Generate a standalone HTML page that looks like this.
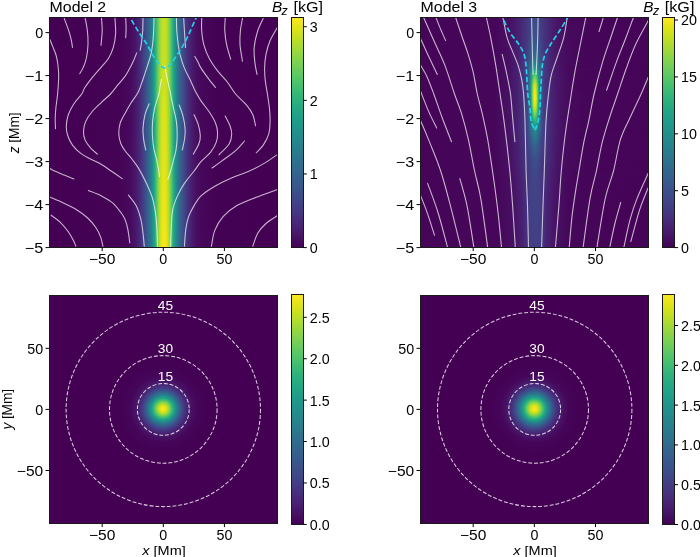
<!DOCTYPE html>
<html><head><meta charset="utf-8"><style>
html,body{margin:0;padding:0;background:#fff;}
#fig{position:relative;width:700px;height:557px;overflow:hidden;background:#fff;}
#fig div{position:absolute;}
text{font-family:"Liberation Sans",sans-serif;}
</style></head><body><div id="fig">
<div style="left:49.00px;top:17.30px;width:228.60px;height:2.60px;background:linear-gradient(90deg,#440154 0.0px,#450356 71.0px,#46095c 81.0px,#481467 86.0px,#482676 90.5px,#453681 93.5px,#39578c 98.0px,#2a768e 102.0px,#1f9a8a 105.0px,#23a984 106.0px,#33b679 107.0px,#56c666 108.5px,#83d44c 110.0px,#b7de2a 112.5px,#c9e01f 115.0px,#b7de2a 117.5px,#86d44a 120.0px,#4fc36b 122.0px,#2eb37c 123.5px,#21a585 124.5px,#1f988b 125.5px,#2d708e 129.0px,#3f4889 134.5px,#472e7c 138.5px,#48196b 143.5px,#470e61 147.5px,#45065a 152.5px,#440255 168.0px,#440154 228.5px)"></div>
<div style="left:49.00px;top:19.30px;width:228.60px;height:2.60px;background:linear-gradient(90deg,#440154 0.0px,#450356 71.0px,#46095c 81.0px,#481467 86.0px,#482676 90.5px,#453681 93.5px,#39578c 98.0px,#2a768e 102.0px,#1f9a8a 105.0px,#23a984 106.0px,#34b679 107.0px,#56c666 108.5px,#83d44b 110.0px,#b7de2a 112.5px,#cae01f 115.0px,#b7de2a 117.5px,#86d44a 120.0px,#4fc36b 122.0px,#2eb37c 123.5px,#21a585 124.5px,#1f988b 125.5px,#2d708e 129.0px,#3f4989 134.5px,#472e7c 138.5px,#48196b 143.5px,#470e61 147.5px,#45065a 152.5px,#440255 168.0px,#440154 228.5px)"></div>
<div style="left:49.00px;top:21.30px;width:228.60px;height:2.60px;background:linear-gradient(90deg,#440154 0.0px,#450356 71.0px,#46095c 81.0px,#481467 86.0px,#482677 90.5px,#453681 93.5px,#39578c 98.0px,#2a768e 102.0px,#1f9a8a 105.0px,#23a984 106.0px,#34b679 107.0px,#56c666 108.5px,#83d44b 110.0px,#b7de2a 112.5px,#cae01f 115.0px,#b7de2a 117.5px,#86d44a 120.0px,#4fc36a 122.0px,#2eb37c 123.5px,#21a685 124.5px,#1f988b 125.5px,#2d708e 129.0px,#3f4989 134.5px,#472e7c 138.5px,#48196b 143.5px,#470e61 147.5px,#45065a 152.5px,#440255 168.0px,#440154 228.5px)"></div>
<div style="left:49.00px;top:23.30px;width:228.60px;height:2.60px;background:linear-gradient(90deg,#440154 0.0px,#450356 71.0px,#46095c 81.0px,#481467 86.0px,#482677 90.5px,#453681 93.5px,#39578c 98.0px,#2a768e 102.0px,#1f9a8a 105.0px,#23a984 106.0px,#34b679 107.0px,#57c666 108.5px,#83d44b 110.0px,#b7de2a 112.5px,#cae11f 115.0px,#b8de2a 117.5px,#86d54a 120.0px,#4fc36a 122.0px,#2eb37c 123.5px,#21a685 124.5px,#1f988b 125.5px,#2d718e 129.0px,#3f4989 134.5px,#472e7c 138.5px,#48196b 143.5px,#470e61 147.5px,#46065a 152.5px,#440255 168.0px,#440154 228.5px)"></div>
<div style="left:49.00px;top:25.30px;width:228.60px;height:2.60px;background:linear-gradient(90deg,#440154 0.0px,#450356 71.0px,#46095c 81.0px,#481467 86.0px,#482677 90.5px,#453781 93.5px,#39578c 98.0px,#2a768e 102.0px,#1e9b8a 105.0px,#23a984 106.0px,#34b679 107.0px,#57c766 108.5px,#83d44b 110.0px,#b7de2a 112.5px,#cae11f 115.0px,#b8de29 117.5px,#86d549 120.0px,#4fc46a 122.0px,#2eb37c 123.5px,#21a685 124.5px,#1f988b 125.5px,#2d718e 129.0px,#3f4989 134.5px,#472e7c 138.5px,#48196b 143.5px,#470e61 147.5px,#46065a 152.5px,#440255 168.0px,#440154 228.5px)"></div>
<div style="left:49.00px;top:27.30px;width:228.60px;height:2.60px;background:linear-gradient(90deg,#440154 0.0px,#450356 71.0px,#46095d 81.0px,#481467 86.0px,#482677 90.5px,#453781 93.5px,#39578c 98.0px,#2a768e 102.0px,#1e9b8a 105.0px,#23a984 106.0px,#34b779 107.0px,#57c766 108.5px,#83d44b 110.0px,#b7de2a 112.5px,#cae11f 115.0px,#b8de29 117.5px,#86d549 120.0px,#4fc46a 122.0px,#2eb37c 123.5px,#21a685 124.5px,#1f988b 125.5px,#2d718e 129.0px,#3f4989 134.5px,#472e7c 138.5px,#48196b 143.5px,#470e61 147.5px,#46065a 152.5px,#440255 168.0px,#440154 228.5px)"></div>
<div style="left:49.00px;top:29.30px;width:228.60px;height:2.60px;background:linear-gradient(90deg,#440154 0.0px,#450356 71.0px,#46095d 81.0px,#481467 86.0px,#482677 90.5px,#453781 93.5px,#39578c 98.0px,#2a768e 102.0px,#1e9b8a 105.0px,#23a984 106.0px,#34b779 107.0px,#57c766 108.5px,#84d44b 110.0px,#b8de2a 112.5px,#cae11f 115.0px,#b8de29 117.5px,#86d549 120.0px,#4fc46a 122.0px,#2fb37c 123.5px,#21a685 124.5px,#1f988b 125.5px,#2d718e 129.0px,#3f4989 134.5px,#472e7c 138.5px,#48196b 143.5px,#470e61 147.5px,#46065a 152.5px,#440255 168.0px,#440154 228.5px)"></div>
<div style="left:49.00px;top:31.30px;width:228.60px;height:2.60px;background:linear-gradient(90deg,#440154 0.0px,#450356 71.0px,#46095d 81.0px,#481467 86.0px,#482677 90.5px,#453781 93.5px,#39578c 98.0px,#2a768e 102.0px,#1e9b8a 105.0px,#23a983 106.0px,#34b779 107.0px,#57c766 108.5px,#84d44b 110.0px,#b8de29 112.5px,#cbe11f 115.0px,#b8de29 117.5px,#87d549 120.0px,#4fc46a 122.0px,#2fb37c 123.5px,#21a685 124.5px,#1f988b 125.5px,#2d718e 129.0px,#3f4989 134.5px,#472e7c 138.5px,#48196b 143.5px,#470e61 147.5px,#46065a 152.5px,#440255 168.0px,#440154 228.5px)"></div>
<div style="left:49.00px;top:33.30px;width:228.60px;height:2.60px;background:linear-gradient(90deg,#440154 0.0px,#450356 71.0px,#46095d 81.0px,#481467 86.0px,#482677 90.5px,#453781 93.5px,#38578c 98.0px,#2a778e 102.0px,#1e9b8a 105.0px,#23a983 106.0px,#34b779 107.0px,#57c766 108.5px,#84d44b 110.0px,#b8de29 112.5px,#cbe11e 115.0px,#b8de29 117.5px,#87d549 120.0px,#4fc46a 122.0px,#2fb37c 123.5px,#21a685 124.5px,#1f988b 125.5px,#2d718e 129.0px,#3f4989 134.5px,#472e7c 138.5px,#48196b 143.5px,#470e61 147.5px,#46065a 152.5px,#440255 168.0px,#440154 228.5px)"></div>
<div style="left:49.00px;top:35.30px;width:228.60px;height:2.60px;background:linear-gradient(90deg,#440154 0.0px,#450356 71.0px,#46095d 81.0px,#481467 86.0px,#482677 90.5px,#453781 93.5px,#38578c 98.0px,#2a778e 102.0px,#1e9b8a 105.0px,#23a983 106.0px,#34b779 107.0px,#57c766 108.5px,#84d44b 110.0px,#b8de29 112.5px,#cbe11e 115.0px,#b9de29 117.5px,#87d549 120.0px,#4fc46a 122.0px,#2fb37c 123.5px,#21a685 124.5px,#1f988b 125.5px,#2d718e 129.0px,#3f4989 134.5px,#472e7c 138.5px,#48196b 143.5px,#470e61 147.5px,#46065a 152.5px,#440255 168.0px,#440154 228.5px)"></div>
<div style="left:49.00px;top:37.30px;width:228.60px;height:2.60px;background:linear-gradient(90deg,#440154 0.0px,#450356 71.0px,#46095d 81.0px,#481467 86.0px,#482677 90.5px,#453781 93.5px,#38578c 98.0px,#2a778e 102.0px,#1e9b8a 105.0px,#23a983 106.0px,#34b779 107.0px,#57c766 108.5px,#84d44b 110.0px,#b8de29 112.5px,#cbe11e 115.0px,#b9de29 117.5px,#87d549 120.0px,#4fc46a 122.0px,#2fb37c 123.5px,#21a685 124.5px,#1f988b 125.5px,#2b758e 128.5px,#3f4989 134.5px,#472e7c 138.5px,#48196b 143.5px,#470e61 147.5px,#46065a 152.5px,#440255 168.0px,#440154 228.5px)"></div>
<div style="left:49.00px;top:39.30px;width:228.60px;height:2.60px;background:linear-gradient(90deg,#440154 0.0px,#450356 71.0px,#46095d 81.0px,#481467 86.0px,#482677 90.5px,#453781 93.5px,#38578c 98.0px,#2a778e 102.0px,#1e9b8a 105.0px,#23a983 106.0px,#34b779 107.0px,#57c766 108.5px,#84d44b 110.0px,#b8de29 112.5px,#cbe11e 115.0px,#b9de29 117.5px,#87d549 120.0px,#50c46a 122.0px,#2fb37c 123.5px,#21a685 124.5px,#1f988b 125.5px,#2b758e 128.5px,#3f4989 134.5px,#472e7c 138.5px,#48196b 143.5px,#470e61 147.5px,#46065a 152.5px,#440255 168.0px,#440154 228.5px)"></div>
<div style="left:49.00px;top:41.30px;width:228.60px;height:2.60px;background:linear-gradient(90deg,#440154 0.0px,#450356 71.0px,#46095d 81.0px,#481467 86.0px,#482677 90.5px,#453781 93.5px,#38578c 98.0px,#2a778e 102.0px,#1e9b8a 105.0px,#23a983 106.0px,#34b779 107.0px,#57c765 108.5px,#84d44b 110.0px,#b8de29 112.5px,#cbe11e 115.0px,#b9de29 117.5px,#87d549 120.0px,#50c46a 122.0px,#2fb37c 123.5px,#21a685 124.5px,#1f988b 125.5px,#2b758e 128.5px,#3f4989 134.5px,#472e7c 138.5px,#48196b 143.5px,#470e61 147.5px,#46065a 152.5px,#440255 168.0px,#440154 228.5px)"></div>
<div style="left:49.00px;top:43.30px;width:228.60px;height:2.60px;background:linear-gradient(90deg,#440154 0.0px,#450356 71.0px,#46095d 81.0px,#481467 86.0px,#482677 90.5px,#453781 93.5px,#38578c 98.0px,#2a778e 102.0px,#1e9b8a 105.0px,#23a983 106.0px,#34b779 107.0px,#58c765 108.5px,#84d44b 110.0px,#b9de29 112.5px,#cbe11e 115.0px,#b9de29 117.5px,#87d549 120.0px,#50c46a 122.0px,#2fb37c 123.5px,#21a685 124.5px,#1f988b 125.5px,#2b758e 128.5px,#3f4989 134.5px,#472e7c 138.5px,#48196b 143.5px,#470e61 147.5px,#46065a 152.5px,#440255 168.0px,#440154 228.5px)"></div>
<div style="left:49.00px;top:45.30px;width:228.60px;height:2.60px;background:linear-gradient(90deg,#440154 0.0px,#450356 71.0px,#46095d 81.0px,#481467 86.0px,#482677 90.5px,#453781 93.5px,#38578c 98.0px,#2a778e 102.0px,#1e9b8a 105.0px,#23a983 106.0px,#34b779 107.0px,#58c765 108.5px,#85d44a 110.0px,#b9de29 112.5px,#cce11e 115.0px,#b9de28 117.5px,#87d549 120.0px,#50c46a 122.0px,#2fb37c 123.5px,#21a685 124.5px,#1f998a 125.5px,#2b758e 128.5px,#3f4989 134.5px,#472e7c 138.5px,#48196b 143.5px,#470e61 147.5px,#46065a 152.5px,#440255 168.0px,#440154 228.5px)"></div>
<div style="left:49.00px;top:47.30px;width:228.60px;height:2.60px;background:linear-gradient(90deg,#440154 0.0px,#450356 71.0px,#46095d 81.0px,#481467 86.0px,#482677 90.5px,#453781 93.5px,#38578c 98.0px,#2a778e 102.0px,#1e9b8a 105.0px,#23a983 106.0px,#34b779 107.0px,#58c765 108.5px,#85d44a 110.0px,#b9de29 112.5px,#cce11e 115.0px,#b9de28 117.5px,#88d549 120.0px,#50c46a 122.0px,#2fb37c 123.5px,#21a685 124.5px,#1f998a 125.5px,#2b758e 128.5px,#3f4989 134.5px,#472e7c 138.5px,#48196b 143.5px,#470e61 147.5px,#46065a 152.5px,#440255 168.0px,#440154 228.5px)"></div>
<div style="left:49.00px;top:49.30px;width:228.60px;height:2.60px;background:linear-gradient(90deg,#440154 0.0px,#450356 71.0px,#46095d 81.0px,#481467 86.0px,#482677 90.5px,#453781 93.5px,#38578c 98.0px,#2a778e 102.0px,#1e9b8a 105.0px,#23a983 106.0px,#34b779 107.0px,#58c765 108.5px,#85d44a 110.0px,#b9de29 112.5px,#cce11e 115.0px,#bade28 117.5px,#88d548 120.0px,#50c46a 122.0px,#2fb47c 123.5px,#21a685 124.5px,#1f998a 125.5px,#2b758e 128.5px,#3f4989 134.5px,#472e7c 138.5px,#48196b 143.5px,#470e61 147.5px,#46065a 152.5px,#440255 168.0px,#440154 228.5px)"></div>
<div style="left:49.00px;top:51.30px;width:228.60px;height:2.60px;background:linear-gradient(90deg,#440154 0.0px,#450356 71.0px,#46095d 81.0px,#481467 86.0px,#482677 90.5px,#453781 93.5px,#38578c 98.0px,#2a778e 102.0px,#1e9b8a 105.0px,#23a983 106.0px,#35b779 107.0px,#58c765 108.5px,#85d44a 110.0px,#b9de28 112.5px,#cce11e 115.0px,#bade28 117.5px,#88d548 120.0px,#50c46a 122.0px,#2fb47c 123.5px,#21a685 124.5px,#1f998a 125.5px,#2b758e 128.5px,#3f4989 134.5px,#472e7c 138.5px,#48196b 143.5px,#470e61 147.5px,#46065a 152.5px,#440255 168.0px,#440154 228.5px)"></div>
<div style="left:49.00px;top:53.30px;width:228.60px;height:2.60px;background:linear-gradient(90deg,#440154 0.0px,#450356 71.0px,#46095d 81.0px,#481467 86.0px,#482677 90.5px,#453781 93.5px,#38578c 98.0px,#2a778e 102.0px,#1e9b8a 105.0px,#23a983 106.0px,#35b779 107.0px,#58c765 108.5px,#85d44a 110.0px,#b9de28 112.5px,#cce11e 115.0px,#bade28 117.5px,#88d548 120.0px,#50c46a 122.0px,#2fb47c 123.5px,#21a685 124.5px,#1f998a 125.5px,#2b758e 128.5px,#3f4989 134.5px,#472e7c 138.5px,#48196b 143.5px,#470e61 147.5px,#46065a 152.5px,#440255 168.0px,#440154 228.5px)"></div>
<div style="left:49.00px;top:55.30px;width:228.60px;height:2.60px;background:linear-gradient(90deg,#440154 0.0px,#450356 71.0px,#46095d 81.0px,#481467 86.0px,#482677 90.5px,#453781 93.5px,#38578c 98.0px,#2a778e 102.0px,#1e9b8a 105.0px,#23a983 106.0px,#35b779 107.0px,#58c765 108.5px,#85d44a 110.0px,#bade28 112.5px,#cce11e 115.0px,#bade28 117.5px,#88d548 120.0px,#50c46a 122.0px,#2fb47c 123.5px,#21a685 124.5px,#1f998a 125.5px,#2b758e 128.5px,#3f4989 134.5px,#472e7c 138.5px,#48196b 143.5px,#470e61 147.5px,#46065a 152.5px,#440255 168.0px,#440154 228.5px)"></div>
<div style="left:49.00px;top:57.30px;width:228.60px;height:2.60px;background:linear-gradient(90deg,#440154 0.0px,#450356 71.0px,#46095d 81.0px,#481467 86.0px,#482677 90.5px,#453781 93.5px,#38578c 98.0px,#2a778e 102.0px,#1e9b8a 105.0px,#23a983 106.0px,#35b779 107.0px,#58c765 108.5px,#85d44a 110.0px,#bade28 112.5px,#cde11e 115.0px,#bade28 117.5px,#88d548 120.0px,#50c46a 122.0px,#2fb47c 123.5px,#21a685 124.5px,#1f998a 125.5px,#2b758e 128.5px,#3f4989 134.5px,#472e7c 138.5px,#48196b 143.5px,#470e61 147.5px,#46065a 152.5px,#440255 168.0px,#440154 228.5px)"></div>
<div style="left:49.00px;top:59.30px;width:228.60px;height:2.60px;background:linear-gradient(90deg,#440154 0.0px,#450356 71.0px,#46095d 81.0px,#481467 86.0px,#482677 90.5px,#453781 93.5px,#38578c 98.0px,#2a778e 102.0px,#1e9b8a 105.0px,#23a983 106.0px,#35b779 107.0px,#58c765 108.5px,#86d44a 110.0px,#bade28 112.5px,#cde11d 115.0px,#bade28 117.5px,#88d548 120.0px,#51c469 122.0px,#2fb47c 123.5px,#21a685 124.5px,#1f998a 125.5px,#2b768e 128.5px,#3f4989 134.5px,#472f7c 138.5px,#48196b 143.5px,#470e61 147.5px,#46065a 152.5px,#440255 168.0px,#440154 228.5px)"></div>
<div style="left:49.00px;top:61.30px;width:228.60px;height:2.60px;background:linear-gradient(90deg,#440154 0.0px,#450356 71.0px,#46095d 81.0px,#481467 86.0px,#482677 90.5px,#453781 93.5px,#38578c 98.0px,#2a778e 102.0px,#1e9b8a 105.0px,#24aa83 106.0px,#35b779 107.0px,#59c765 108.5px,#86d549 110.0px,#bbde28 112.5px,#cee11d 115.0px,#bbde27 117.5px,#89d548 120.0px,#51c469 122.0px,#30b47c 123.5px,#21a685 124.5px,#1f998a 125.5px,#2b768e 128.5px,#3f4989 134.5px,#472f7c 138.5px,#48196b 143.5px,#470e61 147.5px,#46075a 152.5px,#440255 168.0px,#440154 228.5px)"></div>
<div style="left:49.00px;top:63.30px;width:228.60px;height:2.60px;background:linear-gradient(90deg,#440154 0.0px,#450356 71.0px,#46095d 81.0px,#481467 86.0px,#482677 90.5px,#453781 93.5px,#38578c 98.0px,#2a778e 102.0px,#1e9b8a 105.0px,#24aa83 106.0px,#35b778 107.0px,#59c764 108.5px,#87d549 110.0px,#bbde27 112.5px,#cee11d 115.0px,#bcdf27 117.5px,#8ad547 120.0px,#51c469 122.0px,#30b47b 123.5px,#21a685 124.5px,#1f998a 125.5px,#2b768e 128.5px,#3f4989 134.5px,#472f7d 138.5px,#48196b 143.5px,#470e61 147.5px,#46075a 152.5px,#440255 168.0px,#440154 228.5px)"></div>
<div style="left:49.00px;top:65.30px;width:228.60px;height:2.60px;background:linear-gradient(90deg,#440154 0.0px,#450356 71.0px,#46095d 81.0px,#481467 86.0px,#482777 90.5px,#453781 93.5px,#38578c 98.0px,#2a778e 102.0px,#1e9c8a 105.0px,#24aa83 106.0px,#36b878 107.0px,#5ac864 108.5px,#87d549 110.0px,#bcdf27 112.5px,#cfe11d 115.0px,#bcdf26 117.5px,#8ad547 120.0px,#52c569 122.0px,#30b47b 123.5px,#21a785 124.5px,#1f998a 125.5px,#2b768e 128.5px,#3f4989 134.5px,#472f7d 138.5px,#48196b 143.5px,#470e61 147.5px,#46075a 152.5px,#440255 168.0px,#440154 228.5px)"></div>
<div style="left:49.00px;top:67.30px;width:228.60px;height:2.60px;background:linear-gradient(90deg,#440154 0.0px,#450356 71.0px,#46095d 81.0px,#481467 86.0px,#482777 90.5px,#453781 93.5px,#38578c 98.0px,#2a778e 102.0px,#1e9c8a 105.0px,#24aa83 106.0px,#36b878 107.0px,#5ac864 108.5px,#88d548 110.0px,#bddf26 112.5px,#d0e11c 115.0px,#bddf26 117.5px,#8bd647 120.0px,#52c569 122.0px,#30b47b 123.5px,#22a785 124.5px,#1f998a 125.5px,#2b768e 128.5px,#3f4989 134.5px,#472f7d 138.5px,#48196b 143.5px,#470e61 147.5px,#46075a 152.5px,#440255 168.0px,#440154 228.5px)"></div>
<div style="left:49.00px;top:69.30px;width:228.60px;height:2.60px;background:linear-gradient(90deg,#440154 0.0px,#450356 71.0px,#46095d 81.0px,#481467 86.0px,#482777 90.5px,#453782 93.5px,#38578c 98.0px,#2a778e 102.0px,#1e9c89 105.0px,#24aa83 106.0px,#36b878 107.0px,#5bc864 108.5px,#88d548 110.0px,#bddf26 112.5px,#d0e11c 115.0px,#bedf26 117.5px,#8bd646 120.0px,#53c568 122.0px,#31b57b 123.5px,#22a785 124.5px,#1f998a 125.5px,#2b768e 128.5px,#3f4989 134.5px,#472f7d 138.5px,#48196b 143.5px,#470e61 147.5px,#46075a 152.5px,#440255 168.0px,#440154 228.5px)"></div>
<div style="left:49.00px;top:71.30px;width:228.60px;height:2.60px;background:linear-gradient(90deg,#440154 0.0px,#450356 71.0px,#46095d 81.0px,#481467 86.0px,#482777 90.5px,#453782 93.5px,#38578c 98.0px,#2a778e 102.0px,#1e9c89 105.0px,#24aa83 106.0px,#37b878 107.0px,#5bc863 108.5px,#89d548 110.0px,#bedf26 112.5px,#d1e11c 115.0px,#bedf25 117.5px,#8cd646 120.0px,#53c568 122.0px,#31b57b 123.5px,#22a784 124.5px,#1f9a8a 125.5px,#2b768e 128.5px,#3f4989 134.5px,#472f7d 138.5px,#48196b 143.5px,#470e61 147.5px,#46075a 152.5px,#440255 168.0px,#440154 228.5px)"></div>
<div style="left:49.00px;top:73.30px;width:228.60px;height:2.60px;background:linear-gradient(90deg,#440154 0.0px,#450356 71.0px,#46095d 81.0px,#481467 86.0px,#482777 90.5px,#453782 93.5px,#38588c 98.0px,#2a788e 102.0px,#1e9c89 105.0px,#24aa83 106.0px,#37b878 107.0px,#5bc863 108.5px,#89d547 110.0px,#bfdf25 112.5px,#d2e21b 115.0px,#bfdf25 117.5px,#8cd645 120.0px,#53c568 122.0px,#31b57b 123.5px,#22a784 124.5px,#1f9a8a 125.5px,#2a768e 128.5px,#3e4989 134.5px,#472f7d 138.5px,#48196b 143.5px,#470e61 147.5px,#46075a 152.5px,#440255 168.0px,#440154 228.5px)"></div>
<div style="left:49.00px;top:75.30px;width:228.60px;height:2.60px;background:linear-gradient(90deg,#440154 0.0px,#450356 71.0px,#46095d 81.0px,#481567 86.0px,#482777 90.5px,#453782 93.5px,#38588c 98.0px,#2a788e 102.0px,#1f968b 104.5px,#20a386 105.5px,#24ab82 106.0px,#37b877 107.0px,#5cc863 108.5px,#8ad547 110.0px,#bfdf25 112.5px,#d2e21b 115.0px,#c0df24 117.5px,#8dd645 120.0px,#54c568 122.0px,#31b57b 123.5px,#22a784 124.5px,#1f9a8a 125.5px,#2a768e 128.5px,#3e4989 134.5px,#472f7d 138.5px,#48196b 143.5px,#470e61 147.5px,#46075a 152.5px,#440255 168.0px,#440154 228.5px)"></div>
<div style="left:49.00px;top:77.30px;width:228.60px;height:2.60px;background:linear-gradient(90deg,#440154 0.0px,#450356 71.0px,#46095d 81.0px,#481567 86.0px,#482777 90.5px,#453782 93.5px,#38588c 98.0px,#2a788e 102.0px,#1f968b 104.5px,#20a486 105.5px,#25ab82 106.0px,#37b977 107.0px,#5cc963 108.5px,#8bd647 110.0px,#c0df24 112.5px,#d3e21b 115.0px,#c0df24 117.5px,#8ed645 120.0px,#54c667 122.0px,#32b57b 123.5px,#22a884 124.5px,#1f9a8a 125.5px,#2a768e 128.5px,#3e4989 134.5px,#472f7d 138.5px,#48196b 143.5px,#470e61 147.5px,#46075a 152.5px,#440255 168.0px,#440154 228.5px)"></div>
<div style="left:49.00px;top:79.30px;width:228.60px;height:2.60px;background:linear-gradient(90deg,#440154 0.0px,#450356 71.0px,#46095d 81.0px,#481567 86.0px,#482777 90.5px,#453782 93.5px,#38588c 98.0px,#2a788e 102.0px,#1f968b 104.5px,#20a486 105.5px,#25ab82 106.0px,#38b977 107.0px,#5dc962 108.5px,#8bd646 110.0px,#c1df24 112.5px,#d4e21b 115.0px,#c1df24 117.5px,#8ed644 120.0px,#55c667 122.0px,#32b57a 123.5px,#22a884 124.5px,#1f9a8a 125.5px,#2a778e 128.5px,#3e4a89 134.5px,#472f7d 138.5px,#48196b 143.5px,#470e61 147.5px,#46075a 152.5px,#440255 168.0px,#440154 228.5px)"></div>
<div style="left:49.00px;top:81.30px;width:228.60px;height:2.60px;background:linear-gradient(90deg,#440154 0.0px,#450356 71.0px,#46095d 81.0px,#481567 86.0px,#482777 90.5px,#453782 93.5px,#38588c 98.0px,#2a788e 102.0px,#1f978b 104.5px,#20a486 105.5px,#25ab82 106.0px,#38b977 107.0px,#5dc962 108.5px,#8cd646 110.0px,#c1df24 112.5px,#d4e21a 115.0px,#c2df23 117.5px,#8fd744 120.0px,#55c667 122.0px,#32b57a 123.5px,#22a884 124.5px,#1f9a8a 125.5px,#2a778e 128.5px,#3e4a89 134.5px,#472f7d 138.5px,#48196b 143.5px,#470e61 147.5px,#46075a 152.5px,#440255 168.0px,#440154 228.5px)"></div>
<div style="left:49.00px;top:83.30px;width:228.60px;height:2.60px;background:linear-gradient(90deg,#440154 0.0px,#450356 71.0px,#46095d 81.0px,#481567 86.0px,#482777 90.5px,#453782 93.5px,#38588c 98.0px,#2a788e 102.0px,#1f978b 104.5px,#20a486 105.5px,#25ab82 106.0px,#38b977 107.0px,#5ec962 108.5px,#8cd645 110.0px,#c2df23 112.5px,#d5e21a 115.0px,#c2df23 117.5px,#8fd744 120.0px,#55c667 122.0px,#32b67a 123.5px,#22a884 124.5px,#1f9a8a 125.5px,#2a778e 128.5px,#3e4a89 134.5px,#472f7d 138.5px,#48196b 143.5px,#470e61 147.5px,#46075a 152.5px,#440255 168.0px,#440154 228.5px)"></div>
<div style="left:49.00px;top:85.30px;width:228.60px;height:2.60px;background:linear-gradient(90deg,#440154 0.0px,#450356 71.0px,#46095d 81.0px,#481567 86.0px,#482777 90.5px,#453782 93.5px,#38588c 98.0px,#2a788e 102.0px,#1f978b 104.5px,#20a486 105.5px,#25ab82 106.0px,#39b977 107.0px,#5ec962 108.5px,#8dd645 110.0px,#c3e023 112.5px,#d6e21a 115.0px,#c3e023 117.5px,#90d743 120.0px,#56c666 122.0px,#33b67a 123.5px,#22a884 124.5px,#1e9b8a 125.5px,#2a778e 128.5px,#3e4a89 134.5px,#472f7d 138.5px,#48196b 143.5px,#470e61 147.5px,#46075a 152.5px,#440255 168.0px,#440154 228.5px)"></div>
<div style="left:49.00px;top:87.30px;width:228.60px;height:2.60px;background:linear-gradient(90deg,#440154 0.0px,#450356 71.0px,#46095d 81.0px,#481567 86.0px,#482777 90.5px,#453782 93.5px,#38588c 98.0px,#2a788e 102.0px,#1f978b 104.5px,#20a486 105.5px,#25ac82 106.0px,#39b977 107.0px,#5fc961 108.5px,#8ed645 110.0px,#c3e022 112.5px,#d6e21a 115.0px,#c4e022 117.5px,#91d743 120.0px,#56c666 122.0px,#33b67a 123.5px,#23a884 124.5px,#1e9b8a 125.5px,#2a778e 128.5px,#3e4a89 134.5px,#472f7d 138.5px,#48196b 143.5px,#470e61 147.5px,#46075a 152.5px,#440255 168.0px,#440154 228.5px)"></div>
<div style="left:49.00px;top:89.30px;width:228.60px;height:2.60px;background:linear-gradient(90deg,#440154 0.0px,#450356 71.0px,#46095d 81.0px,#481567 86.0px,#482777 90.5px,#453882 93.5px,#38588c 98.0px,#2a788e 102.0px,#1f978b 104.5px,#20a486 105.5px,#25ac82 106.0px,#39ba76 107.0px,#5fc961 108.5px,#8ed644 110.0px,#c4e022 112.5px,#d7e21a 115.0px,#c4e022 117.5px,#91d742 120.0px,#57c766 122.0px,#33b67a 123.5px,#23a884 124.5px,#1e9b8a 125.5px,#2a778e 128.5px,#3e4a89 134.5px,#472f7d 138.5px,#48196b 143.5px,#470e61 147.5px,#46075a 152.5px,#440255 168.0px,#440154 228.5px)"></div>
<div style="left:49.00px;top:91.30px;width:228.60px;height:2.60px;background:linear-gradient(90deg,#440154 0.0px,#450356 71.0px,#46095d 81.0px,#481567 86.0px,#482777 90.5px,#453882 93.5px,#38588c 98.0px,#2a788e 102.0px,#1f978b 104.5px,#20a586 105.5px,#26ac82 106.0px,#39ba76 107.0px,#60ca61 108.5px,#8fd744 110.0px,#c5e022 112.5px,#d8e219 115.0px,#c5e021 117.5px,#92d742 120.0px,#57c766 122.0px,#33b679 123.5px,#23a984 124.5px,#1e9b8a 125.5px,#2a778e 128.5px,#3e4a89 134.5px,#472f7d 138.5px,#48196b 143.5px,#470e61 147.5px,#46075a 152.5px,#440255 168.0px,#440154 228.5px)"></div>
<div style="left:49.00px;top:93.30px;width:228.60px;height:2.60px;background:linear-gradient(90deg,#440154 0.0px,#450356 71.0px,#46095d 81.0px,#481567 86.0px,#482777 90.5px,#453882 93.5px,#38588c 98.0px,#2a798e 102.0px,#1f978b 104.5px,#20a586 105.5px,#26ac82 106.0px,#3aba76 107.0px,#60ca61 108.5px,#8fd743 110.0px,#c5e021 112.5px,#d9e219 115.0px,#c6e021 117.5px,#93d742 120.0px,#58c765 122.0px,#34b679 123.5px,#23a983 124.5px,#1e9b8a 125.5px,#2a778e 128.5px,#3e4a89 134.5px,#472f7d 138.5px,#48196b 143.5px,#470e61 147.5px,#46075a 152.5px,#440255 168.0px,#440154 228.5px)"></div>
<div style="left:49.00px;top:95.30px;width:228.60px;height:2.60px;background:linear-gradient(90deg,#440154 0.0px,#450356 71.0px,#46095d 81.0px,#481567 86.0px,#482777 90.5px,#453882 93.5px,#38588c 98.0px,#29798e 102.0px,#1f988b 104.5px,#21a586 105.5px,#26ac81 106.0px,#3aba76 107.0px,#61ca60 108.5px,#90d743 110.0px,#c6e021 112.5px,#d9e219 115.0px,#c7e020 117.5px,#93d741 120.0px,#58c765 122.0px,#34b779 123.5px,#23a983 124.5px,#1e9b8a 125.5px,#2a778e 128.5px,#3e4a89 134.5px,#472f7d 138.5px,#48196c 143.5px,#470e61 147.5px,#46075a 152.5px,#440255 168.0px,#440154 228.5px)"></div>
<div style="left:49.00px;top:97.30px;width:228.60px;height:2.60px;background:linear-gradient(90deg,#440154 0.0px,#450356 71.0px,#46095d 81.0px,#481567 86.0px,#482777 90.5px,#453882 93.5px,#38598c 98.0px,#29798e 102.0px,#1f988b 104.5px,#21a585 105.5px,#26ac81 106.0px,#3bba76 107.0px,#61ca60 108.5px,#91d743 110.0px,#c7e020 112.5px,#dae319 115.0px,#c8e020 117.5px,#94d841 120.0px,#59c765 122.0px,#34b779 123.5px,#23a983 124.5px,#1e9c8a 125.5px,#2a788e 128.5px,#3e4a89 134.5px,#472f7d 138.5px,#48196c 143.5px,#470e61 147.5px,#46075a 152.5px,#440255 167.5px,#440154 228.5px)"></div>
<div style="left:49.00px;top:99.30px;width:228.60px;height:2.60px;background:linear-gradient(90deg,#440154 0.0px,#450356 71.0px,#46095d 81.0px,#481567 86.0px,#482777 90.5px,#453882 93.5px,#38598c 98.0px,#29798e 102.0px,#1f988b 104.5px,#21a585 105.5px,#26ad81 106.0px,#3bba75 107.0px,#62ca60 108.5px,#92d742 110.0px,#c8e020 112.5px,#dbe319 115.0px,#c8e020 117.5px,#95d840 120.0px,#59c764 122.0px,#35b779 123.5px,#23a983 124.5px,#1e9c89 125.5px,#2a788e 128.5px,#3e4a89 134.5px,#472f7d 138.5px,#48196c 143.5px,#470e61 147.5px,#46075a 152.5px,#440255 167.5px,#440154 228.5px)"></div>
<div style="left:49.00px;top:101.30px;width:228.60px;height:2.60px;background:linear-gradient(90deg,#440154 0.0px,#450356 71.0px,#46095d 81.0px,#481567 86.0px,#482777 90.5px,#453882 93.5px,#38598c 98.0px,#29798e 102.0px,#1f988b 104.5px,#21a685 105.5px,#27ad81 106.0px,#3bbb75 107.0px,#62cb5f 108.5px,#92d742 110.0px,#c9e020 112.5px,#dce319 115.0px,#c9e01f 117.5px,#95d840 120.0px,#5ac864 122.0px,#35b779 123.5px,#24aa83 124.5px,#1e9c89 125.5px,#2a788e 128.5px,#3e4a89 134.5px,#472f7d 138.5px,#48196c 143.5px,#470e61 147.5px,#46075a 152.5px,#440255 167.5px,#440154 228.5px)"></div>
<div style="left:49.00px;top:103.30px;width:228.60px;height:2.60px;background:linear-gradient(90deg,#440154 0.0px,#450356 71.0px,#46095d 81.0px,#481567 86.0px,#482777 90.5px,#453882 93.5px,#38598c 98.0px,#29798e 102.0px,#1f988b 104.5px,#21a685 105.5px,#27ad81 106.0px,#3cbb75 107.0px,#63cb5f 108.5px,#93d741 110.0px,#c9e01f 112.5px,#dde319 115.0px,#cae11f 117.5px,#96d83f 120.0px,#5ac864 122.0px,#35b778 123.5px,#24aa83 124.5px,#1e9c89 125.5px,#2a788e 128.5px,#3e4a89 134.5px,#47307d 138.5px,#481a6c 143.5px,#470e61 147.5px,#46075a 152.5px,#440255 167.5px,#440154 228.5px)"></div>
<div style="left:49.00px;top:105.30px;width:228.60px;height:2.60px;background:linear-gradient(90deg,#440154 0.0px,#450356 71.0px,#46095d 81.0px,#481567 86.0px,#482777 90.5px,#453882 93.5px,#37598c 98.0px,#29798e 102.0px,#1f988b 104.5px,#21a685 105.5px,#27ad81 106.0px,#3cbb75 107.0px,#63cb5f 108.5px,#94d841 110.0px,#cae11f 112.5px,#dde318 115.0px,#cbe11e 117.5px,#97d83f 120.0px,#5bc864 122.0px,#36b878 123.5px,#24aa83 124.5px,#1e9c89 125.5px,#277e8e 128.0px,#2d708e 129.5px,#404788 135.0px,#47307d 138.5px,#481a6c 143.5px,#470e61 147.5px,#46075a 152.5px,#440255 167.5px,#440154 228.5px)"></div>
<div style="left:49.00px;top:107.30px;width:228.60px;height:2.60px;background:linear-gradient(90deg,#440154 0.0px,#450356 71.0px,#46095d 81.0px,#481567 86.0px,#482777 90.5px,#453882 93.5px,#37598c 98.0px,#29798e 102.0px,#1f998a 104.5px,#21a685 105.5px,#27ad81 106.0px,#3cbb75 107.0px,#64cb5e 108.5px,#94d840 110.0px,#cbe11e 112.5px,#dee318 115.0px,#cce11e 117.5px,#97d83e 120.0px,#5bc863 122.0px,#36b878 123.5px,#24aa83 124.5px,#1e9c89 125.5px,#277e8e 128.0px,#2d708e 129.5px,#3f4788 135.0px,#47307d 138.5px,#481a6c 143.5px,#470e61 147.5px,#46075a 152.5px,#440255 167.5px,#440154 228.5px)"></div>
<div style="left:49.00px;top:109.30px;width:228.60px;height:2.60px;background:linear-gradient(90deg,#440154 0.0px,#450356 71.0px,#46095d 81.0px,#481567 86.0px,#482777 90.5px,#453882 93.5px,#37598c 98.0px,#297a8e 102.0px,#1f998a 104.5px,#21a685 105.5px,#27ad81 106.0px,#3dbb74 107.0px,#64cb5e 108.5px,#95d840 110.0px,#cce11e 112.5px,#dfe318 115.0px,#cce11e 117.5px,#98d83e 120.0px,#5cc863 122.0px,#36b878 123.5px,#24aa83 124.5px,#1e9d89 125.5px,#277e8e 128.0px,#2d708e 129.5px,#3f4788 135.0px,#47307d 138.5px,#481a6c 143.5px,#470e61 147.5px,#46075a 152.5px,#440255 167.5px,#440154 228.5px)"></div>
<div style="left:49.00px;top:111.30px;width:228.60px;height:2.60px;background:linear-gradient(90deg,#440154 0.0px,#450356 71.0px,#46095d 81.0px,#481567 86.0px,#482777 90.5px,#453882 93.5px,#37598c 98.0px,#297a8e 102.0px,#1f998a 104.5px,#21a685 105.5px,#27ae80 106.0px,#3dbc74 107.0px,#65cb5e 108.5px,#96d83f 110.0px,#cde11e 112.5px,#e0e318 115.0px,#cde11d 117.5px,#99d93d 120.0px,#5cc963 122.0px,#37b878 123.5px,#24aa83 124.5px,#1e9d89 125.5px,#277f8e 128.0px,#2d708e 129.5px,#3f4788 135.0px,#47307d 138.5px,#481a6c 143.5px,#470e61 147.5px,#46075a 152.5px,#440255 167.5px,#440154 228.5px)"></div>
<div style="left:49.00px;top:113.30px;width:228.60px;height:2.60px;background:linear-gradient(90deg,#440154 0.0px,#450356 71.0px,#46095d 81.0px,#481567 86.0px,#482777 90.5px,#453882 93.5px,#37598c 98.0px,#297a8e 102.0px,#1f998a 104.5px,#21a785 105.5px,#28ae80 106.0px,#3dbc74 107.0px,#66cc5d 108.5px,#96d83f 110.0px,#cde11d 112.5px,#e0e318 115.0px,#cee11d 117.5px,#9ad93d 120.0px,#5dc962 122.0px,#37b878 123.5px,#24ab82 124.5px,#1e9d89 125.5px,#277f8e 128.0px,#2d708e 129.5px,#3f4788 135.0px,#47307d 138.5px,#481a6c 143.5px,#470e61 147.5px,#46075a 152.5px,#440255 167.5px,#440154 228.5px)"></div>
<div style="left:49.00px;top:115.30px;width:228.60px;height:2.60px;background:linear-gradient(90deg,#440154 0.0px,#450356 71.0px,#46095d 81.0px,#481567 86.0px,#482877 90.5px,#453882 93.5px,#37598c 98.0px,#297a8e 102.0px,#1f998a 104.5px,#22a785 105.5px,#28ae80 106.0px,#3ebc74 107.0px,#66cc5d 108.5px,#97d83f 110.0px,#cee11d 112.5px,#e1e318 115.0px,#cee11d 117.5px,#9ad93d 120.0px,#5dc962 122.0px,#2cb27d 124.0px,#25ab82 124.5px,#1e9d89 125.5px,#277f8e 128.0px,#2d708e 129.5px,#3f4788 135.0px,#47307d 138.5px,#481a6c 143.5px,#470e61 147.5px,#46075a 152.5px,#440255 167.5px,#440154 228.5px)"></div>
<div style="left:49.00px;top:117.30px;width:228.60px;height:2.60px;background:linear-gradient(90deg,#440154 0.0px,#450356 71.0px,#46095d 81.0px,#481567 86.0px,#482877 90.5px,#453882 93.5px,#37598c 98.0px,#297a8e 102.0px,#1f998a 104.5px,#22a785 105.5px,#28ae80 106.0px,#3ebc74 107.0px,#66cc5d 108.5px,#97d83f 110.0px,#cee11d 112.5px,#e1e318 115.0px,#cfe11d 117.5px,#9ad93d 120.0px,#5dc962 122.0px,#2db27d 124.0px,#25ab82 124.5px,#1e9d89 125.5px,#277f8e 128.0px,#2d708e 129.5px,#3f4788 135.0px,#47307d 138.5px,#481a6c 143.5px,#470e61 147.5px,#46075a 152.5px,#440255 167.5px,#440154 228.5px)"></div>
<div style="left:49.00px;top:119.30px;width:228.60px;height:2.60px;background:linear-gradient(90deg,#440154 0.0px,#450356 71.0px,#46095d 81.0px,#481567 86.0px,#482878 90.5px,#453882 93.5px,#37598c 98.0px,#297a8e 102.0px,#1f998a 104.5px,#22a785 105.5px,#28ae80 106.0px,#3ebc74 107.0px,#66cc5d 108.5px,#97d83e 110.0px,#cfe11d 112.5px,#e2e418 115.0px,#cfe11c 117.5px,#9bd93c 120.0px,#5ec962 122.0px,#2db27d 124.0px,#25ab82 124.5px,#1e9d89 125.5px,#277f8e 128.0px,#2d708e 129.5px,#3f4788 135.0px,#47307d 138.5px,#481a6c 143.5px,#470e61 147.5px,#46075a 152.5px,#440255 167.5px,#440154 228.5px)"></div>
<div style="left:49.00px;top:121.30px;width:228.60px;height:2.60px;background:linear-gradient(90deg,#440154 0.0px,#450356 71.0px,#46095d 81.0px,#481567 86.0px,#482878 90.5px,#453882 93.5px,#37598c 98.0px,#297a8e 102.0px,#1f998a 104.5px,#22a785 105.5px,#28ae80 106.0px,#3ebc74 107.0px,#67cc5d 108.5px,#98d83e 110.0px,#cfe11d 112.5px,#e2e418 115.0px,#cfe11c 117.5px,#9bd93c 120.0px,#5ec962 122.0px,#2db27d 124.0px,#25ab82 124.5px,#1e9d89 125.5px,#277f8e 128.0px,#2d708e 129.5px,#3f4788 135.0px,#47307d 138.5px,#481a6c 143.5px,#470e61 147.5px,#46075a 152.5px,#440255 167.5px,#440154 228.5px)"></div>
<div style="left:49.00px;top:123.30px;width:228.60px;height:2.60px;background:linear-gradient(90deg,#440154 0.0px,#450356 71.0px,#46095d 81.0px,#481567 86.0px,#482878 90.5px,#453882 93.5px,#37598c 98.0px,#297a8e 102.0px,#1f998a 104.5px,#22a785 105.5px,#28ae80 106.0px,#3ebc73 107.0px,#67cc5d 108.5px,#98d83e 110.0px,#cfe11c 112.5px,#e2e418 115.0px,#d0e11c 117.5px,#a6db35 119.5px,#9bd93c 120.0px,#5ec962 122.0px,#2db27d 124.0px,#25ab82 124.5px,#1e9d89 125.5px,#277f8e 128.0px,#2d708e 129.5px,#3f4788 135.0px,#47307d 138.5px,#481a6c 143.5px,#470e61 147.5px,#46075a 152.5px,#440255 167.5px,#440154 228.5px)"></div>
<div style="left:49.00px;top:125.30px;width:228.60px;height:2.60px;background:linear-gradient(90deg,#440154 0.0px,#450356 71.0px,#46095d 81.0px,#481567 86.0px,#482878 90.5px,#443882 93.5px,#375a8c 98.0px,#297a8e 102.0px,#1f9a8a 104.5px,#22a784 105.5px,#28ae80 106.0px,#3fbc73 107.0px,#67cc5c 108.5px,#98d93e 110.0px,#cfe11c 112.5px,#e3e418 115.0px,#d0e11c 117.5px,#a6db35 119.5px,#9bd93c 120.0px,#5ec962 122.0px,#2db27d 124.0px,#25ab82 124.5px,#1e9d89 125.5px,#277f8e 128.0px,#2d708e 129.5px,#3f4788 135.0px,#47307d 138.5px,#481a6c 143.5px,#470e61 147.5px,#46075a 152.5px,#440255 167.5px,#440154 228.5px)"></div>
<div style="left:49.00px;top:127.30px;width:228.60px;height:2.60px;background:linear-gradient(90deg,#440154 0.0px,#450356 71.0px,#46095d 81.0px,#481567 86.0px,#482878 90.5px,#443882 93.5px,#375a8c 98.0px,#297a8e 102.0px,#1f9a8a 104.5px,#22a784 105.5px,#28ae80 106.0px,#3fbc73 107.0px,#67cc5c 108.5px,#99d93e 110.0px,#d0e11c 112.5px,#e3e418 115.0px,#d0e11c 117.5px,#a6db35 119.5px,#9cd93c 120.0px,#5ec961 122.0px,#2db27d 124.0px,#25ab82 124.5px,#20a486 125.0px,#1f978b 126.0px,#2b748e 129.0px,#3f4788 135.0px,#47307d 138.5px,#481a6c 143.5px,#470e61 147.5px,#46075a 152.5px,#440255 167.5px,#440154 228.5px)"></div>
<div style="left:49.00px;top:129.30px;width:228.60px;height:2.60px;background:linear-gradient(90deg,#440154 0.0px,#450356 71.0px,#46095d 81.0px,#481567 86.0px,#482878 90.5px,#443882 93.5px,#375a8c 98.0px,#297a8e 102.0px,#1f9a8a 104.5px,#22a784 105.5px,#28ae80 106.0px,#3fbc73 107.0px,#68cc5c 108.5px,#99d93d 110.0px,#d0e11c 112.5px,#e3e418 115.0px,#d1e11c 117.5px,#a7db34 119.5px,#9cd93b 120.0px,#5fc961 122.0px,#2db27d 124.0px,#25ab82 124.5px,#20a486 125.0px,#1f978b 126.0px,#2b748e 129.0px,#3f4788 135.0px,#47307d 138.5px,#481a6c 143.5px,#470e61 147.5px,#46075a 152.5px,#440255 167.5px,#440154 228.5px)"></div>
<div style="left:49.00px;top:131.30px;width:228.60px;height:2.60px;background:linear-gradient(90deg,#440154 0.0px,#450356 71.0px,#46095d 81.0px,#481567 86.0px,#482878 90.5px,#443982 93.5px,#375a8c 98.0px,#297a8e 102.0px,#1f9a8a 104.5px,#22a784 105.5px,#28af80 106.0px,#3fbd73 107.0px,#68cc5c 108.5px,#99d93d 110.0px,#d0e11c 112.5px,#e4e418 115.0px,#d1e11c 117.5px,#a7db34 119.5px,#9cd93b 120.0px,#5fc961 122.0px,#2db27d 124.0px,#25ab82 124.5px,#20a486 125.0px,#1f988b 126.0px,#2b748e 129.0px,#3f4788 135.0px,#47307d 138.5px,#481a6c 143.5px,#470e61 147.5px,#46075a 152.5px,#440255 167.5px,#440154 228.5px)"></div>
<div style="left:49.00px;top:133.30px;width:228.60px;height:2.60px;background:linear-gradient(90deg,#440154 0.0px,#450356 71.0px,#460a5d 81.0px,#481567 86.0px,#482878 90.5px,#443982 93.5px,#375a8c 98.0px,#297a8e 102.0px,#1f9a8a 104.5px,#22a784 105.5px,#29af80 106.0px,#3fbd73 107.0px,#68cc5c 108.5px,#9ad93d 110.0px,#d1e11c 112.5px,#e4e419 115.0px,#d1e11b 117.5px,#b2dd2d 119.0px,#9dd93b 120.0px,#5fc961 122.0px,#2db27d 124.0px,#25ab82 124.5px,#20a486 125.0px,#1f988b 126.0px,#2b748e 129.0px,#3f4788 135.0px,#47307d 138.5px,#481a6c 143.5px,#470e61 147.5px,#46075a 152.5px,#440255 167.5px,#440154 228.5px)"></div>
<div style="left:49.00px;top:135.30px;width:228.60px;height:2.60px;background:linear-gradient(90deg,#440154 0.0px,#450356 71.0px,#460a5d 81.0px,#481567 86.0px,#482878 90.5px,#443982 93.5px,#375a8c 98.0px,#297a8e 102.0px,#1f9a8a 104.5px,#22a784 105.5px,#29af80 106.0px,#3fbd73 107.0px,#68cc5c 108.5px,#9ad93d 110.0px,#d1e11c 112.5px,#e4e419 115.0px,#d2e21b 117.5px,#b2dd2d 119.0px,#9dd93b 120.0px,#5fca61 122.0px,#2eb27d 124.0px,#25ab82 124.5px,#20a486 125.0px,#1f988b 126.0px,#2b748e 129.0px,#3f4888 135.0px,#47307d 138.5px,#481a6c 143.5px,#470e61 147.5px,#46075a 152.5px,#440255 167.5px,#440154 228.5px)"></div>
<div style="left:49.00px;top:137.30px;width:228.60px;height:2.60px;background:linear-gradient(90deg,#440154 0.0px,#450356 71.0px,#460a5d 81.0px,#481567 86.0px,#482878 90.5px,#443982 93.5px,#375a8c 98.0px,#297a8e 102.0px,#1f9a8a 104.5px,#22a884 105.5px,#29af80 106.0px,#3fbd73 107.0px,#68cd5c 108.5px,#9ad93d 110.0px,#d1e11b 112.5px,#e5e419 115.0px,#d2e21b 117.5px,#b3dd2d 119.0px,#9dd93b 120.0px,#60ca61 122.0px,#2eb37d 124.0px,#25ac82 124.5px,#20a486 125.0px,#1f988b 126.0px,#2b748e 129.0px,#3f4888 135.0px,#47307d 138.5px,#481a6c 143.5px,#470e61 147.5px,#46075a 152.5px,#440255 167.5px,#440154 228.5px)"></div>
<div style="left:49.00px;top:139.30px;width:228.60px;height:2.60px;background:linear-gradient(90deg,#440154 0.0px,#450356 71.0px,#460a5d 81.0px,#481567 86.0px,#482878 90.5px,#443982 93.5px,#375a8c 98.0px,#297b8e 102.0px,#1f9a8a 104.5px,#22a884 105.5px,#29af80 106.0px,#40bd73 107.0px,#69cd5b 108.5px,#9ad93c 110.0px,#d2e21b 112.5px,#e5e419 115.0px,#d2e21b 117.5px,#b3dd2c 119.0px,#9eda3a 120.0px,#60ca61 122.0px,#2eb37d 124.0px,#25ac82 124.5px,#20a586 125.0px,#1f988b 126.0px,#2b748e 129.0px,#3f4888 135.0px,#46307d 138.5px,#481a6c 143.5px,#470e61 147.5px,#46075a 152.5px,#440255 167.5px,#440154 228.5px)"></div>
<div style="left:49.00px;top:141.30px;width:228.60px;height:2.60px;background:linear-gradient(90deg,#440154 0.0px,#450356 71.0px,#460a5d 81.0px,#481567 86.0px,#482878 90.5px,#443982 93.5px,#375a8c 98.0px,#297b8e 102.0px,#1f9a8a 104.5px,#22a884 105.5px,#29af80 106.0px,#40bd73 107.0px,#69cd5b 108.5px,#9bd93c 110.0px,#d2e21b 112.5px,#e5e419 115.0px,#d3e21b 117.5px,#b3dd2c 119.0px,#9eda3a 120.0px,#60ca61 122.0px,#2eb37d 124.0px,#25ac82 124.5px,#20a586 125.0px,#1f988b 126.0px,#2b758e 129.0px,#3f4888 135.0px,#46307e 138.5px,#481a6c 143.5px,#470e61 147.5px,#46075a 152.5px,#440255 167.5px,#440154 228.5px)"></div>
<div style="left:49.00px;top:143.30px;width:228.60px;height:2.60px;background:linear-gradient(90deg,#440154 0.0px,#450356 71.0px,#460a5d 81.0px,#481567 86.0px,#482878 90.5px,#443982 93.5px,#375a8c 98.0px,#297b8e 102.0px,#1f9a8a 104.5px,#22a884 105.5px,#29af7f 106.0px,#40bd73 107.0px,#69cd5b 108.5px,#9bd93c 110.0px,#c7e020 112.0px,#d2e21b 112.5px,#e6e419 115.0px,#d3e21b 117.5px,#b4dd2c 119.0px,#9eda3a 120.0px,#60ca60 122.0px,#2eb37d 124.0px,#26ac82 124.5px,#20a586 125.0px,#1f988b 126.0px,#2b758e 129.0px,#3f4888 135.0px,#46307e 138.5px,#481a6c 143.5px,#470e61 147.5px,#46075a 152.5px,#440255 167.5px,#440154 228.5px)"></div>
<div style="left:49.00px;top:145.30px;width:228.60px;height:2.60px;background:linear-gradient(90deg,#440154 0.0px,#450356 71.0px,#460a5d 81.0px,#481568 86.0px,#482878 90.5px,#443982 93.5px,#375a8c 98.0px,#297b8e 102.0px,#1f9a8a 104.5px,#22a884 105.5px,#29af7f 106.0px,#40bd73 107.0px,#69cd5b 108.5px,#9bd93c 110.0px,#c8e020 112.0px,#d3e21b 112.5px,#e6e419 115.0px,#d3e21b 117.5px,#b4dd2c 119.0px,#9eda3a 120.0px,#60ca60 122.0px,#2eb37c 124.0px,#26ac82 124.5px,#20a586 125.0px,#1f988b 126.0px,#2b758e 129.0px,#3f4888 135.0px,#46307e 138.5px,#481a6c 143.5px,#470e61 147.5px,#46075a 152.5px,#440255 167.5px,#440154 228.5px)"></div>
<div style="left:49.00px;top:147.30px;width:228.60px;height:2.60px;background:linear-gradient(90deg,#440154 0.0px,#450356 70.5px,#460a5d 81.0px,#481568 86.0px,#482878 90.5px,#443982 93.5px,#375a8c 98.0px,#297b8e 102.0px,#1f9a8a 104.5px,#22a884 105.5px,#29af7f 106.0px,#40bd72 107.0px,#6acd5b 108.5px,#9cd93c 110.0px,#c8e020 112.0px,#d3e21b 112.5px,#e6e419 115.0px,#d4e21b 117.5px,#b4dd2c 119.0px,#9fda3a 120.0px,#61ca60 122.0px,#2eb37c 124.0px,#26ac82 124.5px,#20a586 125.0px,#1f988b 126.0px,#2b758e 129.0px,#3f4889 135.0px,#46307e 138.5px,#481a6c 143.5px,#470e61 147.5px,#46075a 152.5px,#440255 167.5px,#440154 228.5px)"></div>
<div style="left:49.00px;top:149.30px;width:228.60px;height:2.60px;background:linear-gradient(90deg,#440154 0.0px,#450356 70.5px,#460a5d 81.0px,#481568 86.0px,#482878 90.5px,#443982 93.5px,#375a8c 98.0px,#297b8e 102.0px,#1f9a8a 104.5px,#22a884 105.5px,#29af7f 106.0px,#40bd72 107.0px,#6acd5b 108.5px,#9cd93b 110.0px,#c8e020 112.0px,#d3e21b 112.5px,#e7e419 115.0px,#d4e21b 117.5px,#b5dd2b 119.0px,#9fda39 120.0px,#61ca60 122.0px,#2eb37c 124.0px,#26ac82 124.5px,#21a586 125.0px,#1f988b 126.0px,#2b758e 129.0px,#3f4889 135.0px,#46307e 138.5px,#481a6c 143.5px,#470e61 147.5px,#46075a 152.5px,#440255 167.5px,#440154 228.5px)"></div>
<div style="left:49.00px;top:151.30px;width:228.60px;height:2.60px;background:linear-gradient(90deg,#440154 0.0px,#450356 70.5px,#460a5d 81.0px,#481568 86.0px,#482878 90.5px,#443982 93.5px,#375a8c 98.0px,#297b8e 102.0px,#1f9a8a 104.5px,#22a884 105.5px,#29af7f 106.0px,#41bd72 107.0px,#6acd5b 108.5px,#9cd93b 110.0px,#c9e020 112.0px,#d4e21b 112.5px,#e7e419 115.0px,#d4e21a 117.5px,#b5de2b 119.0px,#9fda39 120.0px,#61ca60 122.0px,#2eb37c 124.0px,#26ac81 124.5px,#21a586 125.0px,#1f988b 126.0px,#2b758e 129.0px,#3f4889 135.0px,#46307e 138.5px,#481a6c 143.5px,#470e61 147.5px,#46075a 152.5px,#440255 167.5px,#440154 228.5px)"></div>
<div style="left:49.00px;top:153.30px;width:228.60px;height:2.60px;background:linear-gradient(90deg,#440154 0.0px,#450356 70.5px,#460a5d 81.0px,#481568 86.0px,#482878 90.5px,#443982 93.5px,#375a8c 98.0px,#297b8e 102.0px,#1f9a8a 104.5px,#22a884 105.5px,#29af7f 106.0px,#41bd72 107.0px,#6acd5b 108.5px,#9cd93b 110.0px,#c9e01f 112.0px,#d4e21a 112.5px,#e7e419 115.0px,#d5e21a 117.5px,#b5de2b 119.0px,#a0da39 120.0px,#61ca60 122.0px,#2fb37c 124.0px,#26ac81 124.5px,#21a586 125.0px,#1f988b 126.0px,#2b758e 129.0px,#3f4889 135.0px,#46307e 138.5px,#481a6c 143.5px,#470e61 147.5px,#46075a 152.5px,#440255 167.5px,#440154 228.5px)"></div>
<div style="left:49.00px;top:155.30px;width:228.60px;height:2.60px;background:linear-gradient(90deg,#440154 0.0px,#450356 70.5px,#460a5d 81.0px,#481568 86.0px,#482878 90.5px,#443982 93.5px,#375a8c 98.0px,#297b8e 102.0px,#1e9b8a 104.5px,#23a884 105.5px,#2aaf7f 106.0px,#41bd72 107.0px,#6bcd5a 108.5px,#9dd93b 110.0px,#c9e01f 112.0px,#d4e21a 112.5px,#e8e419 115.0px,#d5e21a 117.5px,#b6de2b 119.0px,#a0da39 120.0px,#62ca60 122.0px,#2fb37c 124.0px,#26ac81 124.5px,#21a586 125.0px,#1f988b 126.0px,#2b758e 129.0px,#3f4889 135.0px,#46307e 138.5px,#481a6c 143.5px,#470e61 147.5px,#46075a 152.5px,#440255 167.5px,#440154 228.5px)"></div>
<div style="left:49.00px;top:157.30px;width:228.60px;height:2.60px;background:linear-gradient(90deg,#440154 0.0px,#450356 70.5px,#460a5d 81.0px,#481568 86.0px,#482878 90.5px,#443982 93.5px,#375a8c 98.0px,#297b8e 102.0px,#1e9b8a 104.5px,#23a884 105.5px,#2ab07f 106.0px,#41be72 107.0px,#6bcd5a 108.5px,#9dd93b 110.0px,#cae01f 112.0px,#d5e21a 112.5px,#e8e419 115.0px,#d5e21a 117.5px,#b6de2b 119.0px,#a0da39 120.0px,#62ca60 122.0px,#2fb37c 124.0px,#26ac81 124.5px,#21a586 125.0px,#1f988b 126.0px,#2b758e 129.0px,#3f4889 135.0px,#46307e 138.5px,#481a6c 143.5px,#470f61 147.5px,#46075a 152.5px,#440255 167.5px,#440154 228.5px)"></div>
<div style="left:49.00px;top:159.30px;width:228.60px;height:2.60px;background:linear-gradient(90deg,#440154 0.0px,#450356 70.5px,#460a5d 81.0px,#481568 86.0px,#482878 90.5px,#443982 93.5px,#375a8c 98.0px,#297b8e 102.0px,#1e9b8a 104.5px,#23a884 105.5px,#2ab07f 106.0px,#41be72 107.0px,#6bcd5a 108.5px,#9dd93b 110.0px,#cae11f 112.0px,#d5e21a 112.5px,#e8e419 115.0px,#d6e21a 117.5px,#b6de2a 119.0px,#a1da38 120.0px,#62ca5f 122.0px,#2fb37c 124.0px,#26ac81 124.5px,#21a585 125.0px,#1f988b 126.0px,#2b758e 129.0px,#3f4889 135.0px,#46307e 138.5px,#481a6c 143.5px,#470f61 147.5px,#46075a 152.5px,#440255 167.5px,#440154 228.5px)"></div>
<div style="left:49.00px;top:161.30px;width:228.60px;height:2.60px;background:linear-gradient(90deg,#440154 0.0px,#450356 70.5px,#460a5d 81.0px,#481568 86.0px,#482878 90.5px,#443983 93.5px,#375a8c 98.0px,#297b8e 102.0px,#1e9b8a 104.5px,#23a884 105.5px,#2ab07f 106.0px,#41be72 107.0px,#6bcd5a 108.5px,#9eda3a 110.0px,#cae11f 112.0px,#d5e21a 112.5px,#e8e419 115.0px,#d6e21a 117.5px,#c1df24 118.5px,#a1da38 120.0px,#62cb5f 122.0px,#2fb37c 124.0px,#26ac81 124.5px,#21a585 125.0px,#1f988b 126.0px,#2b758e 129.0px,#3f4889 135.0px,#46307e 138.5px,#481a6c 143.5px,#470f61 147.5px,#46075a 152.5px,#440255 167.5px,#440154 228.5px)"></div>
<div style="left:49.00px;top:163.30px;width:228.60px;height:2.60px;background:linear-gradient(90deg,#440154 0.0px,#450356 70.5px,#460a5d 81.0px,#481568 86.0px,#482878 90.5px,#443983 93.5px,#375a8c 98.0px,#297b8e 102.0px,#1e9b8a 104.5px,#23a884 105.5px,#2ab07f 106.0px,#42be72 107.0px,#6bcd5a 108.5px,#9eda3a 110.0px,#cbe11f 112.0px,#d6e21a 112.5px,#e9e419 115.0px,#d6e21a 117.5px,#c2df23 118.5px,#a1da38 120.0px,#62cb5f 122.0px,#2fb47c 124.0px,#26ad81 124.5px,#21a585 125.0px,#1f998a 126.0px,#2b758e 129.0px,#3f4889 135.0px,#46307e 138.5px,#481a6c 143.5px,#470f61 147.5px,#46075a 152.5px,#440255 167.5px,#440154 228.5px)"></div>
<div style="left:49.00px;top:165.30px;width:228.60px;height:2.60px;background:linear-gradient(90deg,#440154 0.0px,#450356 70.5px,#460a5d 81.0px,#481568 86.0px,#482878 90.5px,#443983 93.5px,#375a8c 98.0px,#287b8e 102.0px,#1e9b8a 104.5px,#23a984 105.5px,#2ab07f 106.0px,#42be72 107.0px,#6cce5a 108.5px,#9eda3a 110.0px,#cbe11e 112.0px,#d6e21a 112.5px,#e9e41a 115.0px,#d7e21a 117.5px,#c2df23 118.5px,#a1da38 120.0px,#63cb5f 122.0px,#2fb47c 124.0px,#26ad81 124.5px,#21a585 125.0px,#1f998a 126.0px,#2b758e 129.0px,#3f4889 135.0px,#46307e 138.5px,#481a6c 143.5px,#470f61 147.5px,#46075a 152.5px,#440255 167.5px,#440154 228.5px)"></div>
<div style="left:49.00px;top:167.30px;width:228.60px;height:2.60px;background:linear-gradient(90deg,#440154 0.0px,#450356 70.5px,#460a5d 81.0px,#481568 86.0px,#482878 90.5px,#443983 93.5px,#375a8d 98.0px,#287b8e 102.0px,#1e9b8a 104.5px,#23a984 105.5px,#2ab07f 106.0px,#42be72 107.0px,#6cce5a 108.5px,#9fda3a 110.0px,#cbe11e 112.0px,#d6e21a 112.5px,#e9e41a 115.0px,#d7e21a 117.5px,#c2df23 118.5px,#a2da38 120.0px,#63cb5f 122.0px,#2fb47c 124.0px,#26ad81 124.5px,#21a685 125.0px,#1f998a 126.0px,#2b758e 129.0px,#3f4889 135.0px,#46307e 138.5px,#481a6c 143.5px,#470f61 147.5px,#46075a 152.5px,#440255 167.5px,#440154 228.5px)"></div>
<div style="left:49.00px;top:169.30px;width:228.60px;height:2.60px;background:linear-gradient(90deg,#440154 0.0px,#450356 70.5px,#460a5d 81.0px,#481568 86.0px,#482878 90.5px,#443983 93.5px,#375a8d 98.0px,#287b8e 102.0px,#1e9b8a 104.5px,#23a984 105.5px,#2ab07f 106.0px,#42be71 107.0px,#6cce59 108.5px,#9fda3a 110.0px,#cce11e 112.0px,#d7e21a 112.5px,#eae51a 115.0px,#d7e21a 117.5px,#c3e023 118.5px,#a2da37 120.0px,#63cb5f 122.0px,#2fb47c 124.0px,#27ad81 124.5px,#21a685 125.0px,#1f998a 126.0px,#2b758e 129.0px,#3f4889 135.0px,#46307e 138.5px,#481a6c 143.5px,#470f61 147.5px,#46075a 152.5px,#440255 167.5px,#440154 228.5px)"></div>
<div style="left:49.00px;top:171.30px;width:228.60px;height:2.60px;background:linear-gradient(90deg,#440154 0.0px,#450356 70.5px,#460a5d 81.0px,#481568 86.0px,#482878 90.5px,#443983 93.5px,#375a8d 98.0px,#287b8e 102.0px,#1e9b8a 104.5px,#23a984 105.5px,#2ab07f 106.0px,#42be71 107.0px,#6cce59 108.5px,#9fda39 110.0px,#cce11e 112.0px,#d7e21a 112.5px,#eae51a 115.0px,#d8e219 117.5px,#c3e023 118.5px,#a2da37 120.0px,#63cb5f 122.0px,#30b47c 124.0px,#27ad81 124.5px,#21a685 125.0px,#1f998a 126.0px,#2b758e 129.0px,#3f4889 135.0px,#46307e 138.5px,#481a6c 143.5px,#470f61 147.5px,#46075a 152.5px,#440255 167.5px,#440154 228.5px)"></div>
<div style="left:49.00px;top:173.30px;width:228.60px;height:2.60px;background:linear-gradient(90deg,#440154 0.0px,#450356 70.5px,#460a5d 81.0px,#481568 86.0px,#482878 90.5px,#443983 93.5px,#375a8d 98.0px,#287b8e 102.0px,#1e9b8a 104.5px,#23a983 105.5px,#2ab07f 106.0px,#42be71 107.0px,#6dce59 108.5px,#9fda39 110.0px,#cce11e 112.0px,#d7e21a 112.5px,#eae51a 115.0px,#d8e219 117.5px,#c3e022 118.5px,#a3da37 120.0px,#64cb5f 122.0px,#30b47c 124.0px,#27ad81 124.5px,#21a685 125.0px,#1f998a 126.0px,#2b758e 129.0px,#3f4889 135.0px,#46307e 138.5px,#481a6c 143.5px,#470f61 147.5px,#46075a 152.5px,#440255 167.5px,#440154 228.5px)"></div>
<div style="left:49.00px;top:175.30px;width:228.60px;height:2.60px;background:linear-gradient(90deg,#440154 0.0px,#450356 70.5px,#460a5d 81.0px,#481568 86.0px,#482878 90.5px,#443983 93.5px,#375a8d 98.0px,#287b8e 102.0px,#1e9b8a 104.5px,#23a983 105.5px,#2bb07f 106.0px,#43be71 107.0px,#6dce59 108.5px,#a0da39 110.0px,#cde11e 112.0px,#d8e219 112.5px,#ebe51a 115.0px,#d8e219 117.5px,#c4e022 118.5px,#a3db37 120.0px,#64cb5e 122.0px,#30b47c 124.0px,#27ad81 124.5px,#21a685 125.0px,#1f998a 126.0px,#2b758e 129.0px,#3f4889 135.0px,#46317e 138.5px,#481a6c 143.5px,#470f61 147.5px,#46075a 152.5px,#440255 167.5px,#440154 228.5px)"></div>
<div style="left:49.00px;top:177.30px;width:228.60px;height:2.60px;background:linear-gradient(90deg,#440154 0.0px,#450356 70.5px,#460a5d 81.0px,#481568 86.0px,#482878 90.5px,#443983 93.5px,#375b8d 98.0px,#287c8e 102.0px,#1e9b8a 104.5px,#23a983 105.5px,#2bb07e 106.0px,#50c46a 107.5px,#7ed24f 109.0px,#a0da39 110.0px,#cde11d 112.0px,#d8e219 112.5px,#ebe51a 115.0px,#d9e219 117.5px,#c4e022 118.5px,#a3db37 120.0px,#64cb5e 122.0px,#30b47b 124.0px,#27ad81 124.5px,#21a685 125.0px,#1f998a 126.0px,#2b758e 129.0px,#3f4889 135.0px,#46317e 138.5px,#481a6c 143.5px,#470f61 147.5px,#46075a 152.5px,#440255 167.5px,#440154 228.5px)"></div>
<div style="left:49.00px;top:179.30px;width:228.60px;height:2.60px;background:linear-gradient(90deg,#440154 0.0px,#450356 70.5px,#460a5d 81.0px,#481568 86.0px,#482878 90.5px,#443983 93.5px,#375b8d 98.0px,#287c8e 102.0px,#1e9b8a 104.5px,#23a983 105.5px,#2bb07e 106.0px,#50c46a 107.5px,#7ed34f 109.0px,#a1da38 110.0px,#cee11d 112.0px,#d9e219 112.5px,#ece51a 115.0px,#d9e219 117.5px,#c5e022 118.5px,#a4db36 120.0px,#64cb5e 122.0px,#30b47b 124.0px,#27ad81 124.5px,#21a685 125.0px,#1f998a 126.0px,#2b758e 129.0px,#3f4889 135.0px,#46317e 138.5px,#481a6c 143.5px,#470f61 147.5px,#46075a 152.5px,#440255 167.5px,#440154 228.5px)"></div>
<div style="left:49.00px;top:181.30px;width:228.60px;height:2.60px;background:linear-gradient(90deg,#440154 0.0px,#450356 70.5px,#460a5d 81.0px,#481568 86.0px,#482878 90.5px,#443983 93.5px,#375b8d 98.0px,#287c8e 102.0px,#1e9c8a 104.5px,#23a983 105.5px,#2bb17e 106.0px,#50c46a 107.5px,#7ed34e 109.0px,#a1da38 110.0px,#cee11d 112.0px,#d9e219 112.5px,#ece51b 115.0px,#dae319 117.5px,#c5e021 118.5px,#a4db36 120.0px,#65cb5e 122.0px,#30b47b 124.0px,#27ad81 124.5px,#21a685 125.0px,#1f998a 126.0px,#2b768e 129.0px,#3f4889 135.0px,#46317e 138.5px,#481a6c 143.5px,#470f61 147.5px,#46075a 152.5px,#440255 167.5px,#440154 228.5px)"></div>
<div style="left:49.00px;top:183.30px;width:228.60px;height:2.60px;background:linear-gradient(90deg,#440154 0.0px,#450356 70.5px,#460a5d 81.0px,#481568 86.0px,#482878 90.5px,#443983 93.5px,#375b8d 98.0px,#287c8e 102.0px,#1e9c8a 104.5px,#1fa287 105.0px,#23a983 105.5px,#2bb17e 106.0px,#51c469 107.5px,#7fd34e 109.0px,#a1da38 110.0px,#cee11d 112.0px,#dae319 112.5px,#ede51b 115.0px,#dae319 117.5px,#c5e021 118.5px,#a5db36 120.0px,#65cb5e 122.0px,#30b47b 124.0px,#27ad81 124.5px,#21a685 125.0px,#1f998a 126.0px,#2b768e 129.0px,#3f4889 135.0px,#46317e 138.5px,#481a6c 143.5px,#470f61 147.5px,#46075a 152.5px,#440255 167.5px,#440154 228.5px)"></div>
<div style="left:49.00px;top:185.30px;width:228.60px;height:2.60px;background:linear-gradient(90deg,#440154 0.0px,#450356 70.5px,#460a5d 81.0px,#481568 86.0px,#482878 90.5px,#443983 93.5px,#375b8d 98.0px,#287c8e 102.0px,#1e9c89 104.5px,#1fa287 105.0px,#23a983 105.5px,#2bb17e 106.0px,#51c469 107.5px,#7fd34e 109.0px,#a2da38 110.0px,#cfe11d 112.0px,#dae319 112.5px,#ede51b 115.0px,#dbe319 117.5px,#c6e021 118.5px,#a5db35 120.0px,#65cc5d 122.0px,#31b57b 124.0px,#27ae81 124.5px,#21a685 125.0px,#1f998a 126.0px,#2b768e 129.0px,#3f4889 135.0px,#46317e 138.5px,#481a6c 143.5px,#470f61 147.5px,#46075a 152.5px,#440255 167.5px,#440154 228.5px)"></div>
<div style="left:49.00px;top:187.30px;width:228.60px;height:2.60px;background:linear-gradient(90deg,#440154 0.0px,#450356 70.5px,#460a5d 81.0px,#481568 86.0px,#482878 90.5px,#443983 93.5px,#375b8d 98.0px,#287c8e 102.0px,#1e9c89 104.5px,#1fa287 105.0px,#24aa83 105.5px,#2bb17e 106.0px,#51c469 107.5px,#7fd34e 109.0px,#a2da37 110.0px,#cfe11c 112.0px,#dae319 112.5px,#ede51b 115.0px,#dbe319 117.5px,#c6e021 118.5px,#a5db35 120.0px,#66cc5d 122.0px,#31b57b 124.0px,#27ae80 124.5px,#21a685 125.0px,#1f9a8a 126.0px,#2b768e 129.0px,#3f4889 135.0px,#46317e 138.5px,#481a6c 143.5px,#470f61 147.5px,#46075a 152.5px,#440255 167.5px,#440154 228.5px)"></div>
<div style="left:49.00px;top:189.30px;width:228.60px;height:2.60px;background:linear-gradient(90deg,#440154 0.0px,#450356 70.5px,#460a5d 81.0px,#481568 86.0px,#482878 90.5px,#443983 93.5px,#375b8d 98.0px,#287c8e 102.0px,#1e9c89 104.5px,#1fa287 105.0px,#24aa83 105.5px,#2bb17e 106.0px,#51c569 107.5px,#80d34d 109.0px,#a3da37 110.0px,#d0e11c 112.0px,#dbe319 112.5px,#eee51b 115.0px,#dbe319 117.5px,#c7e021 118.5px,#a6db35 120.0px,#66cc5d 122.0px,#31b57b 124.0px,#28ae80 124.5px,#21a785 125.0px,#1f9a8a 126.0px,#2b768e 129.0px,#3f4889 135.0px,#46317e 138.5px,#481a6c 143.5px,#470f61 147.5px,#46075a 152.5px,#440255 167.5px,#440154 228.5px)"></div>
<div style="left:49.00px;top:191.30px;width:228.60px;height:2.60px;background:linear-gradient(90deg,#440154 0.0px,#450356 70.5px,#460a5d 81.0px,#481568 86.0px,#482878 90.5px,#443983 93.5px,#375b8d 98.0px,#287c8e 102.0px,#1e9c89 104.5px,#1fa287 105.0px,#24aa83 105.5px,#2cb17e 106.0px,#52c569 107.5px,#80d34d 109.0px,#a3db37 110.0px,#d0e11c 112.0px,#dbe319 112.5px,#eee51b 115.0px,#dce319 117.5px,#c7e020 118.5px,#a6db35 120.0px,#66cc5d 122.0px,#31b57b 124.0px,#28ae80 124.5px,#21a785 125.0px,#1f9a8a 126.0px,#2b768e 129.0px,#3f4989 135.0px,#46317e 138.5px,#481a6c 143.5px,#470f61 147.5px,#46075a 152.5px,#440255 167.5px,#440154 228.5px)"></div>
<div style="left:49.00px;top:193.30px;width:228.60px;height:2.60px;background:linear-gradient(90deg,#440154 0.0px,#450356 70.5px,#460a5d 81.0px,#481568 86.0px,#482878 90.5px,#443983 93.5px,#375b8d 98.0px,#287c8e 102.0px,#1e9c89 104.5px,#1fa287 105.0px,#24aa83 105.5px,#2cb17e 106.0px,#52c569 107.5px,#80d34d 109.0px,#a3db37 110.0px,#d1e11c 112.0px,#dce319 112.5px,#efe51c 115.0px,#dce319 117.5px,#c8e020 118.5px,#a7db34 120.0px,#67cc5d 122.0px,#31b57b 124.0px,#28ae80 124.5px,#22a785 125.0px,#1f9a8a 126.0px,#2b768e 129.0px,#3f4989 135.0px,#46317e 138.5px,#481a6c 143.5px,#470f61 147.5px,#46075a 152.5px,#440255 167.5px,#440154 228.5px)"></div>
<div style="left:49.00px;top:195.30px;width:228.60px;height:2.60px;background:linear-gradient(90deg,#440154 0.0px,#450356 70.5px,#460a5d 81.0px,#481568 86.0px,#482878 90.5px,#443983 93.5px,#365b8d 98.0px,#287c8e 102.0px,#1e9c89 104.5px,#1fa287 105.0px,#24aa83 105.5px,#37b877 106.5px,#70cf57 108.5px,#a4db36 110.0px,#d1e11c 112.0px,#dce319 112.5px,#efe51c 115.0px,#dde318 117.5px,#c8e020 118.5px,#a7db34 120.0px,#67cc5d 122.0px,#31b57b 124.0px,#28ae80 124.5px,#22a785 125.0px,#1f9a8a 126.0px,#2b768e 129.0px,#3f4989 135.0px,#46317e 138.5px,#481a6c 143.5px,#470f61 147.5px,#46075a 152.5px,#440255 167.5px,#440154 228.5px)"></div>
<div style="left:49.00px;top:197.30px;width:228.60px;height:2.60px;background:linear-gradient(90deg,#440154 0.0px,#450356 70.5px,#460a5d 81.0px,#481568 86.0px,#482878 90.5px,#443983 93.5px,#365b8d 98.0px,#287c8e 102.0px,#1e9c89 104.5px,#20a387 105.0px,#24aa83 105.5px,#37b977 106.5px,#71cf57 108.5px,#a4db36 110.0px,#d1e11b 112.0px,#dde319 112.5px,#f0e51c 115.0px,#dde318 117.5px,#c9e020 118.5px,#a8db34 120.0px,#67cc5c 122.0px,#32b57b 124.0px,#28ae80 124.5px,#22a785 125.0px,#1f9a8a 126.0px,#2b768e 129.0px,#3f4989 135.0px,#46317e 138.5px,#481a6c 143.5px,#470f61 147.5px,#46075a 152.5px,#440255 167.5px,#440154 228.5px)"></div>
<div style="left:49.00px;top:199.30px;width:228.60px;height:2.60px;background:linear-gradient(90deg,#440154 0.0px,#450356 70.5px,#460a5d 81.0px,#481568 86.0px,#482878 90.5px,#443a83 93.5px,#365b8d 98.0px,#287c8e 102.0px,#1e9c89 104.5px,#20a387 105.0px,#24aa83 105.5px,#37b977 106.5px,#71cf57 108.5px,#a5db36 110.0px,#d2e21b 112.0px,#dde318 112.5px,#f0e51c 115.0px,#dee318 117.5px,#c9e01f 118.5px,#a8db34 120.0px,#67cc5c 122.0px,#32b57a 124.0px,#28ae80 124.5px,#22a785 125.0px,#1f9a8a 126.0px,#2b768e 129.0px,#3f4989 135.0px,#46317e 138.5px,#481a6c 143.5px,#470f61 147.5px,#46075a 152.5px,#440255 167.5px,#440154 228.5px)"></div>
<div style="left:49.00px;top:201.30px;width:228.60px;height:2.60px;background:linear-gradient(90deg,#440154 0.0px,#450356 70.5px,#460a5d 81.0px,#481568 86.0px,#482878 90.5px,#443983 93.5px,#365b8d 98.0px,#287c8e 102.0px,#1e9c89 104.5px,#1fa287 105.0px,#24aa83 105.5px,#2cb17e 106.0px,#52c568 107.5px,#81d34c 109.0px,#a5db36 110.0px,#d2e21b 112.0px,#dee318 112.5px,#f1e51c 115.0px,#dee318 117.5px,#c9e01f 118.5px,#a8db33 120.0px,#67cc5c 122.0px,#31b57b 124.0px,#28ae80 124.5px,#22a785 125.0px,#1f9a8a 126.0px,#2b768e 129.0px,#3f4989 135.0px,#46317e 138.5px,#481a6c 143.5px,#470f61 147.5px,#46075a 152.5px,#440255 167.5px,#440154 228.5px)"></div>
<div style="left:49.00px;top:203.30px;width:228.60px;height:2.60px;background:linear-gradient(90deg,#440154 0.0px,#450356 70.5px,#460a5d 81.0px,#481568 86.0px,#482878 90.5px,#443983 93.5px,#375b8d 98.0px,#287c8e 102.0px,#1e9c89 104.5px,#1fa287 105.0px,#24aa83 105.5px,#2bb17e 106.0px,#44bf70 107.0px,#70cf57 108.5px,#a5db36 110.0px,#d3e21b 112.0px,#dee318 112.5px,#f1e51d 115.0px,#dfe318 117.5px,#cae11f 118.5px,#a8db33 120.0px,#67cc5d 122.0px,#31b57b 124.0px,#27ae80 124.5px,#21a685 125.0px,#1f9a8a 126.0px,#2b768e 129.0px,#3f4989 135.0px,#46317e 138.5px,#481a6c 143.5px,#470f61 147.5px,#46075a 152.5px,#440255 167.5px,#440154 228.5px)"></div>
<div style="left:49.00px;top:205.30px;width:228.60px;height:2.60px;background:linear-gradient(90deg,#440154 0.0px,#450356 70.5px,#460a5d 81.0px,#481568 86.0px,#482878 90.5px,#443983 93.5px,#375b8d 98.0px,#287c8e 102.0px,#1e9c8a 104.5px,#1fa287 105.0px,#23a983 105.5px,#2bb17e 106.0px,#44bf70 107.0px,#70cf57 108.5px,#a5db35 110.0px,#c8e020 111.5px,#dfe318 112.5px,#f1e51d 115.0px,#dfe318 117.5px,#cbe11f 118.5px,#a9dc33 120.0px,#67cc5d 122.0px,#30b47b 124.0px,#27ad81 124.5px,#21a685 125.0px,#1f998a 126.0px,#2b768e 129.0px,#3f4989 135.0px,#46317e 138.5px,#481a6c 143.5px,#470f61 147.5px,#46075a 152.5px,#440255 167.5px,#440154 228.5px)"></div>
<div style="left:49.00px;top:207.30px;width:228.60px;height:2.60px;background:linear-gradient(90deg,#440154 0.0px,#450356 70.5px,#460a5d 81.0px,#481568 86.0px,#482676 90.0px,#443983 93.5px,#375b8d 98.0px,#287c8e 102.0px,#1e9b8a 104.5px,#23a983 105.5px,#2bb07e 106.0px,#43bf71 107.0px,#70cf57 108.5px,#a5db35 110.0px,#c9e01f 111.5px,#dfe318 112.5px,#f2e61d 115.0px,#e0e318 117.5px,#cbe11e 118.5px,#a9dc33 120.0px,#66cc5d 122.0px,#30b47b 124.0px,#27ad81 124.5px,#21a685 125.0px,#1f998a 126.0px,#2b768e 129.0px,#3f4989 135.0px,#46317e 138.5px,#481a6c 143.5px,#470f61 147.5px,#46075a 152.5px,#440255 167.5px,#440154 228.5px)"></div>
<div style="left:49.00px;top:209.30px;width:228.60px;height:2.60px;background:linear-gradient(90deg,#440154 0.0px,#450356 70.5px,#460a5d 81.0px,#481568 86.0px,#482676 90.0px,#443983 93.5px,#375b8d 98.0px,#287c8e 102.0px,#1e9b8a 104.5px,#23a984 105.5px,#2ab07f 106.0px,#43be71 107.0px,#70cf57 108.5px,#a5db35 110.0px,#c9e01f 111.5px,#e0e318 112.5px,#f2e61d 115.0px,#e0e318 117.5px,#cce11e 118.5px,#a9dc33 120.0px,#66cc5d 122.0px,#3cbb75 123.5px,#27ad81 124.5px,#21a685 125.0px,#1f998a 126.0px,#2b768e 129.0px,#3f4889 135.0px,#46317e 138.5px,#481a6c 143.5px,#470f61 147.5px,#46075a 152.5px,#440255 167.5px,#440154 228.5px)"></div>
<div style="left:49.00px;top:211.30px;width:228.60px;height:2.60px;background:linear-gradient(90deg,#440154 0.0px,#450356 70.5px,#460a5d 81.0px,#481568 86.0px,#482676 90.0px,#443983 93.5px,#375b8d 98.0px,#287c8e 102.0px,#1e9b8a 104.5px,#23a984 105.5px,#2ab07f 106.0px,#43be71 107.0px,#6fcf57 108.5px,#a6db35 110.0px,#cae01f 111.5px,#e0e318 112.5px,#f3e61e 115.0px,#e1e318 117.5px,#cce11e 118.5px,#a9dc33 120.0px,#66cc5d 122.0px,#3bbb75 123.5px,#26ad81 124.5px,#21a585 125.0px,#1f998a 126.0px,#2b768e 129.0px,#3f4889 135.0px,#46317e 138.5px,#481a6c 143.5px,#470f61 147.5px,#46075a 152.5px,#440255 167.5px,#440154 228.5px)"></div>
<div style="left:49.00px;top:213.30px;width:228.60px;height:2.60px;background:linear-gradient(90deg,#440154 0.0px,#450356 70.5px,#460a5d 81.0px,#481568 86.0px,#482676 90.0px,#443983 93.5px,#375b8d 98.0px,#287c8e 102.0px,#1e9b8a 104.5px,#23a884 105.5px,#2ab07f 106.0px,#42be71 107.0px,#6fcf58 108.5px,#a6db35 110.0px,#cae11f 111.5px,#e1e318 112.5px,#f3e61e 115.0px,#e1e318 117.5px,#cde11e 118.5px,#a9dc33 120.0px,#65cc5d 122.0px,#3bbb75 123.5px,#26ac81 124.5px,#21a586 125.0px,#1f988b 126.0px,#2b768e 129.0px,#3f4889 135.0px,#472e7c 139.0px,#481a6c 143.5px,#470f61 147.5px,#46075a 152.5px,#440255 167.5px,#440154 228.5px)"></div>
<div style="left:49.00px;top:215.30px;width:228.60px;height:2.60px;background:linear-gradient(90deg,#440154 0.0px,#450356 70.5px,#460a5d 81.0px,#481568 86.0px,#482676 90.0px,#443983 93.5px,#375b8d 98.0px,#287b8e 102.0px,#1f9a8a 104.5px,#22a884 105.5px,#29af7f 106.0px,#42be72 107.0px,#6fce58 108.5px,#a6db35 110.0px,#cbe11e 111.5px,#e1e318 112.5px,#f4e61e 115.0px,#e2e418 117.5px,#cde11d 118.5px,#aadc33 120.0px,#65cb5e 122.0px,#3bba76 123.5px,#2fb37c 124.0px,#26ac81 124.5px,#21a586 125.0px,#1f988b 126.0px,#2b758e 129.0px,#3f4889 135.0px,#472e7c 139.0px,#481a6c 143.5px,#470f61 147.5px,#46075a 152.5px,#440255 167.5px,#440154 228.5px)"></div>
<div style="left:49.00px;top:217.30px;width:228.60px;height:2.60px;background:linear-gradient(90deg,#440154 0.0px,#450356 70.5px,#460a5d 81.0px,#481568 86.0px,#482676 90.0px,#443983 93.5px,#375b8d 98.0px,#287b8e 102.0px,#1f9a8a 104.5px,#22a884 105.5px,#29af7f 106.0px,#41be72 107.0px,#6fce58 108.5px,#a6db35 110.0px,#cbe11e 111.5px,#d7e21a 112.0px,#e2e418 112.5px,#f4e61e 115.0px,#e2e418 117.5px,#cee11d 118.5px,#aadc32 120.0px,#65cb5e 122.0px,#3aba76 123.5px,#2eb37c 124.0px,#26ac82 124.5px,#20a586 125.0px,#1f988b 126.0px,#2b758e 129.0px,#3f4889 135.0px,#472e7c 139.0px,#481a6c 143.5px,#470f61 147.5px,#46075a 152.5px,#440255 167.5px,#440154 228.5px)"></div>
<div style="left:49.00px;top:219.30px;width:228.60px;height:2.60px;background:linear-gradient(90deg,#440154 0.0px,#450356 70.5px,#460a5d 81.0px,#481568 86.0px,#482676 90.0px,#443983 93.5px,#375b8d 98.0px,#287b8e 102.0px,#1f9a8a 104.5px,#22a784 105.5px,#29af80 106.0px,#41bd72 107.0px,#6fce58 108.5px,#a6db35 110.0px,#cce11e 111.5px,#d7e219 112.0px,#e2e418 112.5px,#f4e61f 115.0px,#e3e418 117.5px,#cee11d 118.5px,#aadc32 120.0px,#64cb5e 122.0px,#3aba76 123.5px,#2eb37d 124.0px,#25ac82 124.5px,#20a486 125.0px,#1f988b 126.0px,#2b758e 129.0px,#3f4889 135.0px,#472e7c 139.0px,#481a6c 143.5px,#470f61 147.5px,#46075a 152.5px,#440255 167.5px,#440154 228.5px)"></div>
<div style="left:49.00px;top:221.30px;width:228.60px;height:2.60px;background:linear-gradient(90deg,#440154 0.0px,#450356 70.5px,#460a5d 81.0px,#481568 86.0px,#482576 90.0px,#443983 93.5px,#375a8d 98.0px,#297b8e 102.0px,#1f9a8a 104.5px,#22a784 105.5px,#29af80 106.0px,#40bd72 107.0px,#6ece58 108.5px,#a6db35 110.0px,#cce11e 111.5px,#d8e219 112.0px,#e3e418 112.5px,#f5e61f 115.0px,#e3e418 117.5px,#cfe11d 118.5px,#aadc32 120.0px,#64cb5e 122.0px,#39ba76 123.5px,#2db27d 124.0px,#25ab82 124.5px,#20a486 125.0px,#1f978b 126.0px,#2b758e 129.0px,#3f4889 135.0px,#472e7c 139.0px,#481a6c 143.5px,#470e61 147.5px,#46075a 152.5px,#440255 167.5px,#440154 228.5px)"></div>
<div style="left:49.00px;top:223.30px;width:228.60px;height:2.60px;background:linear-gradient(90deg,#440154 0.0px,#450356 70.5px,#460a5d 81.0px,#481568 86.0px,#482576 90.0px,#443983 93.5px,#375a8d 98.0px,#297b8e 102.0px,#1f998a 104.5px,#22a785 105.5px,#28ae80 106.0px,#33b67a 106.5px,#5dc962 108.0px,#93d741 109.5px,#a6db35 110.0px,#cde11e 111.5px,#d8e219 112.0px,#e3e418 112.5px,#f5e61f 115.0px,#e4e418 117.5px,#dae319 118.0px,#c3e022 119.0px,#aadc32 120.0px,#64cb5e 122.0px,#39b976 123.5px,#2db27d 124.0px,#25ab82 124.5px,#20a486 125.0px,#1f978b 126.0px,#2b758e 129.0px,#3f4889 135.0px,#472e7c 139.0px,#481a6c 143.5px,#470e61 147.5px,#46075a 152.5px,#440255 167.5px,#440154 228.5px)"></div>
<div style="left:49.00px;top:225.30px;width:228.60px;height:2.60px;background:linear-gradient(90deg,#440154 0.0px,#450356 70.5px,#460a5d 81.0px,#481567 86.0px,#482576 90.0px,#443983 93.5px,#375a8d 98.0px,#297b8e 102.0px,#1f998a 104.5px,#21a785 105.5px,#28ae80 106.0px,#32b67a 106.5px,#5dc962 108.0px,#93d741 109.5px,#a7db34 110.0px,#cde11d 111.5px,#d9e219 112.0px,#e4e418 112.5px,#f6e61f 115.0px,#e4e419 117.5px,#dbe319 118.0px,#c4e022 119.0px,#abdc32 120.0px,#63cb5f 122.0px,#38b977 123.5px,#2db27d 124.0px,#25ab82 124.5px,#20a486 125.0px,#20918c 126.5px,#2b758e 129.0px,#3f4889 135.0px,#472e7c 139.0px,#481a6c 143.5px,#470e61 147.5px,#46075a 152.5px,#440255 167.5px,#440154 228.5px)"></div>
<div style="left:49.00px;top:227.30px;width:228.60px;height:2.60px;background:linear-gradient(90deg,#440154 0.0px,#450356 70.5px,#460a5d 81.0px,#481567 86.0px,#482576 90.0px,#443983 93.5px,#375a8d 98.0px,#297b8e 102.0px,#1f998a 104.5px,#21a685 105.5px,#28ae80 106.0px,#32b57a 106.5px,#5cc963 108.0px,#93d741 109.5px,#a7db34 110.0px,#cee11d 111.5px,#dae319 112.0px,#e4e419 112.5px,#f6e620 115.0px,#e5e419 117.5px,#dbe319 118.0px,#c4e022 119.0px,#abdc32 120.0px,#63cb5f 122.0px,#38b977 123.5px,#2cb27d 124.0px,#24aa82 124.5px,#20a386 125.0px,#20918c 126.5px,#2b758e 129.0px,#3f4889 135.0px,#472e7c 139.0px,#481a6c 143.5px,#470e61 147.5px,#46075a 152.5px,#440255 168.0px,#440154 228.5px)"></div>
<div style="left:49.00px;top:229.30px;width:228.60px;height:2.60px;background:linear-gradient(90deg,#440154 0.0px,#450356 70.5px,#46095d 81.0px,#481567 86.0px,#482576 90.0px,#443983 93.5px,#375a8c 98.0px,#297b8e 102.0px,#1f998a 104.5px,#21a685 105.5px,#27ae81 106.0px,#31b57b 106.5px,#5cc863 108.0px,#93d741 109.5px,#a7db34 110.0px,#cee11d 111.5px,#dae319 112.0px,#e5e419 112.5px,#f7e620 115.0px,#e5e419 117.5px,#dce319 118.0px,#c5e022 119.0px,#abdc32 120.0px,#63cb5f 122.0px,#38b977 123.5px,#2cb17e 124.0px,#24aa83 124.5px,#20a387 125.0px,#21918c 126.5px,#2b758e 129.0px,#3f4889 135.0px,#472e7c 139.0px,#481a6c 143.5px,#470e61 147.5px,#46075a 152.5px,#440255 168.0px,#440154 228.5px)"></div>
<div style="left:49.00px;top:231.30px;width:228.60px;height:2.60px;background:linear-gradient(90deg,#440154 0.0px,#450356 70.5px,#46095d 81.0px,#481567 86.0px,#482576 90.0px,#443983 93.5px,#375a8c 98.0px,#297b8e 102.0px,#1f988b 104.5px,#21a685 105.5px,#27ad81 106.0px,#31b57b 106.5px,#5cc863 108.0px,#93d741 109.5px,#a7db34 110.0px,#cfe11d 111.5px,#dbe319 112.0px,#e5e419 112.5px,#f7e620 115.0px,#e6e419 117.5px,#dce319 118.0px,#c5e021 119.0px,#abdc31 120.0px,#63cb5f 122.0px,#37b977 123.5px,#2cb17e 124.0px,#24aa83 124.5px,#1e9c89 125.5px,#29798e 128.5px,#3d4c8a 134.5px,#472e7c 139.0px,#481a6c 143.5px,#470e61 147.5px,#46075a 152.5px,#440255 168.0px,#440154 228.5px)"></div>
<div style="left:49.00px;top:233.30px;width:228.60px;height:2.60px;background:linear-gradient(90deg,#440154 0.0px,#450356 70.5px,#46095d 81.0px,#481567 86.0px,#482576 90.0px,#443983 93.5px,#375a8c 98.0px,#297b8e 102.0px,#1f988b 104.5px,#21a685 105.5px,#27ad81 106.0px,#31b57b 106.5px,#5bc863 108.0px,#93d741 109.5px,#a7db34 110.0px,#cfe11c 111.5px,#dbe319 112.0px,#e6e419 112.5px,#f7e620 115.0px,#e6e419 117.5px,#dde318 118.0px,#c6e021 119.0px,#acdc31 120.0px,#62cb5f 122.0px,#37b878 123.5px,#2bb17e 124.0px,#24aa83 124.5px,#1e9c89 125.5px,#29798e 128.5px,#3d4c8a 134.5px,#472e7c 139.0px,#481a6c 143.5px,#470e61 147.5px,#46075a 152.5px,#440255 168.0px,#440154 228.5px)"></div>
<div style="left:49.00px;top:235.30px;width:228.60px;height:2.60px;background:linear-gradient(90deg,#440154 0.0px,#450356 70.5px,#46095d 81.0px,#481567 86.0px,#482576 90.0px,#443983 93.5px,#375a8c 98.0px,#297a8e 102.0px,#1f988b 104.5px,#21a585 105.5px,#26ad81 106.0px,#30b47b 106.5px,#5bc863 108.0px,#93d741 109.5px,#a7db34 110.0px,#d0e11c 111.5px,#dce319 112.0px,#e6e419 112.5px,#f8e621 115.0px,#e7e419 117.5px,#dde318 118.0px,#c6e021 119.0px,#acdc31 120.0px,#62ca5f 122.0px,#36b878 123.5px,#2bb17e 124.0px,#23a983 124.5px,#1e9c8a 125.5px,#29798e 128.5px,#3d4c8a 134.5px,#472e7c 139.0px,#481a6c 143.5px,#470e61 147.5px,#46075a 152.5px,#440255 168.0px,#440154 228.5px)"></div>
<div style="left:49.00px;top:237.30px;width:228.60px;height:2.60px;background:linear-gradient(90deg,#440154 0.0px,#450356 70.5px,#46095d 81.0px,#481567 86.0px,#482576 90.0px,#443983 93.5px,#375a8c 98.0px,#297a8e 102.0px,#1f988b 104.5px,#21a586 105.5px,#26ac81 106.0px,#30b47b 106.5px,#5bc864 108.0px,#93d741 109.5px,#a8db34 110.0px,#d0e11c 111.5px,#dce319 112.0px,#e7e419 112.5px,#f8e621 115.0px,#e7e419 117.5px,#dee318 118.0px,#c7e021 119.0px,#acdc31 120.0px,#62ca60 122.0px,#36b878 123.5px,#2bb07e 124.0px,#23a983 124.5px,#1e9b8a 125.5px,#29798e 128.5px,#3d4c8a 134.5px,#472e7c 139.0px,#481a6c 143.5px,#470e61 147.5px,#46075a 152.5px,#440255 168.0px,#440154 228.5px)"></div>
<div style="left:49.00px;top:239.30px;width:228.60px;height:2.60px;background:linear-gradient(90deg,#440154 0.0px,#450356 70.5px,#46095d 81.0px,#481567 86.0px,#482576 90.0px,#443983 93.5px,#375a8c 98.0px,#297a8e 102.0px,#1f978b 104.5px,#20a586 105.5px,#26ac81 106.0px,#2fb47c 106.5px,#5ac864 108.0px,#93d741 109.5px,#a8db34 110.0px,#c4e022 111.0px,#dde318 112.0px,#e7e419 112.5px,#f9e621 115.0px,#e8e419 117.5px,#dfe318 118.0px,#c7e020 119.0px,#acdc31 120.0px,#61ca60 122.0px,#36b878 123.5px,#2ab07f 124.0px,#23a983 124.5px,#1e9b8a 125.5px,#29798e 128.5px,#3e4c8a 134.5px,#472e7c 139.0px,#481a6c 143.5px,#470e61 147.5px,#46075a 152.5px,#440255 168.0px,#440154 228.5px)"></div>
<div style="left:49.00px;top:241.30px;width:228.60px;height:2.60px;background:linear-gradient(90deg,#440154 0.0px,#450356 70.5px,#46095d 81.0px,#481567 86.0px,#482576 90.0px,#443983 93.5px,#375a8c 98.0px,#297a8e 102.0px,#1f978b 104.5px,#20a486 105.5px,#26ac82 106.0px,#2fb47c 106.5px,#5ac864 108.0px,#93d741 109.5px,#a8db34 110.0px,#c4e022 111.0px,#d1e11c 111.5px,#dde318 112.0px,#e8e419 112.5px,#f9e622 115.0px,#e8e419 117.5px,#dfe318 118.0px,#c7e020 119.0px,#acdc31 120.0px,#61ca60 122.0px,#35b778 123.5px,#2ab07f 124.0px,#23a984 124.5px,#1e9b8a 125.5px,#29798e 128.5px,#3e4c8a 134.5px,#472e7c 139.0px,#481a6c 143.5px,#470e61 147.5px,#46075a 152.5px,#440255 168.0px,#440154 228.5px)"></div>
<div style="left:49.00px;top:243.30px;width:228.60px;height:2.60px;background:linear-gradient(90deg,#440154 0.0px,#450356 70.5px,#46095d 81.0px,#481567 86.0px,#482576 90.0px,#443983 93.5px,#375a8c 98.0px,#297a8e 102.0px,#1e9d89 105.0px,#20a486 105.5px,#25ac82 106.0px,#2fb37c 106.5px,#5ac864 108.0px,#93d741 109.5px,#a8db34 110.0px,#c5e022 111.0px,#d2e21b 111.5px,#dee318 112.0px,#e8e419 112.5px,#fae722 115.0px,#e9e419 117.5px,#e0e318 118.0px,#d4e21a 118.5px,#bade28 119.5px,#addc31 120.0px,#61ca60 122.0px,#35b779 123.5px,#2ab07f 124.0px,#23a884 124.5px,#1e9b8a 125.5px,#29798e 128.5px,#3e4c8a 134.5px,#472e7c 139.0px,#481a6c 143.5px,#470e61 147.5px,#46075a 152.5px,#440255 168.0px,#440154 228.5px)"></div>
<div style="left:49.00px;top:245.30px;width:228.60px;height:2.60px;background:linear-gradient(90deg,#440154 0.0px,#450356 70.5px,#46095d 81.0px,#481567 86.0px,#482576 90.0px,#443983 93.5px,#375a8c 98.0px,#297a8e 102.0px,#1e9d89 105.0px,#20a486 105.5px,#25ab82 106.0px,#2eb37c 106.5px,#59c864 108.0px,#93d741 109.5px,#a8db34 110.0px,#c5e021 111.0px,#d2e21b 111.5px,#dee318 112.0px,#e9e419 112.5px,#fae722 115.0px,#e9e41a 117.5px,#e0e318 118.0px,#d5e21a 118.5px,#bbde28 119.5px,#addc30 120.0px,#60ca60 122.0px,#34b779 123.5px,#29af7f 124.0px,#22a884 124.5px,#1f9a8a 125.5px,#29798e 128.5px,#3e4b8a 134.5px,#472e7c 139.0px,#481a6c 143.5px,#470e61 147.5px,#46075a 152.5px,#440255 168.0px,#440154 228.5px)"></div>
<div style="left:49.00px;top:247.30px;width:228.60px;height:0.90px;background:linear-gradient(90deg,#440154 0.0px,#450356 70.5px,#46095d 81.0px,#481567 86.0px,#482576 90.0px,#443983 93.5px,#375a8c 98.0px,#297a8e 102.0px,#1e9d89 105.0px,#20a486 105.5px,#25ab82 106.0px,#2eb37c 106.5px,#49c16d 107.5px,#6bcd5a 108.5px,#a8db33 110.0px,#c5e021 111.0px,#d2e21b 111.5px,#dfe318 112.0px,#e9e419 112.5px,#fae722 115.0px,#eae41a 117.5px,#e0e318 118.0px,#d5e21a 118.5px,#bbde27 119.5px,#addc30 120.0px,#60ca60 122.0px,#34b779 123.5px,#29af7f 124.0px,#22a884 124.5px,#1f9a8a 125.5px,#2a798e 128.5px,#3e4b8a 134.5px,#472e7c 139.0px,#481b6d 143.0px,#470f62 147.0px,#46075a 152.5px,#440255 168.0px,#440154 228.5px)"></div>
<div style="left:420.00px;top:17.30px;width:228.70px;height:2.10px;background:linear-gradient(90deg,#450457 0.0px,#46075b 75.5px,#471063 89.5px,#482172 99.0px,#433f85 110.0px,#3e4b8a 114.0px,#3e4a89 116.5px,#472d7b 126.0px,#481467 137.0px,#46095d 148.5px,#450458 181.0px,#450457 228.5px)"></div>
<div style="left:420.00px;top:18.80px;width:228.70px;height:2.10px;background:linear-gradient(90deg,#450457 0.0px,#46075b 75.5px,#471063 89.5px,#482172 99.0px,#423f85 110.0px,#3d4c8a 114.0px,#3e4a89 116.5px,#472d7b 126.0px,#481467 137.0px,#46095d 148.5px,#450458 181.0px,#450457 228.5px)"></div>
<div style="left:420.00px;top:20.30px;width:228.70px;height:2.10px;background:linear-gradient(90deg,#450457 0.0px,#46075b 75.5px,#470f62 89.0px,#482071 98.5px,#433e85 109.5px,#3d4c8a 114.0px,#3e4b89 116.5px,#472e7c 125.5px,#481467 137.0px,#46095d 148.5px,#450458 181.0px,#450457 228.5px)"></div>
<div style="left:420.00px;top:21.80px;width:228.70px;height:2.10px;background:linear-gradient(90deg,#450457 0.0px,#46075b 75.5px,#470f62 89.0px,#482071 98.5px,#433e85 109.5px,#3d4d8a 114.0px,#3e4b8a 116.5px,#472e7c 125.5px,#481467 137.0px,#46095d 148.5px,#450458 181.0px,#450457 228.5px)"></div>
<div style="left:420.00px;top:23.30px;width:228.70px;height:2.10px;background:linear-gradient(90deg,#450457 0.0px,#46075b 75.5px,#470f62 89.0px,#482071 98.5px,#433e85 109.5px,#3d4d8a 114.0px,#3d4c8a 116.5px,#472f7c 125.5px,#481568 136.5px,#460a5d 148.0px,#450558 178.0px,#450457 228.5px)"></div>
<div style="left:420.00px;top:24.80px;width:228.70px;height:2.10px;background:linear-gradient(90deg,#450457 0.0px,#46075b 75.5px,#470f62 89.0px,#482071 98.5px,#433e85 109.5px,#3d4e8a 114.0px,#3d4c8a 116.5px,#472f7d 125.5px,#481568 136.5px,#460a5d 148.0px,#450558 178.0px,#450457 228.5px)"></div>
<div style="left:420.00px;top:26.30px;width:228.70px;height:2.10px;background:linear-gradient(90deg,#450457 0.0px,#46075b 75.5px,#470f62 89.0px,#482071 98.5px,#433f85 109.5px,#3c4e8a 114.0px,#3d4d8a 116.5px,#472f7d 125.5px,#481568 136.5px,#460a5d 148.0px,#450558 178.0px,#450457 228.5px)"></div>
<div style="left:420.00px;top:27.80px;width:228.70px;height:2.10px;background:linear-gradient(90deg,#450457 0.0px,#46075b 75.5px,#470f62 89.0px,#482071 98.5px,#423f85 109.5px,#3c4f8a 114.0px,#3d4d8a 116.5px,#472f7d 125.5px,#481568 136.5px,#460a5d 148.0px,#450558 178.0px,#450457 228.5px)"></div>
<div style="left:420.00px;top:29.30px;width:228.70px;height:2.10px;background:linear-gradient(90deg,#450457 0.0px,#46075b 75.5px,#470f62 89.0px,#482071 98.5px,#433d85 109.0px,#3c4f8a 114.0px,#3d4e8a 116.5px,#46307e 125.0px,#481568 136.5px,#460a5d 148.0px,#450558 178.0px,#450457 228.5px)"></div>
<div style="left:420.00px;top:30.80px;width:228.70px;height:2.10px;background:linear-gradient(90deg,#450457 0.0px,#46075b 75.5px,#470f62 89.0px,#482071 98.5px,#433e85 109.0px,#3c508b 114.0px,#3c4e8a 116.5px,#46307e 125.0px,#481568 136.5px,#460a5d 148.0px,#450558 177.5px,#450457 228.5px)"></div>
<div style="left:420.00px;top:32.30px;width:228.70px;height:2.10px;background:linear-gradient(90deg,#450457 0.0px,#46075b 75.5px,#470f62 89.0px,#482071 98.5px,#433e85 109.0px,#3c508b 114.0px,#3c4f8a 116.5px,#46317e 125.0px,#481568 136.5px,#460a5d 148.0px,#450558 177.5px,#450457 228.5px)"></div>
<div style="left:420.00px;top:33.80px;width:228.70px;height:2.10px;background:linear-gradient(90deg,#450457 0.0px,#46075b 75.5px,#470f62 89.0px,#482072 98.5px,#433e85 109.0px,#3b518b 114.0px,#3c4f8a 116.5px,#46317e 125.0px,#481669 136.0px,#460a5d 147.0px,#450558 172.5px,#450457 228.5px)"></div>
<div style="left:420.00px;top:35.30px;width:228.70px;height:2.10px;background:linear-gradient(90deg,#450457 0.0px,#46075b 75.5px,#471062 89.0px,#482072 98.5px,#433d84 108.5px,#3b528b 114.0px,#3b508b 116.5px,#46317e 125.0px,#481669 136.0px,#460a5d 147.0px,#450558 172.5px,#450457 228.5px)"></div>
<div style="left:420.00px;top:36.80px;width:228.70px;height:2.10px;background:linear-gradient(90deg,#450457 0.0px,#46075b 75.5px,#471062 89.0px,#482072 98.5px,#443c84 108.0px,#3a538b 114.0px,#3b528b 116.5px,#46337f 124.5px,#48176a 135.5px,#460b5e 146.0px,#450559 168.5px,#450457 228.5px)"></div>
<div style="left:420.00px;top:38.30px;width:228.70px;height:2.10px;background:linear-gradient(90deg,#450457 0.0px,#46075b 75.5px,#471062 89.0px,#482072 98.5px,#443a83 107.5px,#3a548b 113.5px,#39558c 116.0px,#463480 124.0px,#48186a 135.0px,#460b5e 145.5px,#450559 166.5px,#450457 228.5px)"></div>
<div style="left:420.00px;top:39.80px;width:228.70px;height:2.10px;background:linear-gradient(90deg,#450457 0.0px,#46075b 75.5px,#471062 89.0px,#482072 98.5px,#443b84 107.5px,#39568c 113.5px,#39568c 116.0px,#453882 123.0px,#481c6e 133.0px,#470e61 142.5px,#45065a 158.5px,#450457 228.5px)"></div>
<div style="left:420.00px;top:41.30px;width:228.70px;height:2.10px;background:linear-gradient(90deg,#450457 0.0px,#46075b 75.5px,#471062 89.0px,#482072 98.5px,#443983 107.0px,#38578c 113.5px,#38588c 116.0px,#424186 121.0px,#472c7b 127.0px,#481567 137.0px,#46095d 148.5px,#450558 180.0px,#450457 228.5px)"></div>
<div style="left:420.00px;top:42.80px;width:228.70px;height:2.10px;background:linear-gradient(90deg,#450457 0.0px,#46075b 75.5px,#471062 89.0px,#482072 98.5px,#443a83 107.0px,#38598c 113.5px,#375a8d 115.5px,#3c4f8b 118.5px,#453581 124.0px,#481a6c 134.0px,#470c5f 144.0px,#450659 162.0px,#450457 228.5px)"></div>
<div style="left:420.00px;top:44.30px;width:228.70px;height:2.10px;background:linear-gradient(90deg,#450457 0.0px,#46075b 75.0px,#471062 89.0px,#482072 98.5px,#453882 106.5px,#38598c 113.0px,#365c8d 115.0px,#39568c 117.5px,#453782 123.5px,#481e6f 132.5px,#470e61 142.0px,#46075a 157.0px,#450457 228.5px)"></div>
<div style="left:420.00px;top:45.80px;width:228.70px;height:2.10px;background:linear-gradient(90deg,#450457 0.0px,#46075b 75.0px,#471062 89.0px,#482172 98.5px,#443982 106.5px,#375b8d 113.0px,#355f8d 115.0px,#38588c 117.5px,#453882 123.5px,#481f70 132.0px,#470f62 141.5px,#46075a 156.0px,#450457 228.5px)"></div>
<div style="left:420.00px;top:47.30px;width:228.70px;height:2.10px;background:linear-gradient(90deg,#450457 0.0px,#46075b 75.0px,#471062 89.0px,#481f71 98.0px,#453782 106.0px,#3a538b 111.0px,#34608d 114.0px,#34608d 116.0px,#3b518b 119.0px,#453681 124.0px,#481e6f 132.5px,#470e61 142.0px,#46075a 157.0px,#450457 228.5px)"></div>
<div style="left:420.00px;top:48.80px;width:228.70px;height:2.10px;background:linear-gradient(90deg,#450457 0.0px,#46075b 75.0px,#471062 89.0px,#481f71 98.0px,#453681 105.5px,#3d4e8a 110.0px,#33618d 113.5px,#33638d 115.5px,#37598c 118.0px,#443983 123.5px,#482374 130.5px,#471164 139.5px,#46085b 152.5px,#450457 209.0px,#450457 228.5px)"></div>
<div style="left:420.00px;top:50.30px;width:228.70px;height:2.10px;background:linear-gradient(90deg,#450457 0.0px,#46075b 75.0px,#471062 89.0px,#481f71 98.0px,#453681 105.5px,#3d4c8a 109.5px,#33628d 113.0px,#31668e 115.0px,#34618d 117.0px,#433e85 122.5px,#472b7a 127.5px,#481567 137.0px,#46095d 148.5px,#450558 179.5px,#450457 228.5px)"></div>
<div style="left:420.00px;top:51.80px;width:228.70px;height:2.10px;background:linear-gradient(90deg,#450457 0.0px,#46075b 75.0px,#471062 89.0px,#482071 98.0px,#453681 105.5px,#3d4d8a 109.5px,#32648e 113.0px,#30698e 115.0px,#33638d 117.0px,#423f85 122.5px,#472d7b 127.0px,#481668 136.5px,#460a5d 147.5px,#450558 174.0px,#450457 228.5px)"></div>
<div style="left:420.00px;top:53.30px;width:228.70px;height:2.10px;background:linear-gradient(90deg,#450457 0.0px,#46075b 75.0px,#471062 89.0px,#482071 98.0px,#463480 105.0px,#3f4788 108.5px,#31668e 113.0px,#2f6b8e 115.0px,#32658e 117.0px,#424086 122.5px,#472d7b 127.0px,#481668 136.5px,#460a5d 147.5px,#450558 174.0px,#450457 228.5px)"></div>
<div style="left:420.00px;top:54.80px;width:228.70px;height:2.10px;background:linear-gradient(90deg,#450457 0.0px,#46075b 75.0px,#471063 89.0px,#482071 98.0px,#453580 105.0px,#3f4989 108.5px,#30698e 113.0px,#2e6e8e 115.0px,#31688e 117.0px,#414487 122.0px,#46307e 126.0px,#48196b 135.0px,#460c5f 145.0px,#450559 164.5px,#450457 228.5px)"></div>
<div style="left:420.00px;top:56.30px;width:228.70px;height:2.10px;background:linear-gradient(90deg,#450457 0.0px,#46075b 75.0px,#471063 89.0px,#482071 98.0px,#453681 105.0px,#3e4b89 108.5px,#2e6d8e 113.0px,#2c728e 115.0px,#2f6c8e 117.0px,#404588 122.0px,#46337f 125.5px,#481c6e 133.5px,#470e60 143.0px,#45065a 159.0px,#450457 228.5px)"></div>
<div style="left:420.00px;top:57.80px;width:228.70px;height:2.10px;background:linear-gradient(90deg,#450457 0.0px,#46075b 75.0px,#471063 89.0px,#482071 98.0px,#463480 104.5px,#3f4889 108.0px,#2d708e 113.0px,#2b768e 115.0px,#2d6f8e 117.0px,#3f4788 122.0px,#46337f 125.5px,#481c6e 133.5px,#470e61 143.0px,#45065a 159.0px,#450457 228.5px)"></div>
<div style="left:420.00px;top:59.30px;width:228.70px;height:2.10px;background:linear-gradient(90deg,#450457 0.0px,#46075b 75.0px,#471063 89.0px,#482072 98.0px,#463580 104.5px,#404688 107.5px,#2d718e 112.5px,#297a8e 114.5px,#2a788e 116.0px,#31678e 118.5px,#424186 123.0px,#47307d 126.5px,#48196b 135.0px,#470c5f 145.0px,#450659 164.0px,#450457 228.5px)"></div>
<div style="left:420.00px;top:60.80px;width:228.70px;height:2.10px;background:linear-gradient(90deg,#450457 0.0px,#46075b 74.5px,#471062 88.5px,#481f71 97.5px,#46337f 104.0px,#414487 107.0px,#2f6c8e 111.5px,#297a8e 113.5px,#287e8e 115.0px,#2a768e 117.0px,#3e4a89 122.0px,#453781 125.0px,#482374 131.0px,#471164 140.0px,#46085b 153.0px,#450457 209.5px,#450457 228.5px)"></div>
<div style="left:420.00px;top:62.30px;width:228.70px;height:2.10px;background:linear-gradient(90deg,#450457 0.0px,#46075b 74.5px,#471062 88.5px,#482071 97.5px,#463480 104.0px,#404588 107.0px,#2d718e 111.5px,#27808e 113.5px,#25848e 115.0px,#277f8e 116.5px,#306a8e 119.0px,#414487 123.0px,#46337f 126.0px,#481d6f 133.5px,#470e61 143.0px,#45065a 159.0px,#450457 228.5px)"></div>
<div style="left:420.00px;top:63.80px;width:228.70px;height:2.10px;background:linear-gradient(90deg,#450457 0.0px,#46075b 74.5px,#471063 88.5px,#482071 97.5px,#463480 104.0px,#3f4788 107.0px,#2b768e 111.5px,#24868e 113.5px,#238a8d 115.0px,#25858e 116.5px,#2e6e8e 119.0px,#3e4a89 122.5px,#453681 125.5px,#482273 131.5px,#471163 140.5px,#46085b 154.0px,#450457 218.5px,#450457 228.5px)"></div>
<div style="left:420.00px;top:65.30px;width:228.70px;height:2.10px;background:linear-gradient(90deg,#450457 0.0px,#46075b 74.5px,#471063 88.5px,#482071 97.5px,#463580 104.0px,#414487 106.5px,#33638d 109.5px,#25858e 112.5px,#218f8d 114.0px,#21908d 115.5px,#24878e 117.0px,#39558c 121.5px,#433f85 124.0px,#472e7c 127.5px,#48186a 136.0px,#460b5e 146.5px,#450559 168.5px,#450457 228.5px)"></div>
<div style="left:420.00px;top:66.80px;width:228.70px;height:2.10px;background:linear-gradient(90deg,#450457 0.0px,#46075b 74.5px,#471063 88.5px,#482072 97.5px,#453580 104.0px,#414487 106.5px,#355e8d 109.0px,#238a8d 112.5px,#1f958b 114.0px,#1f968b 115.5px,#228d8d 117.0px,#365c8d 121.0px,#414387 123.5px,#46327e 126.5px,#481b6d 134.5px,#470d60 144.0px,#45065a 161.0px,#450457 228.5px)"></div>
<div style="left:420.00px;top:68.30px;width:228.70px;height:2.10px;background:linear-gradient(90deg,#450457 0.0px,#46075b 74.5px,#471063 88.5px,#482072 97.5px,#453580 104.0px,#404588 106.5px,#34618d 109.0px,#228c8d 112.0px,#1e9c8a 113.5px,#1fa187 115.0px,#1f9a8a 116.5px,#26828e 118.5px,#3b528b 122.0px,#433c84 124.5px,#472b7a 128.5px,#481568 137.5px,#460a5d 149.0px,#450558 178.5px,#450457 228.5px)"></div>
<div style="left:420.00px;top:69.80px;width:228.70px;height:2.10px;background:linear-gradient(90deg,#450457 0.0px,#46075b 74.5px,#471063 88.5px,#482172 97.5px,#453580 104.0px,#404588 106.5px,#365c8d 108.5px,#228c8d 111.5px,#1fa188 113.0px,#25ab82 114.5px,#22a884 116.0px,#1f988b 117.5px,#2d708e 120.0px,#3d4d8a 122.5px,#433c84 124.5px,#472d7b 128.0px,#481669 137.0px,#460a5e 148.0px,#450558 173.5px,#450457 228.5px)"></div>
<div style="left:420.00px;top:71.30px;width:228.70px;height:2.10px;background:linear-gradient(90deg,#450457 0.0px,#46075b 74.5px,#471063 88.5px,#482172 97.5px,#453580 104.0px,#404588 106.5px,#355e8d 108.5px,#23898e 111.0px,#1e9b8a 112.0px,#24a983 113.0px,#2eb37c 114.0px,#33b67a 115.0px,#2cb27d 116.0px,#22a785 117.0px,#1f978b 118.0px,#2c738e 120.0px,#3a548b 122.0px,#423f85 124.0px,#47307d 127.0px,#48186a 136.0px,#460b5e 146.5px,#450559 168.0px,#450457 228.5px)"></div>
<div style="left:420.00px;top:72.80px;width:228.70px;height:2.10px;background:linear-gradient(90deg,#450457 0.0px,#46075b 74.0px,#471062 88.0px,#481f71 97.0px,#463580 104.0px,#404588 106.5px,#38578c 108.0px,#29798e 110.0px,#1f988b 111.5px,#1fa187 112.0px,#24aa83 112.5px,#37b878 113.5px,#44bf70 114.5px,#45c070 115.0px,#42be71 115.5px,#33b67a 116.5px,#22a785 117.5px,#1f9e89 118.0px,#23898d 119.0px,#33638d 121.0px,#3f4889 123.0px,#443982 125.0px,#482777 130.0px,#481366 139.0px,#46095c 151.5px,#450458 193.5px,#450457 228.5px)"></div>
<div style="left:420.00px;top:74.30px;width:228.70px;height:2.10px;background:linear-gradient(90deg,#450457 0.0px,#46075b 74.0px,#471062 88.0px,#481f71 97.0px,#463480 104.0px,#424086 106.0px,#3c4f8b 107.5px,#31678e 109.0px,#21908c 111.0px,#1e9c89 111.5px,#21a785 112.0px,#2bb07e 112.5px,#45bf70 113.5px,#50c46a 114.0px,#56c666 114.5px,#58c765 115.0px,#54c667 115.5px,#4cc26c 116.0px,#32b67a 117.0px,#26ad81 117.5px,#1fa287 118.0px,#1f978b 118.5px,#2a768e 120.0px,#375b8d 121.5px,#3f4788 123.0px,#453882 125.0px,#482576 130.5px,#471365 139.5px,#46085c 152.0px,#450458 197.0px,#450457 228.5px)"></div>
<div style="left:420.00px;top:75.80px;width:228.70px;height:2.10px;background:linear-gradient(90deg,#450457 0.0px,#46075b 74.0px,#471062 88.0px,#481f71 97.0px,#453681 104.5px,#414387 106.5px,#39568c 108.0px,#2d708e 109.5px,#20938c 111.0px,#1f9f88 111.5px,#25ab82 112.0px,#32b57a 112.5px,#53c568 113.5px,#61ca60 114.0px,#69cd5b 114.5px,#6bcd5a 115.0px,#66cc5d 115.5px,#5cc863 116.0px,#3cbb75 117.0px,#2cb17e 117.5px,#21a685 118.0px,#1f9a8a 118.5px,#2a778e 120.0px,#375a8c 121.5px,#404688 123.0px,#453882 125.0px,#482374 131.5px,#471164 140.5px,#46085b 154.0px,#450457 215.0px,#450457 228.5px)"></div>
<div style="left:420.00px;top:77.30px;width:228.70px;height:2.10px;background:linear-gradient(90deg,#450457 0.0px,#46075b 74.0px,#471062 88.0px,#481f71 97.0px,#453681 104.5px,#414387 106.5px,#3a548c 108.0px,#2d708e 109.5px,#1f948c 111.0px,#1fa287 111.5px,#28ae80 112.0px,#3aba76 112.5px,#63cb5f 113.5px,#73d055 114.0px,#7dd24f 114.5px,#7fd34e 115.0px,#7ad151 115.5px,#6dce59 116.0px,#46c06f 117.0px,#32b67a 117.5px,#23a983 118.0px,#1e9c89 118.5px,#26838e 119.5px,#33628d 121.0px,#3e4b89 122.5px,#433d84 124.0px,#472e7c 127.5px,#481769 137.0px,#460a5e 148.0px,#450558 173.5px,#450457 228.5px)"></div>
<div style="left:420.00px;top:78.80px;width:228.70px;height:2.10px;background:linear-gradient(90deg,#450457 0.0px,#46075b 74.0px,#471062 88.0px,#481f71 97.0px,#453882 105.0px,#404688 107.0px,#365b8d 108.5px,#297b8e 110.0px,#1f968b 111.0px,#20a486 111.5px,#2db27d 112.0px,#42be71 112.5px,#73d055 113.5px,#86d549 114.0px,#92d742 114.5px,#94d840 115.0px,#8ed644 115.5px,#7fd34e 116.0px,#6acd5b 116.5px,#39b976 117.5px,#26ac81 118.0px,#1f9e89 118.5px,#26838e 119.5px,#34618d 121.0px,#3e4a89 122.5px,#433c84 124.0px,#472e7c 127.5px,#481769 137.0px,#460a5e 148.0px,#450558 173.5px,#450457 228.5px)"></div>
<div style="left:420.00px;top:80.30px;width:228.70px;height:2.10px;background:linear-gradient(90deg,#450457 0.0px,#46075b 74.0px,#471062 88.0px,#481f71 97.0px,#453882 105.0px,#404688 107.0px,#365b8d 108.5px,#287c8e 110.0px,#1f988b 111.0px,#22a785 111.5px,#32b57a 112.0px,#67cc5c 113.0px,#82d44c 113.5px,#97d83f 114.0px,#a3db37 114.5px,#a6db35 115.0px,#9fda39 115.5px,#8fd744 116.0px,#78d152 116.5px,#40bd72 117.5px,#2ab07f 118.0px,#1fa187 118.5px,#20928c 119.0px,#2f6b8e 120.5px,#3c508b 122.0px,#424086 123.5px,#46337f 126.0px,#48186b 136.0px,#460c5f 146.0px,#450559 166.0px,#450457 228.5px)"></div>
<div style="left:420.00px;top:81.80px;width:228.70px;height:2.10px;background:linear-gradient(90deg,#450457 0.0px,#46075b 74.0px,#471062 88.0px,#481f71 97.0px,#453882 105.0px,#404688 107.0px,#365c8d 108.5px,#287e8e 110.0px,#1e9b8a 111.0px,#24aa83 111.5px,#38b977 112.0px,#73d055 113.0px,#90d743 113.5px,#a6db35 114.0px,#b4dd2c 114.5px,#b7de2a 115.0px,#afdd2f 115.5px,#9eda3a 116.0px,#85d44a 116.5px,#48c16e 117.5px,#2eb37c 118.0px,#20a486 118.5px,#1f948c 119.0px,#2f6d8e 120.5px,#3b508b 122.0px,#424086 123.5px,#46337f 126.0px,#48186b 136.0px,#460c5f 146.0px,#450659 166.0px,#450457 228.5px)"></div>
<div style="left:420.00px;top:83.30px;width:228.70px;height:2.10px;background:linear-gradient(90deg,#450457 0.0px,#46075b 74.0px,#471062 88.0px,#481f71 97.0px,#453882 105.0px,#404788 107.0px,#365d8d 108.5px,#277f8e 110.0px,#1e9d89 111.0px,#27ad81 111.5px,#3ebc74 112.0px,#80d34e 113.0px,#9eda3a 113.5px,#b6de2b 114.0px,#c4e022 114.5px,#c7e020 115.0px,#bfdf25 115.5px,#aedc30 116.0px,#93d741 116.5px,#72cf56 117.0px,#51c469 117.5px,#33b67a 118.0px,#22a785 118.5px,#1f978b 119.0px,#297a8e 120.0px,#37598c 121.5px,#404587 123.0px,#453781 125.0px,#481d6e 134.0px,#470e61 143.5px,#45065a 159.5px,#450457 228.5px)"></div>
<div style="left:420.00px;top:84.80px;width:228.70px;height:2.10px;background:linear-gradient(90deg,#450457 0.0px,#46075b 74.0px,#471062 88.0px,#482071 97.0px,#453882 105.0px,#404788 107.0px,#355d8d 108.5px,#26818e 110.0px,#21908d 110.5px,#1fa088 111.0px,#2ab07f 111.5px,#45bf70 112.0px,#68cc5c 112.5px,#8cd646 113.0px,#addc30 113.5px,#c6e021 114.0px,#d4e21b 114.5px,#d7e21a 115.0px,#d0e11c 115.5px,#bddf26 116.0px,#a1da38 116.5px,#7ed34f 117.0px,#59c864 117.5px,#39b976 118.0px,#24aa83 118.5px,#1f998a 119.0px,#287b8e 120.0px,#375a8c 121.5px,#404588 123.0px,#453781 125.0px,#481d6e 134.0px,#470e61 143.5px,#45065a 159.5px,#450457 228.5px)"></div>
<div style="left:420.00px;top:86.30px;width:228.70px;height:2.10px;background:linear-gradient(90deg,#450457 0.0px,#46075b 74.0px,#471062 88.0px,#482071 97.0px,#453882 105.0px,#3f4788 107.0px,#355e8d 108.5px,#26828e 110.0px,#20918c 110.5px,#1fa187 111.0px,#2cb27d 111.5px,#49c16e 112.0px,#6ece58 112.5px,#94d841 113.0px,#b6de2b 113.5px,#cfe11c 114.0px,#dde318 114.5px,#e1e318 115.0px,#d9e219 115.5px,#c6e021 116.0px,#a9dc33 116.5px,#85d44a 117.0px,#5fc961 117.5px,#3cbb75 118.0px,#25ab82 118.5px,#1f9a8a 119.0px,#287c8e 120.0px,#375a8c 121.5px,#404588 123.0px,#453782 125.0px,#481d6e 134.0px,#470e61 143.5px,#45065a 159.5px,#450457 228.5px)"></div>
<div style="left:420.00px;top:87.80px;width:228.70px;height:2.10px;background:linear-gradient(90deg,#450457 0.0px,#46075b 74.0px,#471062 88.0px,#482071 97.0px,#453882 105.0px,#3f4788 107.0px,#355e8d 108.5px,#26828e 110.0px,#20918c 110.5px,#1fa287 111.0px,#2eb37d 111.5px,#4cc26c 112.0px,#72cf56 112.5px,#99d93d 113.0px,#bcdf27 113.5px,#d5e21a 114.0px,#e4e419 114.5px,#e7e419 115.0px,#e0e318 115.5px,#cce11e 116.0px,#afdd2f 116.5px,#8ad547 117.0px,#62cb5f 117.5px,#3fbc73 118.0px,#26ac82 118.5px,#1e9b8a 119.0px,#287c8e 120.0px,#375a8c 121.5px,#404588 123.0px,#453782 125.0px,#481d6f 134.0px,#470e61 143.5px,#45065a 159.5px,#450457 228.5px)"></div>
<div style="left:420.00px;top:89.30px;width:228.70px;height:2.10px;background:linear-gradient(90deg,#450457 0.0px,#46075b 74.0px,#471062 88.0px,#482071 97.0px,#453882 105.0px,#404788 107.0px,#355e8d 108.5px,#2b758e 109.5px,#20928c 110.5px,#20a387 111.0px,#2fb47c 111.5px,#4fc46a 112.0px,#76d053 112.5px,#9eda3a 113.0px,#c2df23 113.5px,#dce319 114.0px,#ebe51a 114.5px,#eee51b 115.0px,#e6e419 115.5px,#d3e21b 116.0px,#b5dd2b 116.5px,#8fd644 117.0px,#66cc5d 117.5px,#41bd72 118.0px,#27ad81 118.5px,#1e9c89 119.0px,#287d8e 120.0px,#375a8c 121.5px,#404588 123.0px,#453782 125.0px,#481d6f 134.0px,#470e61 143.5px,#45065a 159.5px,#450457 228.5px)"></div>
<div style="left:420.00px;top:90.80px;width:228.70px;height:2.10px;background:linear-gradient(90deg,#450457 0.0px,#46075b 74.0px,#471062 88.0px,#482071 97.0px,#453882 105.0px,#404788 107.0px,#355e8d 108.5px,#2b758e 109.5px,#20928c 110.5px,#20a386 111.0px,#31b57b 111.5px,#52c569 112.0px,#7ad251 112.5px,#a4db36 113.0px,#c8e020 113.5px,#e2e418 114.0px,#f1e51d 114.5px,#f4e61f 115.0px,#ece51b 115.5px,#d9e219 116.0px,#bade28 116.5px,#93d841 117.0px,#6acd5b 117.5px,#43bf71 118.0px,#28ae80 118.5px,#1e9d89 119.0px,#287d8e 120.0px,#32648e 121.0px,#3e4a89 122.5px,#433c84 124.0px,#472e7c 127.5px,#481769 137.0px,#460a5e 148.0px,#450558 173.5px,#450457 228.5px)"></div>
<div style="left:420.00px;top:92.30px;width:228.70px;height:2.10px;background:linear-gradient(90deg,#450457 0.0px,#46075b 74.0px,#471063 88.0px,#482071 97.0px,#453882 105.0px,#404788 107.0px,#355e8d 108.5px,#2b758e 109.5px,#20938c 110.5px,#20a486 111.0px,#31b57b 111.5px,#53c568 112.0px,#7cd250 112.5px,#a6db35 113.0px,#cbe11e 113.5px,#e5e419 114.0px,#f4e61e 114.5px,#f7e621 115.0px,#f0e51c 115.5px,#dce319 116.0px,#bddf26 116.5px,#96d840 117.0px,#6bcd5a 117.5px,#44bf70 118.0px,#28ae80 118.5px,#1e9d89 119.0px,#287d8e 120.0px,#32648e 121.0px,#3e4a89 122.5px,#433c84 124.0px,#472e7c 127.5px,#481769 137.0px,#460a5e 148.0px,#450558 173.5px,#450457 228.5px)"></div>
<div style="left:420.00px;top:93.80px;width:228.70px;height:2.10px;background:linear-gradient(90deg,#450457 0.0px,#46075b 74.0px,#471063 88.0px,#482071 97.0px,#453882 105.0px,#404788 107.0px,#355d8d 108.5px,#2b758e 109.5px,#20928c 110.5px,#20a486 111.0px,#31b57b 111.5px,#53c568 112.0px,#7dd24f 112.5px,#a7db34 113.0px,#cce11e 113.5px,#e7e419 114.0px,#f6e61f 114.5px,#f9e722 115.0px,#f1e51d 115.5px,#dee318 116.0px,#bedf25 116.5px,#97d83f 117.0px,#6ccd5a 117.5px,#44bf70 118.0px,#28ae80 118.5px,#1e9d89 119.0px,#287d8e 120.0px,#32648e 121.0px,#3e4a89 122.5px,#433c84 124.0px,#472d7b 128.0px,#481668 137.5px,#460a5d 148.5px,#450558 175.5px,#450457 228.5px)"></div>
<div style="left:420.00px;top:95.30px;width:228.70px;height:2.10px;background:linear-gradient(90deg,#450457 0.0px,#46075b 74.0px,#471063 88.0px,#482071 97.0px,#453882 105.0px,#404688 107.0px,#355d8d 108.5px,#2b748e 109.5px,#20928c 110.5px,#20a386 111.0px,#31b57b 111.5px,#53c568 112.0px,#7dd24f 112.5px,#a8db33 113.0px,#cee11d 113.5px,#e8e419 114.0px,#f7e621 114.5px,#fbe723 115.0px,#f3e61e 115.5px,#dfe318 116.0px,#c0df25 116.5px,#97d83e 117.0px,#6cce59 117.5px,#44bf70 118.0px,#28ae80 118.5px,#1e9c89 119.0px,#287d8e 120.0px,#33638d 121.0px,#3e4a89 122.5px,#433c84 124.0px,#472d7b 128.0px,#481668 137.5px,#460a5d 148.5px,#450558 175.5px,#450457 228.5px)"></div>
<div style="left:420.00px;top:96.80px;width:228.70px;height:2.10px;background:linear-gradient(90deg,#450457 0.0px,#46075b 74.0px,#471063 88.0px,#482071 97.0px,#453882 105.0px,#404688 107.0px,#365d8d 108.5px,#2b748e 109.5px,#20928c 110.5px,#20a386 111.0px,#31b57b 111.5px,#54c568 112.0px,#7ed34e 112.5px,#a9dc33 113.0px,#cfe11c 113.5px,#eae51a 114.0px,#f9e622 114.5px,#fde724 115.0px,#f4e61f 115.5px,#e1e318 116.0px,#c1df24 116.5px,#98d93e 117.0px,#6dce59 117.5px,#45bf70 118.0px,#28ae80 118.5px,#1e9c89 119.0px,#287c8e 120.0px,#33638d 121.0px,#3e4a89 122.5px,#433c84 124.0px,#472d7b 128.0px,#481668 137.5px,#460a5d 148.5px,#450558 175.5px,#450457 228.5px)"></div>
<div style="left:420.00px;top:98.30px;width:228.70px;height:2.10px;background:linear-gradient(90deg,#450457 0.0px,#46075b 74.0px,#471063 88.0px,#482071 97.0px,#453882 105.0px,#404688 107.0px,#365d8d 108.5px,#2c738e 109.5px,#20918c 110.5px,#1fa287 111.0px,#30b47b 111.5px,#51c569 112.0px,#7bd250 112.5px,#a6db35 113.0px,#cce11e 113.5px,#e7e419 114.0px,#f6e620 114.5px,#fae722 115.0px,#f2e61d 115.5px,#dee318 116.0px,#bedf26 116.5px,#96d840 117.0px,#6acd5b 117.5px,#43be71 118.0px,#27ad81 118.5px,#1e9b8a 119.0px,#287c8e 120.0px,#33638d 121.0px,#3e4a89 122.5px,#433c84 124.0px,#472d7b 128.0px,#481668 137.5px,#460a5d 148.5px,#450558 175.5px,#450457 228.5px)"></div>
<div style="left:420.00px;top:99.80px;width:228.70px;height:2.10px;background:linear-gradient(90deg,#450457 0.0px,#46075b 74.0px,#471063 88.0px,#482071 97.0px,#453882 105.0px,#404688 107.0px,#365c8d 108.5px,#2c738e 109.5px,#21908c 110.5px,#1fa187 111.0px,#2eb37d 111.5px,#4ec36b 112.0px,#77d153 112.5px,#a2da38 113.0px,#c7e020 113.5px,#e2e418 114.0px,#f2e61d 114.5px,#f5e61f 115.0px,#ede51b 115.5px,#d9e219 116.0px,#b9de29 116.5px,#91d743 117.0px,#66cc5d 117.5px,#40bd73 118.0px,#26ac82 118.5px,#1f9a8a 119.0px,#297b8e 120.0px,#33628d 121.0px,#3f4989 122.5px,#433c84 124.0px,#472c7a 128.5px,#481668 137.5px,#460a5d 148.5px,#450558 175.5px,#450457 228.5px)"></div>
<div style="left:420.00px;top:101.30px;width:228.70px;height:2.10px;background:linear-gradient(90deg,#450457 0.0px,#46075b 74.0px,#471063 88.0px,#482071 97.0px,#453882 105.0px,#404688 107.0px,#365b8d 108.5px,#2c728e 109.5px,#218f8d 110.5px,#1fa088 111.0px,#2cb17e 111.5px,#4bc26c 112.0px,#73d055 112.5px,#9dd93b 113.0px,#c2df23 113.5px,#dee318 114.0px,#ede51b 114.5px,#f1e51d 115.0px,#e8e419 115.5px,#d4e21a 116.0px,#b4dd2c 116.5px,#8dd645 117.0px,#63cb5f 117.5px,#3dbc74 118.0px,#24aa83 118.5px,#1f998a 119.0px,#297a8e 120.0px,#34618d 121.0px,#3f4989 122.5px,#433c84 124.0px,#472c7a 128.5px,#481668 137.5px,#460a5d 148.5px,#450558 175.0px,#450457 228.5px)"></div>
<div style="left:420.00px;top:102.80px;width:228.70px;height:2.10px;background:linear-gradient(90deg,#450457 0.0px,#46075b 74.0px,#471063 88.0px,#482071 97.0px,#453882 105.0px,#404588 107.0px,#375b8d 108.5px,#2d718e 109.5px,#218e8d 110.5px,#1f9f88 111.0px,#2ab07f 111.5px,#48c16e 112.0px,#6fcf58 112.5px,#99d93e 113.0px,#bddf26 113.5px,#d9e219 114.0px,#e8e419 114.5px,#ece51b 115.0px,#e4e418 115.5px,#cfe11c 116.0px,#b0dd2f 116.5px,#88d548 117.0px,#5fc961 117.5px,#3bba76 118.0px,#23a983 118.5px,#1f988b 119.0px,#29798e 120.0px,#34618d 121.0px,#3f4989 122.5px,#433c84 124.0px,#472a79 129.0px,#481568 138.0px,#460a5d 149.5px,#450558 180.0px,#450457 228.5px)"></div>
<div style="left:420.00px;top:104.30px;width:228.70px;height:2.10px;background:linear-gradient(90deg,#450457 0.0px,#46075b 74.0px,#471063 88.0px,#482071 97.0px,#453882 105.0px,#404588 107.0px,#375a8c 108.5px,#2d708e 109.5px,#228c8d 110.5px,#1e9d89 111.0px,#28ae80 111.5px,#43be71 112.0px,#68cc5c 112.5px,#90d743 113.0px,#b4dd2c 113.5px,#cfe11c 114.0px,#dfe318 114.5px,#e2e418 115.0px,#dae319 115.5px,#c5e021 116.0px,#a6db35 116.5px,#80d34d 117.0px,#58c765 117.5px,#36b878 118.0px,#22a785 118.5px,#1f968b 119.0px,#2a778e 120.0px,#34608d 121.0px,#3f4889 122.5px,#433c84 124.0px,#472a79 129.0px,#481568 138.0px,#460a5d 149.5px,#450558 180.0px,#450457 228.5px)"></div>
<div style="left:420.00px;top:105.80px;width:228.70px;height:2.10px;background:linear-gradient(90deg,#450457 0.0px,#46075b 74.0px,#471063 88.0px,#482071 97.0px,#453882 105.0px,#404587 107.0px,#37598c 108.5px,#2e6e8e 109.5px,#238a8d 110.5px,#1f9a8a 111.0px,#25ab82 111.5px,#3dbb74 112.0px,#5fca61 112.5px,#85d44a 113.0px,#a8db33 113.5px,#c3e023 114.0px,#d2e21b 114.5px,#d6e21a 115.0px,#cee11d 115.5px,#b9de28 116.0px,#9bd93c 116.5px,#76d153 117.0px,#51c469 117.5px,#31b57b 118.0px,#20a486 118.5px,#20938c 119.0px,#2b768e 120.0px,#39568c 121.5px,#414387 123.0px,#453781 125.0px,#481b6d 135.0px,#470d60 144.5px,#45065a 161.5px,#450457 228.5px)"></div>
<div style="left:420.00px;top:107.30px;width:228.70px;height:2.10px;background:linear-gradient(90deg,#450457 0.0px,#46075b 74.0px,#471063 88.0px,#482071 97.0px,#443a83 105.5px,#414487 107.0px,#38588c 108.5px,#297a8e 110.0px,#1f988b 111.0px,#23a884 111.5px,#37b877 112.0px,#57c766 112.5px,#7bd250 113.0px,#9dd93b 113.5px,#b7de2a 114.0px,#c6e021 114.5px,#cae01f 115.0px,#c1df24 115.5px,#addc30 116.0px,#90d743 116.5px,#6dce59 117.0px,#4ac16d 117.5px,#2db27d 118.0px,#1fa287 118.5px,#20918c 119.0px,#30688e 120.5px,#3d4d8a 122.0px,#433f85 123.5px,#46307e 127.0px,#481769 137.0px,#460b5e 148.0px,#450558 173.0px,#450457 228.5px)"></div>
<div style="left:420.00px;top:108.80px;width:228.70px;height:2.10px;background:linear-gradient(90deg,#450457 0.0px,#46075b 74.0px,#471063 88.0px,#482071 97.0px,#443a83 105.5px,#414487 107.0px,#38578c 108.5px,#2a788e 110.0px,#1f958b 111.0px,#21a585 111.5px,#32b67a 112.0px,#50c46a 112.5px,#71cf56 113.0px,#91d742 113.5px,#abdc32 114.0px,#bade28 114.5px,#bddf26 115.0px,#b5de2b 115.5px,#a2da38 116.0px,#85d44a 116.5px,#64cb5e 117.0px,#43be71 117.5px,#29af7f 118.0px,#1f9f88 118.5px,#27808e 119.5px,#365d8d 121.0px,#3f4788 122.5px,#443983 124.5px,#481d6f 134.0px,#470f61 143.0px,#46075a 158.5px,#450457 228.5px)"></div>
<div style="left:420.00px;top:110.30px;width:228.70px;height:2.10px;background:linear-gradient(90deg,#450457 0.0px,#46075b 74.0px,#471063 88.0px,#482071 97.0px,#443a83 105.5px,#414487 107.0px,#38578c 108.5px,#2a778e 110.0px,#20938c 111.0px,#20a287 111.5px,#2db27d 112.0px,#46c06f 112.5px,#81d34d 113.5px,#98d93e 114.0px,#a6db35 114.5px,#aadc32 115.0px,#a2da38 115.5px,#90d743 116.0px,#76d053 116.5px,#3bbb75 117.5px,#26ac82 118.0px,#1e9c89 118.5px,#277f8e 119.5px,#365c8d 121.0px,#3f4788 122.5px,#443983 124.5px,#481d6f 134.0px,#470f61 143.0px,#46075a 158.0px,#450457 228.5px)"></div>
<div style="left:420.00px;top:111.80px;width:228.70px;height:2.10px;background:linear-gradient(90deg,#450457 0.0px,#46075b 74.0px,#471063 88.0px,#482071 97.0px,#443a83 105.5px,#3e4989 107.5px,#34608d 109.0px,#26828e 110.5px,#21908c 111.0px,#1f9f88 111.5px,#28ae80 112.0px,#3cbb75 112.5px,#70cf57 113.5px,#84d44b 114.0px,#91d743 114.5px,#94d841 115.0px,#8dd645 115.5px,#7dd24f 116.0px,#66cc5d 116.5px,#33b67a 117.5px,#22a884 118.0px,#1f998a 118.5px,#287d8e 119.5px,#365c8d 121.0px,#3f4788 122.5px,#443983 124.5px,#481d6f 134.0px,#470f61 143.0px,#46075a 158.0px,#450457 228.5px)"></div>
<div style="left:420.00px;top:113.30px;width:228.70px;height:2.10px;background:linear-gradient(90deg,#450457 0.0px,#46075b 74.0px,#471063 88.0px,#482071 97.0px,#453882 105.0px,#404487 107.0px,#38578c 108.5px,#2b748e 110.0px,#218e8d 111.0px,#1e9c89 111.5px,#24aa83 112.0px,#33b679 112.5px,#5fc961 113.5px,#71cf57 114.0px,#7cd250 114.5px,#7ed34e 115.0px,#78d152 115.5px,#6acd5a 116.0px,#40bd72 117.0px,#2cb17e 117.5px,#20a486 118.0px,#1f968b 118.5px,#2d708e 120.0px,#3a548b 121.5px,#414387 123.0px,#453581 125.5px,#481a6c 135.5px,#470c5f 145.5px,#450659 164.0px,#450457 228.5px)"></div>
<div style="left:420.00px;top:114.80px;width:228.70px;height:2.10px;background:linear-gradient(90deg,#450457 0.0px,#46075b 74.0px,#471063 88.0px,#482071 97.0px,#453882 105.0px,#404587 107.0px,#39578c 108.5px,#2c738e 110.0px,#1f988b 111.5px,#21a586 112.0px,#2cb17e 112.5px,#4fc46a 113.5px,#5fc961 114.0px,#68cc5c 114.5px,#6bcd5a 115.0px,#65cc5e 115.5px,#59c765 116.0px,#36b878 117.0px,#26ad81 117.5px,#1fa088 118.0px,#20938c 118.5px,#2e6f8e 120.0px,#3a548b 121.5px,#414387 123.0px,#453581 125.5px,#481a6c 135.5px,#470c5f 145.5px,#450659 164.0px,#450457 228.5px)"></div>
<div style="left:420.00px;top:116.30px;width:228.70px;height:2.10px;background:linear-gradient(90deg,#450457 0.0px,#46075b 74.0px,#471063 88.0px,#482071 97.0px,#453882 105.0px,#404587 107.0px,#39568c 108.5px,#2c728e 110.0px,#1f948c 111.5px,#1fa188 112.0px,#26ac82 112.5px,#41be72 113.5px,#4ec36b 114.0px,#56c666 114.5px,#58c765 115.0px,#54c568 115.5px,#49c16d 116.0px,#2db27d 117.0px,#22a884 117.5px,#1e9c89 118.0px,#2a788e 119.5px,#375b8d 121.0px,#3f4788 122.5px,#443a83 124.5px,#481e70 133.5px,#470f62 142.5px,#46075a 157.0px,#450457 228.5px)"></div>
<div style="left:420.00px;top:117.80px;width:228.70px;height:2.10px;background:linear-gradient(90deg,#450457 0.0px,#46075b 74.0px,#471063 88.0px,#482071 97.0px,#453882 105.0px,#404588 107.0px,#39568c 108.5px,#2d708e 110.0px,#21918c 111.5px,#1e9c89 112.0px,#21a785 112.5px,#35b778 113.5px,#3fbd73 114.0px,#46c06f 114.5px,#48c06e 115.0px,#44bf70 115.5px,#31b57b 116.5px,#26ac81 117.0px,#20a287 117.5px,#1f978b 118.0px,#2b768e 119.5px,#375a8d 121.0px,#3f4788 122.5px,#443a83 124.5px,#482071 133.0px,#471062 142.0px,#46075b 156.5px,#450457 228.5px)"></div>
<div style="left:420.00px;top:119.30px;width:228.70px;height:2.10px;background:linear-gradient(90deg,#450457 0.0px,#46075b 74.0px,#471063 88.0px,#482071 97.0px,#443882 105.0px,#404587 107.0px,#39558c 108.5px,#2a788e 110.5px,#1f978b 112.0px,#1fa187 112.5px,#2cb17e 113.5px,#38b977 114.5px,#3aba76 115.0px,#37b878 115.5px,#28ae80 116.5px,#22a785 117.0px,#1f9d89 117.5px,#23898e 118.5px,#33628d 120.5px,#3d4d8a 122.0px,#433c84 124.0px,#482979 129.5px,#481467 138.5px,#46095d 150.0px,#450558 182.5px,#450457 228.5px)"></div>
<div style="left:420.00px;top:120.80px;width:228.70px;height:2.10px;background:linear-gradient(90deg,#450457 0.0px,#46075b 74.0px,#471063 88.0px,#482071 97.0px,#443882 105.0px,#404587 107.0px,#39558c 108.5px,#2b758e 110.5px,#20938c 112.0px,#20a486 113.0px,#29af7f 114.0px,#2eb37d 115.0px,#28ae80 116.0px,#1fa188 117.0px,#218f8d 118.0px,#34608d 120.5px,#3d4c8a 122.0px,#433c84 124.0px,#482979 129.5px,#481467 138.5px,#46095d 150.0px,#450558 182.5px,#450457 228.5px)"></div>
<div style="left:420.00px;top:122.30px;width:228.70px;height:2.10px;background:linear-gradient(90deg,#450457 0.0px,#46075b 74.0px,#471063 88.0px,#482072 97.0px,#443982 105.0px,#404487 107.0px,#375b8d 109.0px,#218e8d 112.0px,#1f9e89 113.0px,#23a884 114.0px,#25ac82 115.0px,#22a785 116.0px,#1e9b8a 117.0px,#2a788e 119.0px,#38588c 121.0px,#414387 123.0px,#463480 126.0px,#48196b 136.0px,#470c5f 146.0px,#450659 165.5px,#450457 228.5px)"></div>
<div style="left:420.00px;top:123.80px;width:228.70px;height:2.10px;background:linear-gradient(90deg,#450457 0.0px,#46075b 74.0px,#471063 88.0px,#482072 97.0px,#443982 105.0px,#3f4889 107.5px,#34608d 109.5px,#20918c 112.5px,#1fa187 114.0px,#20a486 115.0px,#1fa088 116.0px,#218e8d 117.5px,#355e8d 120.5px,#404788 122.5px,#453882 125.0px,#481c6e 134.5px,#470e61 144.0px,#45065a 160.5px,#450457 228.5px)"></div>
<div style="left:420.00px;top:125.30px;width:228.70px;height:2.10px;background:linear-gradient(90deg,#450457 0.0px,#46075b 74.0px,#471063 88.0px,#482072 97.0px,#443982 105.0px,#3f4889 107.5px,#355f8d 109.5px,#228c8d 112.5px,#1e9b8a 114.0px,#1f9e89 115.0px,#1f9a8a 116.0px,#23898d 117.5px,#39568c 121.0px,#414387 123.0px,#463480 126.0px,#48196b 136.0px,#470c5f 146.0px,#450659 165.5px,#450457 228.5px)"></div>
<div style="left:420.00px;top:126.80px;width:228.70px;height:2.10px;background:linear-gradient(90deg,#450457 0.0px,#46075b 74.0px,#471063 88.0px,#482072 97.0px,#443982 105.0px,#3f4889 107.5px,#355e8d 109.5px,#228d8d 113.0px,#1f978b 114.5px,#20948c 116.0px,#25858e 117.5px,#39558c 121.0px,#414287 123.0px,#46327f 126.5px,#48196b 136.0px,#470c5f 146.0px,#450659 165.5px,#450457 228.5px)"></div>
<div style="left:420.00px;top:128.30px;width:228.70px;height:2.10px;background:linear-gradient(90deg,#450457 0.0px,#46075b 74.0px,#471063 88.0px,#482072 97.0px,#443982 105.0px,#3f4788 107.5px,#33628d 110.0px,#24888e 113.0px,#20918c 114.5px,#218e8d 116.0px,#26808e 117.5px,#3c4f8a 121.5px,#433c84 124.0px,#482677 130.5px,#481466 139.0px,#46095c 151.0px,#450458 188.0px,#450457 228.5px)"></div>
<div style="left:420.00px;top:129.80px;width:228.70px;height:2.10px;background:linear-gradient(90deg,#450457 0.0px,#46075b 74.0px,#471063 88.0px,#482072 97.0px,#443b83 105.5px,#3e4b89 108.0px,#2f6c8e 111.0px,#26838e 113.0px,#228b8d 114.5px,#23898e 116.0px,#2b768e 118.0px,#3d4e8a 121.5px,#433c84 124.0px,#482575 131.0px,#481366 139.5px,#46095c 152.0px,#450458 194.5px,#450457 228.5px)"></div>
<div style="left:420.00px;top:131.30px;width:228.70px;height:2.10px;background:linear-gradient(90deg,#450457 0.0px,#46075b 74.0px,#471063 88.0px,#482071 97.0px,#443a83 105.5px,#3e4989 108.0px,#30698e 111.0px,#287d8e 113.0px,#25858e 114.5px,#26838e 116.0px,#2c728e 118.0px,#3d4c8a 121.5px,#443c84 124.0px,#482273 132.0px,#471264 140.5px,#46085b 153.5px,#450457 207.5px,#450457 228.5px)"></div>
<div style="left:420.00px;top:132.80px;width:228.70px;height:2.10px;background:linear-gradient(90deg,#450457 0.0px,#46075b 74.0px,#471063 88.0px,#482071 97.0px,#443a83 105.5px,#3f4889 108.0px,#2f6c8e 111.5px,#287e8e 113.5px,#26828e 115.0px,#287c8e 116.5px,#355f8d 119.5px,#3f4788 122.0px,#453782 125.0px,#481b6d 135.0px,#470d60 144.5px,#45065a 161.5px,#450457 228.5px)"></div>
<div style="left:420.00px;top:134.30px;width:228.70px;height:2.10px;background:linear-gradient(90deg,#450457 0.0px,#46075b 74.0px,#471063 88.0px,#482071 97.0px,#443983 105.5px,#3e4c8a 108.5px,#2a778e 113.0px,#277e8e 114.5px,#287c8e 116.0px,#2f6c8e 118.0px,#3e4a89 121.5px,#443982 124.5px,#481c6e 134.5px,#470e60 144.0px,#45065a 160.5px,#450457 228.5px)"></div>
<div style="left:420.00px;top:135.80px;width:228.70px;height:2.10px;background:linear-gradient(90deg,#450457 0.0px,#46075b 74.0px,#471062 88.0px,#482071 97.0px,#443983 105.5px,#3e4a89 108.5px,#2b748e 113.0px,#297b8e 114.5px,#2a798e 116.0px,#306a8e 118.0px,#3f4989 121.5px,#453882 124.5px,#481c6e 134.5px,#470d60 144.0px,#45065a 160.5px,#450457 228.5px)"></div>
<div style="left:420.00px;top:137.30px;width:228.70px;height:2.10px;background:linear-gradient(90deg,#450457 0.0px,#46075b 74.0px,#471062 88.0px,#481f71 97.0px,#443b83 106.0px,#3d4d8a 109.0px,#2d718e 113.0px,#2a778e 114.5px,#2b758e 116.0px,#31678e 118.0px,#3f4889 121.5px,#453882 124.5px,#481c6d 134.5px,#470d60 144.0px,#45065a 160.5px,#450457 228.5px)"></div>
<div style="left:420.00px;top:138.80px;width:228.70px;height:2.10px;background:linear-gradient(90deg,#450457 0.0px,#46075b 74.0px,#471062 88.0px,#481f71 97.0px,#443a83 106.0px,#3d4c8a 109.0px,#2e6d8e 113.0px,#2c748e 114.5px,#2c728e 116.0px,#34608d 118.5px,#414487 122.0px,#46327f 126.0px,#48186b 136.0px,#460b5e 146.5px,#450559 168.0px,#450457 228.5px)"></div>
<div style="left:420.00px;top:140.30px;width:228.70px;height:2.10px;background:linear-gradient(90deg,#450457 0.0px,#46075b 74.5px,#471063 88.5px,#482072 97.5px,#443a83 106.0px,#3e4b89 109.0px,#306a8e 113.0px,#2d708e 114.5px,#2e6e8e 116.0px,#355d8d 118.5px,#414387 122.0px,#46327f 126.0px,#48176a 136.5px,#460b5e 147.0px,#450559 170.0px,#450457 228.5px)"></div>
<div style="left:420.00px;top:141.80px;width:228.70px;height:2.10px;background:linear-gradient(90deg,#450457 0.0px,#46075b 74.5px,#471063 88.5px,#482072 97.5px,#443b84 106.5px,#3b518b 110.0px,#30698e 113.5px,#2f6d8e 115.0px,#32668e 117.0px,#414286 122.0px,#46307e 126.5px,#481769 136.5px,#460b5e 147.0px,#450559 170.0px,#450457 228.5px)"></div>
<div style="left:420.00px;top:143.30px;width:228.70px;height:2.10px;background:linear-gradient(90deg,#450457 0.0px,#46075b 74.5px,#471063 88.5px,#482071 97.5px,#443b83 106.5px,#3c4f8a 110.0px,#32668e 113.5px,#30688e 115.5px,#345f8d 117.5px,#424186 122.0px,#472d7b 127.5px,#481668 137.0px,#460a5d 148.0px,#450558 174.0px,#450457 228.5px)"></div>
<div style="left:420.00px;top:144.80px;width:228.70px;height:2.10px;background:linear-gradient(90deg,#450457 0.0px,#46075b 74.5px,#471063 88.5px,#482071 97.5px,#433c84 107.0px,#3a548b 111.0px,#33638d 113.5px,#32658e 115.5px,#37598c 118.0px,#433e85 122.5px,#482575 130.5px,#471265 139.5px,#46085c 152.0px,#450458 199.0px,#450457 228.5px)"></div>
<div style="left:420.00px;top:146.30px;width:228.70px;height:2.10px;background:linear-gradient(90deg,#450457 0.0px,#46075b 74.5px,#471063 88.5px,#482071 97.5px,#433c84 107.0px,#3a528b 111.0px,#33628d 114.0px,#33628d 116.0px,#3b518b 119.0px,#443b84 123.0px,#481d6f 133.5px,#470e61 143.0px,#45065a 158.5px,#450457 228.5px)"></div>
<div style="left:420.00px;top:147.80px;width:228.70px;height:2.10px;background:linear-gradient(90deg,#450457 0.0px,#46075b 74.5px,#471062 88.5px,#482071 97.5px,#443b84 107.0px,#3a548c 111.5px,#34608d 114.0px,#345f8d 116.0px,#3d4c8a 119.5px,#443982 123.5px,#481a6c 135.0px,#470c5f 145.0px,#450659 163.5px,#450457 228.5px)"></div>
<div style="left:420.00px;top:149.30px;width:228.70px;height:2.10px;background:linear-gradient(90deg,#450457 0.0px,#46075b 74.5px,#471062 88.5px,#481f71 97.5px,#433d84 107.5px,#365c8d 113.5px,#355e8d 115.5px,#3a548c 118.0px,#433c84 122.5px,#481e6f 133.0px,#470e61 142.5px,#46075a 157.5px,#450457 228.5px)"></div>
<div style="left:420.00px;top:150.80px;width:228.70px;height:2.10px;background:linear-gradient(90deg,#450457 0.0px,#46075b 75.0px,#471062 88.5px,#481f71 97.5px,#433c84 107.5px,#375a8c 113.5px,#365c8d 115.5px,#3c508b 118.5px,#443a83 123.0px,#481a6c 134.5px,#470c5f 144.5px,#450659 162.5px,#450457 228.5px)"></div>
<div style="left:420.00px;top:152.30px;width:228.70px;height:2.10px;background:linear-gradient(90deg,#450457 0.0px,#46075b 75.0px,#471063 89.0px,#482072 98.0px,#433e85 108.0px,#38588c 113.5px,#375a8c 115.5px,#3d4e8a 118.5px,#453782 123.5px,#48186a 135.5px,#460b5e 146.0px,#450559 167.5px,#450457 228.5px)"></div>
<div style="left:420.00px;top:153.80px;width:228.70px;height:2.10px;background:linear-gradient(90deg,#450457 0.0px,#46075b 75.0px,#471063 89.0px,#482072 98.0px,#433d84 108.0px,#38578c 114.0px,#39568c 116.0px,#453581 124.0px,#481769 136.0px,#460b5e 146.5px,#450559 169.5px,#450457 228.5px)"></div>
<div style="left:420.00px;top:155.30px;width:228.70px;height:2.10px;background:linear-gradient(90deg,#450457 0.0px,#46075b 75.0px,#471063 89.0px,#482071 98.0px,#433e85 108.5px,#3a548c 114.0px,#3a538b 116.5px,#453580 124.0px,#481769 136.0px,#460b5e 146.5px,#450559 169.5px,#450457 228.5px)"></div>
<div style="left:420.00px;top:156.80px;width:228.70px;height:2.10px;background:linear-gradient(90deg,#450457 0.0px,#46075b 75.0px,#471063 89.0px,#482071 98.0px,#423f85 109.0px,#3b528b 114.0px,#3c508b 116.5px,#463480 124.0px,#481769 136.0px,#460a5e 147.0px,#450558 172.0px,#450457 228.5px)"></div>
<div style="left:420.00px;top:158.30px;width:228.70px;height:2.10px;background:linear-gradient(90deg,#450457 0.0px,#46075b 75.0px,#471062 89.0px,#482172 98.5px,#424086 109.5px,#3c4f8a 114.0px,#3d4e8a 116.5px,#46317e 125.0px,#481668 136.5px,#460a5d 147.5px,#450558 174.0px,#450457 228.5px)"></div>
<div style="left:420.00px;top:159.80px;width:228.70px;height:2.10px;background:linear-gradient(90deg,#450457 0.0px,#46075b 75.5px,#471062 89.0px,#482072 98.5px,#433f85 109.5px,#3d4d8a 114.0px,#3d4c8a 116.5px,#472d7b 126.5px,#481567 137.0px,#46095d 148.5px,#450558 179.5px,#450457 228.5px)"></div>
<div style="left:420.00px;top:161.30px;width:228.70px;height:2.10px;background:linear-gradient(90deg,#450457 0.0px,#46075b 75.5px,#470f62 89.0px,#482071 98.5px,#433f85 109.5px,#3d4d8a 114.0px,#3e4b8a 116.5px,#472b7a 127.0px,#481466 137.5px,#46095c 149.5px,#450458 186.5px,#450457 228.5px)"></div>
<div style="left:420.00px;top:162.80px;width:228.70px;height:2.10px;background:linear-gradient(90deg,#450457 0.0px,#46075b 75.5px,#470f62 89.0px,#482071 98.5px,#433f85 109.5px,#3d4c8a 114.0px,#3e4b89 116.5px,#472b7a 127.0px,#481466 137.5px,#46095c 149.5px,#450458 187.0px,#450457 228.5px)"></div>
<div style="left:420.00px;top:164.30px;width:228.70px;height:2.10px;background:linear-gradient(90deg,#450457 0.0px,#46075b 76.0px,#471062 89.5px,#482172 99.0px,#433f85 109.5px,#3e4c8a 114.0px,#3f4989 117.0px,#482978 127.5px,#481366 137.5px,#46095c 149.5px,#450458 188.0px,#450457 228.5px)"></div>
<div style="left:420.00px;top:165.80px;width:228.70px;height:2.10px;background:linear-gradient(90deg,#450457 0.0px,#46075b 76.0px,#470f62 89.5px,#482072 99.0px,#433d84 109.0px,#3e4b89 114.0px,#3f4989 117.0px,#482878 127.5px,#481366 137.5px,#46095c 149.5px,#450458 189.0px,#450457 228.5px)"></div>
<div style="left:420.00px;top:167.30px;width:228.70px;height:2.10px;background:linear-gradient(90deg,#450457 0.0px,#46075a 76.0px,#470f62 89.5px,#482071 99.0px,#443983 108.0px,#3e4b89 114.0px,#3f4889 117.0px,#472b7a 126.5px,#481466 137.0px,#46095c 149.0px,#450458 186.5px,#450457 228.5px)"></div>
<div style="left:420.00px;top:168.80px;width:228.70px;height:2.10px;background:linear-gradient(90deg,#450457 0.0px,#46075a 76.0px,#470f62 89.5px,#481f71 99.0px,#443983 108.0px,#3e4a89 114.0px,#3f4889 117.0px,#472e7c 125.0px,#481567 136.0px,#46095d 147.5px,#450458 178.0px,#450457 228.5px)"></div>
<div style="left:420.00px;top:170.30px;width:228.70px;height:2.10px;background:linear-gradient(90deg,#450457 0.0px,#46075a 76.5px,#471062 90.0px,#482072 99.5px,#453782 107.5px,#3f4989 113.5px,#3f4889 116.5px,#46337f 123.5px,#48186b 134.0px,#460b5e 144.5px,#450559 165.0px,#450457 228.5px)"></div>
<div style="left:420.00px;top:171.80px;width:228.70px;height:2.10px;background:linear-gradient(90deg,#450457 0.0px,#46075a 76.5px,#470f62 90.0px,#482172 100.0px,#453781 107.5px,#3f4788 113.0px,#3f4989 116.0px,#443a83 121.5px,#482374 129.0px,#471063 139.0px,#46075b 152.0px,#450457 217.5px,#450457 228.5px)"></div>
<div style="left:420.00px;top:173.30px;width:228.70px;height:2.10px;background:linear-gradient(90deg,#450457 0.0px,#46075a 76.5px,#470f62 90.0px,#482172 100.0px,#453781 107.5px,#3f4788 113.0px,#3f4788 116.5px,#453882 122.0px,#482374 129.0px,#471063 139.0px,#46075b 152.0px,#450457 219.0px,#450457 228.5px)"></div>
<div style="left:420.00px;top:174.80px;width:228.70px;height:2.10px;background:linear-gradient(90deg,#450457 0.0px,#46075a 77.0px,#471062 90.5px,#482273 100.5px,#453781 107.5px,#404688 112.5px,#3f4888 116.0px,#443b84 121.0px,#482676 127.5px,#471264 137.5px,#46085b 150.0px,#450457 200.0px,#450457 228.5px)"></div>
<div style="left:420.00px;top:176.30px;width:228.70px;height:2.10px;background:linear-gradient(90deg,#450457 0.0px,#46075a 77.0px,#470f62 90.5px,#482172 100.5px,#463480 107.0px,#414487 112.0px,#3f4788 116.0px,#443b84 121.0px,#482676 127.5px,#471264 137.5px,#46085b 150.0px,#450457 201.5px,#450457 228.5px)"></div>
<div style="left:420.00px;top:177.80px;width:228.70px;height:2.10px;background:linear-gradient(90deg,#450457 0.0px,#46075a 77.0px,#470f62 90.5px,#482172 100.5px,#463480 107.0px,#414387 111.5px,#3f4788 115.5px,#433d84 120.5px,#482677 127.0px,#471164 137.5px,#46085b 150.0px,#450457 203.0px,#450457 228.5px)"></div>
<div style="left:420.00px;top:179.30px;width:228.70px;height:2.10px;background:linear-gradient(90deg,#450457 0.0px,#46075a 77.5px,#470f62 90.5px,#482072 100.5px,#463480 107.0px,#414387 111.5px,#404688 115.5px,#433d84 120.5px,#482676 127.0px,#471164 137.5px,#46085b 150.0px,#450457 204.0px,#450457 228.5px)"></div>
<div style="left:420.00px;top:180.80px;width:228.70px;height:2.10px;background:linear-gradient(90deg,#450457 0.0px,#46075a 77.5px,#470f62 91.0px,#482172 101.0px,#463480 107.0px,#424186 111.0px,#404688 115.5px,#433e85 120.0px,#482676 127.0px,#471164 137.5px,#46075b 150.0px,#450457 205.5px,#450457 228.5px)"></div>
<div style="left:420.00px;top:182.30px;width:228.70px;height:2.10px;background:linear-gradient(90deg,#450457 0.0px,#46075a 78.0px,#470f62 91.0px,#482273 101.5px,#46337f 107.0px,#424186 111.0px,#404588 115.5px,#433e85 120.0px,#482576 127.0px,#471163 137.5px,#46075b 150.0px,#450457 207.0px,#450457 228.5px)"></div>
<div style="left:420.00px;top:183.80px;width:228.70px;height:2.10px;background:linear-gradient(90deg,#450457 0.0px,#46075a 78.0px,#470f62 91.0px,#482273 101.5px,#46337f 107.0px,#424186 111.0px,#404487 116.0px,#433c84 120.5px,#482575 127.0px,#471163 137.5px,#46075b 150.0px,#450457 208.5px,#450457 228.5px)"></div>
<div style="left:420.00px;top:185.30px;width:228.70px;height:2.10px;background:linear-gradient(90deg,#450457 0.0px,#46075a 78.0px,#470f62 91.0px,#482172 101.5px,#46337f 107.0px,#424186 111.0px,#414487 116.0px,#433d84 120.5px,#482676 126.5px,#471264 136.5px,#46085b 148.5px,#450457 195.0px,#450457 228.5px)"></div>
<div style="left:420.00px;top:186.80px;width:228.70px;height:2.10px;background:linear-gradient(90deg,#450457 0.0px,#46075a 78.0px,#470f62 91.0px,#482172 101.5px,#46317e 106.5px,#424086 110.5px,#414487 115.5px,#433e85 120.0px,#482676 126.5px,#471264 136.5px,#46085b 148.5px,#450457 195.5px,#450457 228.5px)"></div>
<div style="left:420.00px;top:188.30px;width:228.70px;height:2.10px;background:linear-gradient(90deg,#450457 0.0px,#46075a 78.0px,#470f61 91.0px,#482172 101.5px,#46317e 106.5px,#424086 110.5px,#414487 116.0px,#433d84 120.5px,#482676 126.5px,#471264 136.5px,#46085b 148.5px,#450457 196.5px,#450457 228.5px)"></div>
<div style="left:420.00px;top:189.80px;width:228.70px;height:2.10px;background:linear-gradient(90deg,#450457 0.0px,#46075a 78.5px,#470f62 91.5px,#482273 102.0px,#46317e 106.5px,#424086 110.5px,#414487 116.0px,#423f85 120.0px,#482576 126.5px,#471164 136.5px,#46085b 148.5px,#450457 197.0px,#450457 228.5px)"></div>
<div style="left:420.00px;top:191.30px;width:228.70px;height:2.10px;background:linear-gradient(90deg,#450457 0.0px,#46075a 78.5px,#470f62 91.5px,#482273 102.0px,#46317e 106.5px,#424086 110.0px,#414487 115.5px,#423f85 120.0px,#482576 126.5px,#471164 136.5px,#46085b 148.5px,#450457 198.0px,#450457 228.5px)"></div>
<div style="left:420.00px;top:192.80px;width:228.70px;height:2.10px;background:linear-gradient(90deg,#450457 0.0px,#46075a 78.5px,#470f62 91.5px,#482072 101.5px,#46317e 106.5px,#424086 110.0px,#414487 115.5px,#423f85 120.0px,#482576 126.5px,#471164 136.5px,#46085b 148.5px,#450457 198.5px,#450457 228.5px)"></div>
<div style="left:420.00px;top:194.30px;width:228.70px;height:2.10px;background:linear-gradient(90deg,#450457 0.0px,#46075a 78.5px,#470f62 91.5px,#482072 101.5px,#472f7d 106.0px,#424086 110.0px,#414487 115.5px,#424086 120.0px,#482575 126.5px,#471164 136.5px,#46075b 148.5px,#450457 199.0px,#450457 228.5px)"></div>
<div style="left:420.00px;top:195.80px;width:228.70px;height:2.10px;background:linear-gradient(90deg,#450457 0.0px,#46075a 78.5px,#470f62 91.5px,#482072 101.5px,#472f7d 106.0px,#424086 110.0px,#414487 116.0px,#424086 120.0px,#482575 126.5px,#471164 136.5px,#46075b 148.5px,#450457 199.5px,#450457 228.5px)"></div>
<div style="left:420.00px;top:197.30px;width:228.70px;height:2.10px;background:linear-gradient(90deg,#450457 0.0px,#46075a 79.0px,#470f62 92.0px,#482172 102.0px,#46317e 106.5px,#424186 110.0px,#414487 116.0px,#424086 120.0px,#482575 126.5px,#471264 136.0px,#46085b 148.0px,#450457 196.0px,#450457 228.5px)"></div>
<div style="left:420.00px;top:198.80px;width:228.70px;height:2.10px;background:linear-gradient(90deg,#450457 0.0px,#46075a 79.0px,#470f62 92.0px,#482172 102.0px,#472f7d 106.0px,#424186 110.0px,#414387 116.5px,#424086 120.0px,#482575 126.5px,#471264 136.0px,#46085b 148.0px,#450457 196.5px,#450457 228.5px)"></div>
<div style="left:420.00px;top:200.30px;width:228.70px;height:2.10px;background:linear-gradient(90deg,#450457 0.0px,#46075a 79.0px,#470f62 92.0px,#482172 102.0px,#472f7d 106.0px,#424186 110.0px,#414387 116.5px,#424086 120.0px,#482475 126.5px,#471164 136.0px,#46075b 148.0px,#450457 196.5px,#450457 228.5px)"></div>
<div style="left:420.00px;top:201.80px;width:228.70px;height:2.10px;background:linear-gradient(90deg,#450457 0.0px,#46075a 79.0px,#470f62 92.0px,#482172 102.0px,#472f7c 106.0px,#424186 110.0px,#414387 116.5px,#424086 120.0px,#482475 126.5px,#471164 136.0px,#46075b 148.0px,#450457 197.0px,#450457 228.5px)"></div>
<div style="left:420.00px;top:203.30px;width:228.70px;height:2.10px;background:linear-gradient(90deg,#450457 0.0px,#46075a 79.0px,#470f62 92.0px,#482172 102.0px,#472e7c 106.0px,#424186 110.0px,#414387 116.5px,#424086 120.0px,#482475 126.5px,#471164 136.0px,#46075b 148.0px,#450457 197.0px,#450457 228.5px)"></div>
<div style="left:420.00px;top:204.80px;width:228.70px;height:2.10px;background:linear-gradient(90deg,#450457 0.0px,#46075a 79.0px,#470f62 92.0px,#482172 102.0px,#472e7c 106.0px,#424186 110.0px,#414387 116.5px,#424086 120.0px,#482475 126.5px,#471164 136.0px,#46075b 148.0px,#450457 197.0px,#450457 228.5px)"></div>
<div style="left:420.00px;top:206.30px;width:228.70px;height:2.10px;background:linear-gradient(90deg,#450457 0.0px,#46075a 79.0px,#470f62 92.0px,#482172 102.0px,#472e7c 106.0px,#424086 110.0px,#414387 116.5px,#424086 120.0px,#482475 126.5px,#471164 136.0px,#46075b 148.0px,#450457 197.0px,#450457 228.5px)"></div>
<div style="left:420.00px;top:207.80px;width:228.70px;height:2.10px;background:linear-gradient(90deg,#450457 0.0px,#46075a 79.0px,#470f62 92.0px,#482172 102.0px,#472e7c 106.0px,#424086 110.0px,#414387 116.5px,#424086 120.0px,#482475 126.5px,#471164 136.0px,#46075b 148.0px,#450457 197.5px,#450457 228.5px)"></div>
<div style="left:420.00px;top:209.30px;width:228.70px;height:2.10px;background:linear-gradient(90deg,#450457 0.0px,#46075a 79.0px,#470f62 92.0px,#482172 102.0px,#46317e 106.5px,#424086 110.0px,#414387 117.0px,#433e85 120.5px,#482676 126.0px,#471365 135.0px,#46085c 146.5px,#450457 184.5px,#450457 228.5px)"></div>
<div style="left:420.00px;top:210.80px;width:228.70px;height:2.10px;background:linear-gradient(90deg,#450457 0.0px,#46075a 79.0px,#470f62 92.0px,#482172 102.0px,#46317e 106.5px,#424086 110.0px,#414387 117.0px,#433e85 120.5px,#482676 126.0px,#471365 135.0px,#46085c 146.5px,#450457 184.5px,#450457 228.5px)"></div>
<div style="left:420.00px;top:212.30px;width:228.70px;height:2.10px;background:linear-gradient(90deg,#450457 0.0px,#46075a 79.0px,#470f62 92.0px,#482172 102.0px,#46317e 106.5px,#424086 110.0px,#414287 117.0px,#433e85 120.5px,#482576 126.0px,#471365 135.0px,#46085c 146.5px,#450457 185.0px,#450457 228.5px)"></div>
<div style="left:420.00px;top:213.80px;width:228.70px;height:2.10px;background:linear-gradient(90deg,#450457 0.0px,#46075a 79.0px,#470f62 92.0px,#482172 102.0px,#46307e 106.5px,#424086 110.0px,#414287 117.0px,#433e85 120.5px,#482576 126.0px,#471365 135.0px,#46085c 146.5px,#450457 185.0px,#450457 228.5px)"></div>
<div style="left:420.00px;top:215.30px;width:228.70px;height:2.10px;background:linear-gradient(90deg,#450457 0.0px,#46075a 79.0px,#470f62 92.0px,#482072 102.0px,#46307e 106.5px,#424086 110.0px,#414287 117.0px,#433e85 120.5px,#482576 126.0px,#471365 135.0px,#46085b 146.5px,#450457 185.0px,#450457 228.5px)"></div>
<div style="left:420.00px;top:216.80px;width:228.70px;height:2.10px;background:linear-gradient(90deg,#450457 0.0px,#46075a 79.0px,#470f62 92.0px,#482072 102.0px,#46307e 106.5px,#424086 110.0px,#414287 117.0px,#433e85 120.5px,#482576 126.0px,#471365 135.0px,#46085b 146.5px,#450457 185.0px,#450457 228.5px)"></div>
<div style="left:420.00px;top:218.30px;width:228.70px;height:2.10px;background:linear-gradient(90deg,#450457 0.0px,#46075a 79.0px,#470f62 92.0px,#482072 102.0px,#46307e 106.5px,#424086 110.0px,#414287 117.0px,#433e85 120.5px,#482576 126.0px,#471365 135.0px,#46085b 146.5px,#450457 185.0px,#450457 228.5px)"></div>
<div style="left:420.00px;top:219.80px;width:228.70px;height:2.10px;background:linear-gradient(90deg,#450457 0.0px,#46075a 79.0px,#470f62 92.0px,#482072 102.0px,#46307d 106.5px,#424086 110.0px,#414287 117.0px,#433e85 120.5px,#482576 126.0px,#471365 135.0px,#46085b 146.5px,#450457 185.5px,#450457 228.5px)"></div>
<div style="left:420.00px;top:221.30px;width:228.70px;height:2.10px;background:linear-gradient(90deg,#450457 0.0px,#46075a 79.0px,#470f62 92.0px,#482072 102.0px,#47307d 106.5px,#423f86 110.0px,#414286 117.0px,#433d85 120.5px,#482576 126.0px,#471365 135.0px,#46085b 146.5px,#450457 185.5px,#450457 228.5px)"></div>
<div style="left:420.00px;top:222.80px;width:228.70px;height:2.10px;background:linear-gradient(90deg,#450457 0.0px,#46075a 79.0px,#470f62 92.0px,#482072 102.0px,#47307d 106.5px,#423f85 110.0px,#414286 117.0px,#433d85 120.5px,#482576 126.0px,#471365 135.0px,#46085b 146.5px,#450457 185.5px,#450457 228.5px)"></div>
<div style="left:420.00px;top:224.30px;width:228.70px;height:2.10px;background:linear-gradient(90deg,#450457 0.0px,#46075a 79.0px,#470f62 92.0px,#482072 102.0px,#47307d 106.5px,#423f85 110.0px,#414286 117.0px,#433d85 120.5px,#482576 126.0px,#471265 135.0px,#46085b 146.5px,#450457 185.5px,#450457 228.5px)"></div>
<div style="left:420.00px;top:225.80px;width:228.70px;height:2.10px;background:linear-gradient(90deg,#450457 0.0px,#46065a 79.0px,#470f62 92.0px,#482071 102.0px,#47307d 106.5px,#423f85 110.0px,#424286 117.0px,#433d85 120.5px,#482575 126.0px,#471264 135.5px,#46085b 147.5px,#450457 194.5px,#450457 228.5px)"></div>
<div style="left:420.00px;top:227.30px;width:228.70px;height:2.10px;background:linear-gradient(90deg,#450457 0.0px,#46065a 79.0px,#470f62 92.0px,#482071 102.0px,#47307d 106.5px,#423f85 110.0px,#424186 117.0px,#433d84 120.5px,#482575 126.0px,#471264 135.5px,#46085b 147.5px,#450457 194.5px,#450457 228.5px)"></div>
<div style="left:420.00px;top:228.80px;width:228.70px;height:2.10px;background:linear-gradient(90deg,#450457 0.0px,#46065a 79.0px,#470f62 92.0px,#482071 102.0px,#47307d 106.5px,#423f85 110.0px,#424186 117.0px,#433d84 120.5px,#482575 126.0px,#471264 135.5px,#46085b 147.5px,#450457 195.0px,#450457 228.5px)"></div>
<div style="left:420.00px;top:230.30px;width:228.70px;height:2.10px;background:linear-gradient(90deg,#450457 0.0px,#46065a 79.0px,#470f62 92.0px,#482071 102.0px,#47307d 106.5px,#433f85 110.0px,#424186 117.0px,#433d84 120.5px,#482575 126.0px,#471264 135.5px,#46085b 147.5px,#450457 195.0px,#450457 228.5px)"></div>
<div style="left:420.00px;top:231.80px;width:228.70px;height:2.10px;background:linear-gradient(90deg,#450457 0.0px,#46075a 79.5px,#470f62 92.5px,#482172 102.5px,#472f7d 106.5px,#433f85 110.0px,#424186 117.0px,#433d84 120.5px,#482575 126.0px,#471264 135.5px,#46085b 147.5px,#450457 195.0px,#450457 228.5px)"></div>
<div style="left:420.00px;top:233.30px;width:228.70px;height:2.10px;background:linear-gradient(90deg,#450457 0.0px,#46075a 79.5px,#470f62 92.5px,#482172 102.5px,#472f7d 106.5px,#433f85 110.0px,#424186 117.0px,#433d84 120.5px,#482575 126.0px,#471264 135.5px,#46085b 147.5px,#450457 195.0px,#450457 228.5px)"></div>
<div style="left:420.00px;top:234.80px;width:228.70px;height:2.10px;background:linear-gradient(90deg,#450457 0.0px,#46075a 79.5px,#470f62 92.5px,#482172 102.5px,#472f7d 106.5px,#433e85 110.0px,#424186 117.0px,#433d84 120.5px,#482575 126.0px,#471264 135.5px,#46085b 147.5px,#450457 195.5px,#450457 228.5px)"></div>
<div style="left:420.00px;top:236.30px;width:228.70px;height:2.10px;background:linear-gradient(90deg,#450457 0.0px,#46075a 79.5px,#470f62 92.5px,#482172 102.5px,#472f7d 106.5px,#433e85 110.0px,#424186 117.0px,#433c84 120.5px,#482575 126.0px,#471264 135.5px,#46075b 147.5px,#450457 195.5px,#450457 228.5px)"></div>
<div style="left:420.00px;top:237.80px;width:228.70px;height:2.10px;background:linear-gradient(90deg,#450457 0.0px,#46075a 79.5px,#470f62 92.5px,#482172 102.5px,#472f7d 106.5px,#433e85 110.0px,#424186 117.0px,#433c84 120.5px,#482475 126.0px,#471264 135.5px,#46075b 147.5px,#450457 195.5px,#450457 228.5px)"></div>
<div style="left:420.00px;top:239.30px;width:228.70px;height:2.10px;background:linear-gradient(90deg,#450457 0.0px,#46075a 79.5px,#470f62 92.5px,#482172 102.5px,#472f7d 106.5px,#433e85 110.0px,#424186 117.0px,#433c84 120.5px,#482475 126.0px,#471264 135.5px,#46075b 147.5px,#450457 195.5px,#450457 228.5px)"></div>
<div style="left:420.00px;top:240.80px;width:228.70px;height:2.10px;background:linear-gradient(90deg,#450457 0.0px,#46075a 79.5px,#470f62 92.5px,#482172 102.5px,#472f7d 106.5px,#433e85 110.0px,#424086 117.0px,#433c84 120.5px,#482475 126.0px,#471164 135.5px,#46075b 147.5px,#450457 196.0px,#450457 228.5px)"></div>
<div style="left:420.00px;top:242.30px;width:228.70px;height:2.10px;background:linear-gradient(90deg,#450457 0.0px,#46075a 79.5px,#470f62 92.5px,#482172 102.5px,#472f7d 106.5px,#433e85 110.0px,#424086 117.0px,#433c84 120.5px,#482475 126.0px,#471164 135.5px,#46075b 147.5px,#450457 196.0px,#450457 228.5px)"></div>
<div style="left:420.00px;top:243.80px;width:228.70px;height:2.10px;background:linear-gradient(90deg,#450457 0.0px,#46075a 79.5px,#470f62 92.5px,#482172 102.5px,#472f7d 106.5px,#433e85 110.0px,#424086 117.0px,#433c84 120.5px,#482475 126.0px,#471164 135.5px,#46075b 147.5px,#450457 196.0px,#450457 228.5px)"></div>
<div style="left:420.00px;top:245.30px;width:228.70px;height:2.10px;background:linear-gradient(90deg,#450457 0.0px,#46075a 79.5px,#470f62 92.5px,#482172 102.5px,#472f7d 106.5px,#433e85 110.0px,#424086 117.0px,#433c84 120.5px,#482475 126.0px,#471164 135.5px,#46075b 147.5px,#450457 196.5px,#450457 228.5px)"></div>
<div style="left:420.00px;top:246.80px;width:228.70px;height:1.40px;background:linear-gradient(90deg,#450457 0.0px,#46075a 79.5px,#470f62 92.5px,#482172 102.5px,#472f7d 106.5px,#433e85 110.0px,#424086 117.0px,#443c84 120.5px,#482475 126.0px,#471164 135.5px,#46075b 147.5px,#450457 196.5px,#450457 228.5px)"></div>
<div style="left:49.00px;top:295.20px;width:228.60px;height:228.40px;background:radial-gradient(circle at 114.00px 113.80px,#fde725 0.0px,#f9e722 1.0px,#efe51c 2.0px,#dee318 3.0px,#d4e21a 3.5px,#bcdf27 4.5px,#82d44c 6.5px,#56c666 8.0px,#3dbc74 9.0px,#2ab07f 10.0px,#23a983 10.5px,#20a386 11.0px,#1f978b 12.0px,#29798e 14.5px,#3c508b 18.5px,#453681 21.5px,#482071 25.0px,#471063 29.0px,#45065a 33.5px,#440255 42.0px,#440154 60.0px)"></div>
<div style="left:420.00px;top:295.20px;width:228.70px;height:228.40px;background:radial-gradient(circle at 114.30px 113.80px,#fde725 0.0px,#f9e722 1.0px,#efe51c 2.0px,#dfe318 3.0px,#d6e21a 3.5px,#bedf26 4.5px,#86d44a 6.5px,#4dc36b 8.5px,#36b878 9.5px,#26ac82 10.5px,#21a685 11.0px,#1f9a8a 12.0px,#287c8e 14.5px,#3a538b 18.5px,#453581 22.0px,#482071 25.5px,#471063 29.5px,#45065a 34.0px,#440255 42.5px,#440154 60.0px)"></div>
<div style="left:291.40px;top:17.30px;width:11.90px;height:230.30px;background:linear-gradient(180deg,#fde725 0.00%,#f4e61e 1.56%,#eae51a 3.12%,#e0e318 4.69%,#d5e21a 6.25%,#c0df24 9.38%,#82d34c 18.75%,#5dc963 25.00%,#3ebc74 31.25%,#2cb17e 35.94%,#21a685 40.62%,#1e9b8a 45.31%,#25858e 54.69%,#375a8d 71.88%,#404587 79.69%,#46327e 85.94%,#481d6f 92.19%,#440154 100.00%)"></div>
<div style="left:662.60px;top:17.30px;width:11.90px;height:230.30px;background:linear-gradient(180deg,#fde725 0.00%,#f4e61e 1.56%,#eae51a 3.12%,#e0e318 4.69%,#d5e21a 6.25%,#c0df24 9.38%,#82d34c 18.75%,#5dc963 25.00%,#3ebc74 31.25%,#2cb17e 35.94%,#21a685 40.62%,#1e9b8a 45.31%,#25858e 54.69%,#375a8d 71.88%,#404587 79.69%,#46327e 85.94%,#481d6f 92.19%,#440154 100.00%)"></div>
<div style="left:291.40px;top:294.10px;width:11.90px;height:230.30px;background:linear-gradient(180deg,#fde725 0.00%,#f4e61e 1.56%,#eae51a 3.12%,#e0e318 4.69%,#d5e21a 6.25%,#c0df24 9.38%,#82d34c 18.75%,#5dc963 25.00%,#3ebc74 31.25%,#2cb17e 35.94%,#21a685 40.62%,#1e9b8a 45.31%,#25858e 54.69%,#375a8d 71.88%,#404587 79.69%,#46327e 85.94%,#481d6f 92.19%,#440154 100.00%)"></div>
<div style="left:662.60px;top:294.00px;width:11.90px;height:230.50px;background:linear-gradient(180deg,#fde725 0.00%,#f4e61e 1.56%,#eae51a 3.12%,#e0e318 4.69%,#d5e21a 6.25%,#c0df24 9.38%,#82d34c 18.75%,#5dc963 25.00%,#3ebc74 31.25%,#2cb17e 35.94%,#21a685 40.62%,#1e9b8a 45.31%,#25858e 54.69%,#375a8d 71.88%,#404587 79.69%,#46327e 85.94%,#481d6f 92.19%,#440154 100.00%)"></div>
<svg width="700" height="557" viewBox="0 0 700 557" style="position:absolute;left:0;top:0;will-change:transform">
<defs>
<clipPath id="c0"><rect x="49.00" y="17.30" width="228.60" height="230.30"/></clipPath>
<clipPath id="c1"><rect x="420.00" y="17.30" width="228.70" height="230.30"/></clipPath>
<clipPath id="c2"><rect x="49.00" y="295.20" width="228.60" height="228.40"/></clipPath>
<clipPath id="c3"><rect x="420.00" y="295.20" width="228.70" height="228.40"/></clipPath>
</defs>
<g clip-path="url(#c0)" fill="none" stroke="#fff" stroke-opacity="0.7" stroke-width="1.1" stroke-linecap="round">
<path d="M49.00,37.50 C49.12,37.77 49.02,37.45 49.70,39.10 C50.38,40.75 51.95,44.40 53.10,47.40 C54.25,50.40 55.72,53.42 56.60,57.10 C57.48,60.78 58.07,65.82 58.40,69.50 C58.73,73.18 58.73,75.12 58.60,79.20 C58.47,83.28 58.05,89.23 57.60,94.00 C57.15,98.77 56.30,103.65 55.90,107.80 C55.50,111.95 55.27,115.43 55.20,118.90 C55.13,122.37 55.45,126.98 55.50,128.60"/>
<path d="M64.20,18.40 C64.88,20.23 67.15,25.95 68.30,29.40 C69.45,32.85 70.40,36.10 71.10,39.10 C71.80,42.10 72.27,46.02 72.50,47.40"/>
<path d="M85.20,18.40 C85.57,20.47 86.93,26.43 87.40,30.80 C87.87,35.17 88.18,39.98 88.00,44.60 C87.82,49.22 87.15,54.58 86.30,58.50 C85.45,62.42 84.00,65.57 82.90,68.10 C81.80,70.63 80.23,72.77 79.70,73.70"/>
<path d="M101.50,18.40 C101.62,20.47 102.28,26.32 102.20,30.80 C102.12,35.28 101.20,42.88 101.00,45.30"/>
<path d="M115.00,18.40 C115.10,20.93 115.88,28.77 115.60,33.60 C115.32,38.43 114.50,43.25 113.30,47.40 C112.10,51.55 110.37,55.27 108.40,58.50 C106.43,61.73 104.03,63.82 101.50,66.80 C98.97,69.78 95.97,72.95 93.20,76.40 C90.43,79.85 86.82,84.57 84.90,87.50 C82.98,90.43 83.53,91.30 81.70,94.00 C79.87,96.70 76.13,100.25 73.90,103.70 C71.67,107.15 69.57,111.02 68.30,114.70 C67.03,118.38 66.40,122.33 66.30,125.80 C66.20,129.27 66.67,132.28 67.70,135.50 C68.73,138.72 70.32,142.12 72.50,145.10 C74.68,148.08 77.80,151.08 80.80,153.40 C83.80,155.72 87.05,157.15 90.50,159.00 C93.95,160.85 98.05,162.50 101.50,164.50 C104.95,166.50 107.75,168.65 111.20,171.00 C114.65,173.35 120.37,177.33 122.20,178.60"/>
<path d="M125.70,18.40 C125.77,20.00 126.10,24.78 126.10,28.00 C126.10,31.22 125.77,36.08 125.70,37.70"/>
<path d="M136.70,52.90 C136.13,54.28 134.57,58.43 133.30,61.20 C132.03,63.97 130.48,66.97 129.10,69.50 C127.72,72.03 126.83,73.87 125.00,76.40 C123.17,78.93 120.52,81.77 118.10,84.70 C115.68,87.63 113.27,91.07 110.50,94.00 C107.73,96.93 104.62,99.30 101.50,102.30 C98.38,105.30 94.45,108.78 91.80,112.00 C89.15,115.22 86.98,118.38 85.60,121.60 C84.22,124.82 83.62,128.30 83.50,131.30 C83.38,134.30 83.73,136.83 84.90,139.60 C86.07,142.37 88.42,145.48 90.50,147.90 C92.58,150.32 96.25,153.07 97.40,154.10"/>
<path d="M49.00,168.00 C49.92,168.50 51.97,169.82 54.50,171.00 C57.03,172.18 60.97,173.77 64.20,175.10 C67.43,176.43 72.28,178.35 73.90,179.00"/>
<path d="M88.40,190.40 C90.58,191.32 97.47,193.83 101.50,195.90 C105.53,197.97 109.37,200.03 112.60,202.80 C115.83,205.57 118.83,209.73 120.90,212.50 C122.97,215.27 123.85,216.63 125.00,219.40 C126.15,222.17 127.00,225.18 127.80,229.10 C128.60,233.02 129.47,240.60 129.80,242.90"/>
<path d="M50.40,197.30 C52.47,198.22 58.43,200.73 62.80,202.80 C67.17,204.87 72.45,207.17 76.60,209.70 C80.75,212.23 84.47,215.00 87.70,218.00 C90.93,221.00 93.82,224.47 96.00,227.70 C98.18,230.93 99.65,234.30 100.80,237.40 C101.95,240.50 102.55,244.82 102.90,246.30"/>
<path d="M51.10,215.20 C52.60,216.35 57.23,219.33 60.10,222.10 C62.97,224.87 66.12,228.80 68.30,231.80 C70.48,234.80 71.93,237.68 73.20,240.10 C74.47,242.52 75.45,245.27 75.90,246.30"/>
<path d="M143.00,18.40 C142.95,20.47 142.93,26.88 142.70,30.80 C142.47,34.72 142.02,38.67 141.60,41.90 C141.18,45.13 140.43,48.82 140.20,50.20"/>
<path d="M154.00,18.40 C153.95,20.47 153.93,26.43 153.70,30.80 C153.47,35.17 153.12,40.45 152.60,44.60 C152.08,48.75 151.52,52.00 150.60,55.70 C149.68,59.40 148.37,62.88 147.10,66.80 C145.83,70.72 144.50,74.95 143.00,79.20 C141.50,83.45 140.18,88.22 138.10,92.30 C136.02,96.38 132.68,100.18 130.50,103.70 C128.32,107.22 126.72,110.18 125.00,113.40 C123.28,116.62 121.23,119.55 120.20,123.00 C119.17,126.45 118.68,130.63 118.80,134.10 C118.92,137.57 119.87,141.03 120.90,143.80 C121.93,146.57 123.17,148.17 125.00,150.70 C126.83,153.23 129.60,156.02 131.90,159.00 C134.20,161.98 136.27,164.30 138.80,168.60 C141.33,172.90 144.80,179.80 147.10,184.80 C149.40,189.80 151.22,193.98 152.60,198.60 C153.98,203.22 154.70,207.88 155.40,212.50 C156.10,217.12 156.45,220.67 156.80,226.30 C157.15,231.93 157.38,242.97 157.50,246.30"/>
<path d="M164.80,66.10 C165.08,67.60 165.88,72.00 166.50,75.10 C167.12,78.20 167.82,81.55 168.50,84.70 C169.18,87.85 169.78,90.15 170.60,94.00 C171.42,97.85 172.43,103.20 173.40,107.80 C174.37,112.40 175.77,116.98 176.40,121.60 C177.03,126.22 177.25,130.88 177.20,135.50 C177.15,140.12 176.73,145.15 176.10,149.30 C175.47,153.45 174.32,156.78 173.40,160.40 C172.48,164.02 171.53,167.85 170.60,171.00 C169.67,174.15 168.27,177.92 167.80,179.30"/>
<path d="M161.60,79.20 C161.37,80.35 160.65,83.63 160.20,86.10 C159.75,88.57 159.82,90.38 158.90,94.00 C157.98,97.62 155.75,103.20 154.70,107.80 C153.65,112.40 152.98,116.98 152.60,121.60 C152.22,126.22 152.17,130.88 152.40,135.50 C152.63,140.12 153.27,145.15 154.00,149.30 C154.73,153.45 156.00,156.78 156.80,160.40 C157.60,164.02 158.35,168.32 158.80,171.00 C159.25,173.68 159.38,175.58 159.50,176.50"/>
<path d="M176.40,18.40 C176.47,20.47 176.50,26.43 176.80,30.80 C177.10,35.17 177.62,40.45 178.20,44.60 C178.78,48.75 179.27,51.78 180.30,55.70 C181.33,59.62 182.80,64.18 184.40,68.10 C186.00,72.02 188.05,75.28 189.90,79.20 C191.75,83.12 193.65,87.98 195.50,91.60 C197.35,95.22 198.70,97.50 201.00,100.90 C203.30,104.30 206.88,108.32 209.30,112.00 C211.72,115.68 214.12,119.55 215.50,123.00 C216.88,126.45 217.48,129.47 217.60,132.70 C217.72,135.93 217.35,139.17 216.20,142.40 C215.05,145.63 213.23,148.88 210.70,152.10 C208.17,155.32 203.77,158.55 201.00,161.70 C198.23,164.85 196.87,167.38 194.10,171.00 C191.33,174.62 187.17,179.25 184.40,183.40 C181.63,187.55 179.45,191.52 177.50,195.90 C175.55,200.28 173.73,204.63 172.70,209.70 C171.67,214.77 171.65,220.20 171.30,226.30 C170.95,232.40 170.72,242.97 170.60,246.30"/>
<path d="M183.70,18.40 C183.82,20.47 184.10,25.97 184.40,30.80 C184.70,35.63 185.32,44.63 185.50,47.40"/>
<path d="M194.80,56.40 C195.37,57.43 197.17,60.65 198.20,62.60 C199.23,64.55 199.38,65.57 201.00,68.10 C202.62,70.63 205.48,74.57 207.90,77.80 C210.32,81.03 214.23,85.88 215.50,87.50"/>
<path d="M149.20,103.70 C148.50,105.53 146.03,110.55 145.00,114.70 C143.97,118.85 143.22,124.45 143.00,128.60 C142.78,132.75 143.25,136.03 143.70,139.60 C144.15,143.17 145.37,148.27 145.70,150.00"/>
<path d="M179.20,105.10 C179.83,106.93 182.02,112.18 183.00,116.10 C183.98,120.02 184.82,124.92 185.10,128.60 C185.38,132.28 185.17,134.63 184.70,138.20 C184.23,141.77 182.70,148.03 182.30,150.00"/>
<path d="M194.10,114.70 C194.78,116.32 197.17,120.93 198.20,124.40 C199.23,127.87 200.18,132.27 200.30,135.50 C200.42,138.73 200.05,140.70 198.90,143.80 C197.75,146.90 194.32,152.38 193.40,154.10"/>
<path d="M128.50,195.20 C129.77,196.93 134.03,201.57 136.10,205.60 C138.17,209.63 139.75,214.80 140.90,219.40 C142.05,224.00 142.43,228.72 143.00,233.20 C143.57,237.68 144.08,244.12 144.30,246.30"/>
<path d="M201.70,18.40 C201.70,20.47 201.35,26.43 201.70,30.80 C202.05,35.17 202.53,39.98 203.80,44.60 C205.07,49.22 207.00,54.12 209.30,58.50 C211.60,62.88 214.60,66.98 217.60,70.90 C220.60,74.82 224.30,78.15 227.30,82.00 C230.30,85.85 232.38,90.15 235.60,94.00 C238.82,97.85 243.73,101.65 246.60,105.10 C249.47,108.55 251.30,111.25 252.80,114.70 C254.30,118.15 255.13,123.95 255.60,125.80"/>
<path d="M225.20,18.40 C225.13,20.47 224.57,26.43 224.80,30.80 C225.03,35.17 225.62,39.87 226.60,44.60 C227.58,49.33 230.02,56.77 230.70,59.20"/>
<path d="M242.50,18.40 C242.15,20.47 240.82,26.43 240.40,30.80 C239.98,35.17 239.65,39.53 240.00,44.60 C240.35,49.67 242.08,58.43 242.50,61.20"/>
<path d="M263.20,18.40 C262.28,20.47 259.20,25.97 257.70,30.80 C256.20,35.63 254.67,42.10 254.20,47.40 C253.73,52.70 254.43,58.10 254.90,62.60 C255.37,67.10 256.65,72.43 257.00,74.40"/>
<path d="M277.60,26.50 C277.50,26.75 278.25,25.67 277.00,28.00 C275.75,30.33 271.93,36.12 270.10,40.50 C268.27,44.88 266.92,49.70 266.00,54.30 C265.08,58.90 264.72,63.72 264.60,68.10 C264.48,72.48 264.83,76.28 265.30,80.60 C265.77,84.92 266.72,89.47 267.40,94.00 C268.08,98.53 268.95,103.20 269.40,107.80 C269.85,112.40 270.22,117.22 270.10,121.60 C269.98,125.98 269.85,130.18 268.70,134.10 C267.55,138.02 265.27,142.00 263.20,145.10 C261.13,148.20 257.45,151.43 256.30,152.70"/>
<path d="M225.20,116.10 C226.00,117.72 228.92,122.80 230.00,125.80 C231.08,128.80 231.82,131.10 231.70,134.10 C231.58,137.10 231.42,140.35 229.30,143.80 C227.18,147.25 220.72,152.97 219.00,154.80"/>
<path d="M244.50,141.00 C243.02,142.62 238.93,147.70 235.60,150.70 C232.27,153.70 228.42,156.12 224.50,159.00 C220.58,161.88 214.17,166.50 212.10,168.00"/>
<path d="M277.60,154.40 C275.43,155.85 269.30,160.33 264.60,163.10 C259.90,165.87 254.93,168.53 249.40,171.00 C243.87,173.47 237.17,175.37 231.40,177.90 C225.63,180.43 219.87,183.20 214.80,186.20 C209.73,189.20 204.45,192.67 201.00,195.90 C197.55,199.13 196.17,202.15 194.10,205.60 C192.03,209.05 189.98,212.68 188.60,216.60 C187.22,220.52 186.50,224.15 185.80,229.10 C185.10,234.05 184.63,243.43 184.40,246.30"/>
<path d="M277.60,189.50 C274.05,190.80 263.08,194.62 256.30,197.30 C249.52,199.98 242.43,202.38 236.90,205.60 C231.37,208.82 226.78,212.47 223.10,216.60 C219.42,220.73 216.75,225.45 214.80,230.40 C212.85,235.35 211.97,243.65 211.40,246.30"/>
<path d="M277.60,215.50 C275.67,216.83 269.32,220.55 266.00,223.50 C262.68,226.45 259.90,229.40 257.70,233.20 C255.50,237.00 253.62,244.12 252.80,246.30"/>
</g>
<g clip-path="url(#c1)" fill="none" stroke="#fff" stroke-opacity="0.7" stroke-width="1.1" stroke-linecap="round">
<path d="M423.50,17.30 C425.22,21.17 430.23,32.48 433.80,40.50 C437.37,48.52 441.45,56.48 444.90,65.40 C448.35,74.32 451.73,86.00 454.50,94.00 C457.27,102.00 459.18,105.80 461.50,113.40 C463.82,121.00 466.22,130.00 468.40,139.60 C470.58,149.20 472.53,161.17 474.60,171.00 C476.67,180.83 478.62,185.83 480.80,198.60 C482.98,211.37 486.55,239.43 487.70,247.60"/>
<path d="M455.60,17.30 C456.58,20.25 459.48,29.07 461.50,35.00 C463.52,40.93 465.75,46.68 467.70,52.90 C469.65,59.12 471.60,65.45 473.20,72.30 C474.80,79.15 475.80,87.15 477.30,94.00 C478.80,100.85 480.47,105.80 482.20,113.40 C483.93,121.00 485.98,130.00 487.70,139.60 C489.42,149.20 491.15,161.85 492.50,171.00 C493.85,180.15 494.75,186.43 495.80,194.50 C496.85,202.57 497.85,210.55 498.80,219.40 C499.75,228.25 501.05,242.90 501.50,247.60"/>
<path d="M486.30,17.30 C487.00,20.48 489.00,28.85 490.50,36.40 C492.00,43.95 493.70,53.00 495.30,62.60 C496.90,72.20 498.48,83.00 500.10,94.00 C501.72,105.00 503.38,115.77 505.00,128.60 C506.62,141.43 508.53,158.17 509.80,171.00 C511.07,183.83 511.68,192.83 512.60,205.60 C513.52,218.37 514.85,240.60 515.30,247.60"/>
<path d="M436.30,18.40 C437.03,20.23 439.15,25.72 440.70,29.40 C442.25,33.08 444.78,38.65 445.60,40.50"/>
<path d="M420.00,38.50 C420.12,38.60 419.08,35.77 420.70,39.10 C422.32,42.43 426.93,52.62 429.70,58.50 C432.47,64.38 436.03,71.75 437.30,74.40"/>
<path d="M420.00,64.50 C420.12,64.65 419.55,63.42 420.70,65.40 C421.85,67.38 424.72,71.63 426.90,76.40 C429.08,81.17 431.27,87.15 433.80,94.00 C436.33,100.85 439.15,109.55 442.10,117.50 C445.05,125.45 449.93,137.67 451.50,141.70"/>
<path d="M420.00,90.00 C420.05,90.08 418.92,87.07 420.30,90.50 C421.68,93.93 425.58,104.37 428.30,110.60 C431.02,116.83 435.22,125.02 436.60,127.90"/>
<path d="M420.00,120.50 C420.12,120.58 419.08,117.35 420.70,121.00 C422.32,124.65 426.37,134.07 429.70,142.40 C433.03,150.73 437.25,160.47 440.70,171.00 C444.15,181.53 447.05,192.83 450.40,205.60 C453.75,218.37 459.07,240.60 460.80,247.60"/>
<path d="M427.60,183.40 C429.33,188.25 434.67,201.80 438.00,212.50 C441.33,223.20 446.00,241.75 447.60,247.60"/>
<path d="M420.00,195.00 C420.12,195.15 419.43,192.75 420.70,195.90 C421.97,199.05 425.30,207.33 427.60,213.90 C429.90,220.47 433.35,231.73 434.50,235.30"/>
<path d="M459.80,178.60 C461.00,183.10 464.65,194.10 467.00,205.60 C469.35,217.10 472.75,240.60 473.90,247.60"/>
<path d="M502.20,54.30 C502.90,57.30 505.02,65.68 506.40,72.30 C507.78,78.92 509.47,86.47 510.50,94.00 C511.53,101.53 511.87,109.55 512.60,117.50 C513.33,125.45 514.52,137.67 514.90,141.70"/>
<path d="M502.90,17.30 C503.60,20.70 505.48,31.98 507.10,37.70 C508.72,43.42 510.77,46.98 512.60,51.60 C514.43,56.22 516.60,60.80 518.10,65.40 C519.60,70.00 520.68,74.43 521.60,79.20 C522.52,83.97 523.03,86.93 523.60,94.00 C524.17,101.07 524.58,108.77 525.00,121.60 C525.42,134.43 525.68,157.00 526.10,171.00 C526.52,185.00 527.10,192.83 527.50,205.60 C527.90,218.37 528.33,240.60 528.50,247.60"/>
<path d="M531.60,17.30 C531.70,21.85 531.97,35.08 532.20,44.60 C532.43,54.12 532.87,69.43 533.00,74.40"/>
<path d="M538.10,17.30 C538.00,21.85 537.83,35.08 537.50,44.60 C537.17,54.12 536.33,69.43 536.10,74.40"/>
<path d="M567.20,17.30 C566.62,20.70 565.43,30.83 563.70,37.70 C561.97,44.57 558.87,52.27 556.80,58.50 C554.73,64.73 552.68,69.18 551.30,75.10 C549.92,81.02 549.38,86.25 548.50,94.00 C547.62,101.75 546.70,108.77 546.00,121.60 C545.30,134.43 544.80,157.00 544.30,171.00 C543.80,185.00 543.45,192.83 543.00,205.60 C542.55,218.37 541.83,240.60 541.60,247.60"/>
<path d="M585.80,17.30 C584.88,21.85 582.13,35.43 580.30,44.60 C578.47,53.77 576.30,64.07 574.80,72.30 C573.30,80.53 572.92,83.47 571.30,94.00 C569.68,104.53 566.77,122.67 565.10,135.50 C563.43,148.33 562.33,159.32 561.30,171.00 C560.27,182.68 559.88,192.83 558.90,205.60 C557.92,218.37 555.98,240.60 555.40,247.60"/>
<path d="M603.10,18.40 L599.00,31.50"/>
<path d="M617.60,17.30 C616.45,20.70 613.23,30.15 610.70,37.70 C608.17,45.25 605.17,53.22 602.40,62.60 C599.63,71.98 596.40,84.17 594.10,94.00 C591.80,103.83 590.32,113.53 588.60,121.60 C586.88,129.67 585.42,134.17 583.80,142.40 C582.18,150.63 580.28,162.78 578.90,171.00 C577.52,179.22 576.65,184.10 575.50,191.70 C574.35,199.30 573.05,207.28 572.00,216.60 C570.95,225.92 569.67,242.43 569.20,247.60"/>
<path d="M633.50,17.30 C632.23,20.70 628.78,30.15 625.90,37.70 C623.02,45.25 619.42,53.83 616.20,62.60 C612.98,71.37 608.20,85.68 606.60,90.30"/>
<path d="M648.70,19.50 C648.58,19.77 650.18,16.92 648.00,21.10 C645.82,25.28 639.28,36.53 635.60,44.60 C631.92,52.67 628.90,61.27 625.90,69.50 C622.90,77.73 620.32,86.00 617.60,94.00 C614.88,102.00 612.17,109.43 609.60,117.50 C607.03,125.57 604.40,133.48 602.20,142.40 C600.00,151.32 598.43,161.63 596.40,171.00 C594.37,180.37 592.22,185.83 590.00,198.60 C587.78,211.37 584.25,239.43 583.10,247.60"/>
<path d="M648.70,76.50 C648.58,76.72 649.27,74.88 648.00,77.80 C646.73,80.72 644.08,87.38 641.10,94.00 C638.12,100.62 633.55,109.90 630.10,117.50 C626.65,125.10 623.17,130.68 620.40,139.60 C617.63,148.52 616.03,161.17 613.50,171.00 C610.97,180.83 607.97,185.83 605.20,198.60 C602.43,211.37 598.28,239.43 596.90,247.60"/>
<path d="M620.70,202.50 C619.73,206.00 616.68,216.20 614.90,223.50 C613.12,230.80 610.82,242.50 610.00,246.30"/>
<path d="M648.70,172.50 C648.58,172.72 649.95,169.45 648.00,173.80 C646.05,178.15 639.98,191.00 637.00,198.60 C634.02,206.20 632.30,211.23 630.10,219.40 C627.90,227.57 624.85,242.90 623.80,247.60"/>
<path d="M648.70,187.00 C648.58,187.22 649.50,184.52 648.00,188.30 C646.50,192.08 642.57,200.83 639.70,209.70 C636.83,218.57 632.28,236.20 630.80,241.50"/>
</g>
<path clip-path="url(#c0)" d="M127.50,13.50 C128.00,14.32 128.62,15.28 130.50,18.40 C132.38,21.52 136.03,27.83 138.80,32.20 C141.57,36.57 144.57,40.45 147.10,44.60 C149.63,48.75 151.93,53.75 154.00,57.10 C156.07,60.45 158.00,62.97 159.50,64.70 C161.00,66.43 162.18,66.97 163.00,67.50 C163.82,68.03 163.82,67.90 164.40,67.90 C164.98,67.90 165.47,68.15 166.50,67.50 C167.53,66.85 168.77,66.20 170.60,64.00 C172.43,61.80 174.97,58.22 177.50,54.30 C180.03,50.38 182.80,46.37 185.80,40.50 C188.80,34.63 193.55,23.43 195.50,19.10 C197.45,14.77 197.17,15.27 197.50,14.50" fill="none" stroke="#22d2e6" stroke-width="1.7" stroke-dasharray="5.2 2.6"/>
<path clip-path="url(#c1)" d="M500.50,13.50 C500.90,14.32 501.35,15.28 502.90,18.40 C504.45,21.52 507.27,28.05 509.80,32.20 C512.33,36.35 515.80,39.85 518.10,43.30 C520.40,46.75 522.33,49.68 523.60,52.90 C524.87,56.12 525.18,58.90 525.70,62.60 C526.22,66.30 526.35,69.87 526.70,75.10 C527.05,80.33 527.27,88.55 527.80,94.00 C528.33,99.45 529.33,103.20 529.90,107.80 C530.47,112.40 530.40,118.02 531.20,121.60 C532.00,125.18 534.00,128.02 534.70,129.30 C535.40,130.58 534.83,130.58 535.40,129.30 C535.97,128.02 537.35,125.18 538.10,121.60 C538.85,118.02 539.50,112.40 539.90,107.80 C540.30,103.20 540.27,98.77 540.50,94.00 C540.73,89.23 541.00,83.97 541.30,79.20 C541.60,74.43 541.67,69.55 542.30,65.40 C542.93,61.25 543.60,57.98 545.10,54.30 C546.60,50.62 548.88,47.22 551.30,43.30 C553.72,39.38 556.95,34.95 559.60,30.80 C562.25,26.65 565.55,21.28 567.20,18.40 C568.85,15.52 569.12,14.32 569.50,13.50" fill="none" stroke="#22d2e6" stroke-width="1.7" stroke-dasharray="5.2 2.6"/>
<circle cx="163.30" cy="409.40" r="25.90" fill="none" stroke="#fff" stroke-opacity="0.8" stroke-width="1.05" stroke-dasharray="3.9 1.9"/>
<text x="165.50" y="381.10" font-size="12.72" text-anchor="middle" fill="#fff" textLength="15.26" lengthAdjust="spacingAndGlyphs">15</text>
<circle cx="163.30" cy="409.40" r="53.80" fill="none" stroke="#fff" stroke-opacity="0.8" stroke-width="1.05" stroke-dasharray="3.9 1.9"/>
<text x="165.50" y="353.20" font-size="12.72" text-anchor="middle" fill="#fff" textLength="15.26" lengthAdjust="spacingAndGlyphs">30</text>
<circle cx="163.30" cy="409.40" r="97.20" fill="none" stroke="#fff" stroke-opacity="0.8" stroke-width="1.05" stroke-dasharray="3.9 1.9"/>
<text x="165.50" y="309.80" font-size="12.72" text-anchor="middle" fill="#fff" textLength="15.26" lengthAdjust="spacingAndGlyphs">45</text>
<circle cx="534.70" cy="409.40" r="25.90" fill="none" stroke="#fff" stroke-opacity="0.8" stroke-width="1.05" stroke-dasharray="3.9 1.9"/>
<text x="536.90" y="381.10" font-size="12.72" text-anchor="middle" fill="#fff" textLength="15.26" lengthAdjust="spacingAndGlyphs">15</text>
<circle cx="534.70" cy="409.40" r="53.80" fill="none" stroke="#fff" stroke-opacity="0.8" stroke-width="1.05" stroke-dasharray="3.9 1.9"/>
<text x="536.90" y="353.20" font-size="12.72" text-anchor="middle" fill="#fff" textLength="15.26" lengthAdjust="spacingAndGlyphs">30</text>
<circle cx="534.70" cy="409.40" r="97.20" fill="none" stroke="#fff" stroke-opacity="0.8" stroke-width="1.05" stroke-dasharray="3.9 1.9"/>
<text x="536.90" y="309.80" font-size="12.72" text-anchor="middle" fill="#fff" textLength="15.26" lengthAdjust="spacingAndGlyphs">45</text>
<rect x="49.50" y="17.50" width="228.00" height="230.00" fill="none" stroke="#1a1a1a" stroke-width="1"/>
<rect x="420.50" y="17.50" width="228.00" height="230.00" fill="none" stroke="#1a1a1a" stroke-width="1"/>
<rect x="49.50" y="295.50" width="228.00" height="228.00" fill="none" stroke="#1a1a1a" stroke-width="1"/>
<rect x="420.50" y="295.50" width="228.00" height="228.00" fill="none" stroke="#1a1a1a" stroke-width="1"/>
<rect x="291.50" y="17.50" width="12.00" height="230.00" fill="none" stroke="#1a1a1a" stroke-width="1"/>
<rect x="662.50" y="17.50" width="12.00" height="230.00" fill="none" stroke="#1a1a1a" stroke-width="1"/>
<rect x="291.50" y="294.50" width="12.00" height="230.00" fill="none" stroke="#1a1a1a" stroke-width="1"/>
<rect x="662.50" y="294.50" width="12.00" height="230.00" fill="none" stroke="#1a1a1a" stroke-width="1"/>
<line x1="102.18" y1="247.60" x2="102.18" y2="251.10" stroke="#000" stroke-width="1"/>
<text x="102.18" y="263.70" font-size="13.88" text-anchor="middle" fill="#000" textLength="26.38" lengthAdjust="spacingAndGlyphs">&#8722;50</text>
<line x1="163.30" y1="247.60" x2="163.30" y2="251.10" stroke="#000" stroke-width="1"/>
<text x="163.30" y="263.70" font-size="13.88" text-anchor="middle" fill="#000" textLength="7.95" lengthAdjust="spacingAndGlyphs">0</text>
<line x1="224.42" y1="247.60" x2="224.42" y2="251.10" stroke="#000" stroke-width="1"/>
<text x="224.42" y="263.70" font-size="13.88" text-anchor="middle" fill="#000" textLength="15.90" lengthAdjust="spacingAndGlyphs">50</text>
<line x1="473.20" y1="247.60" x2="473.20" y2="251.10" stroke="#000" stroke-width="1"/>
<text x="473.20" y="263.70" font-size="13.88" text-anchor="middle" fill="#000" textLength="26.38" lengthAdjust="spacingAndGlyphs">&#8722;50</text>
<line x1="534.35" y1="247.60" x2="534.35" y2="251.10" stroke="#000" stroke-width="1"/>
<text x="534.35" y="263.70" font-size="13.88" text-anchor="middle" fill="#000" textLength="7.95" lengthAdjust="spacingAndGlyphs">0</text>
<line x1="595.50" y1="247.60" x2="595.50" y2="251.10" stroke="#000" stroke-width="1"/>
<text x="595.50" y="263.70" font-size="13.88" text-anchor="middle" fill="#000" textLength="15.90" lengthAdjust="spacingAndGlyphs">50</text>
<line x1="102.18" y1="523.60" x2="102.18" y2="527.10" stroke="#000" stroke-width="1"/>
<text x="102.18" y="539.70" font-size="13.88" text-anchor="middle" fill="#000" textLength="26.38" lengthAdjust="spacingAndGlyphs">&#8722;50</text>
<line x1="163.30" y1="523.60" x2="163.30" y2="527.10" stroke="#000" stroke-width="1"/>
<text x="163.30" y="539.70" font-size="13.88" text-anchor="middle" fill="#000" textLength="7.95" lengthAdjust="spacingAndGlyphs">0</text>
<line x1="224.42" y1="523.60" x2="224.42" y2="527.10" stroke="#000" stroke-width="1"/>
<text x="224.42" y="539.70" font-size="13.88" text-anchor="middle" fill="#000" textLength="15.90" lengthAdjust="spacingAndGlyphs">50</text>
<line x1="473.20" y1="523.60" x2="473.20" y2="527.10" stroke="#000" stroke-width="1"/>
<text x="473.20" y="539.70" font-size="13.88" text-anchor="middle" fill="#000" textLength="26.38" lengthAdjust="spacingAndGlyphs">&#8722;50</text>
<line x1="534.35" y1="523.60" x2="534.35" y2="527.10" stroke="#000" stroke-width="1"/>
<text x="534.35" y="539.70" font-size="13.88" text-anchor="middle" fill="#000" textLength="7.95" lengthAdjust="spacingAndGlyphs">0</text>
<line x1="595.50" y1="523.60" x2="595.50" y2="527.10" stroke="#000" stroke-width="1"/>
<text x="595.50" y="539.70" font-size="13.88" text-anchor="middle" fill="#000" textLength="15.90" lengthAdjust="spacingAndGlyphs">50</text>
<line x1="45.50" y1="32.60" x2="49.00" y2="32.60" stroke="#000" stroke-width="1"/>
<text x="43.20" y="37.90" font-size="13.88" text-anchor="end" fill="#000" textLength="7.95" lengthAdjust="spacingAndGlyphs">0</text>
<line x1="45.50" y1="75.60" x2="49.00" y2="75.60" stroke="#000" stroke-width="1"/>
<text x="43.20" y="80.90" font-size="13.88" text-anchor="end" fill="#000" textLength="18.43" lengthAdjust="spacingAndGlyphs">&#8722;1</text>
<line x1="45.50" y1="118.60" x2="49.00" y2="118.60" stroke="#000" stroke-width="1"/>
<text x="43.20" y="123.90" font-size="13.88" text-anchor="end" fill="#000" textLength="18.43" lengthAdjust="spacingAndGlyphs">&#8722;2</text>
<line x1="45.50" y1="161.60" x2="49.00" y2="161.60" stroke="#000" stroke-width="1"/>
<text x="43.20" y="166.90" font-size="13.88" text-anchor="end" fill="#000" textLength="18.43" lengthAdjust="spacingAndGlyphs">&#8722;3</text>
<line x1="45.50" y1="204.60" x2="49.00" y2="204.60" stroke="#000" stroke-width="1"/>
<text x="43.20" y="209.90" font-size="13.88" text-anchor="end" fill="#000" textLength="18.43" lengthAdjust="spacingAndGlyphs">&#8722;4</text>
<line x1="45.50" y1="247.60" x2="49.00" y2="247.60" stroke="#000" stroke-width="1"/>
<text x="43.20" y="252.90" font-size="13.88" text-anchor="end" fill="#000" textLength="18.43" lengthAdjust="spacingAndGlyphs">&#8722;5</text>
<line x1="416.50" y1="32.60" x2="420.00" y2="32.60" stroke="#000" stroke-width="1"/>
<text x="414.20" y="37.90" font-size="13.88" text-anchor="end" fill="#000" textLength="7.95" lengthAdjust="spacingAndGlyphs">0</text>
<line x1="416.50" y1="75.60" x2="420.00" y2="75.60" stroke="#000" stroke-width="1"/>
<text x="414.20" y="80.90" font-size="13.88" text-anchor="end" fill="#000" textLength="18.43" lengthAdjust="spacingAndGlyphs">&#8722;1</text>
<line x1="416.50" y1="118.60" x2="420.00" y2="118.60" stroke="#000" stroke-width="1"/>
<text x="414.20" y="123.90" font-size="13.88" text-anchor="end" fill="#000" textLength="18.43" lengthAdjust="spacingAndGlyphs">&#8722;2</text>
<line x1="416.50" y1="161.60" x2="420.00" y2="161.60" stroke="#000" stroke-width="1"/>
<text x="414.20" y="166.90" font-size="13.88" text-anchor="end" fill="#000" textLength="18.43" lengthAdjust="spacingAndGlyphs">&#8722;3</text>
<line x1="416.50" y1="204.60" x2="420.00" y2="204.60" stroke="#000" stroke-width="1"/>
<text x="414.20" y="209.90" font-size="13.88" text-anchor="end" fill="#000" textLength="18.43" lengthAdjust="spacingAndGlyphs">&#8722;4</text>
<line x1="416.50" y1="247.60" x2="420.00" y2="247.60" stroke="#000" stroke-width="1"/>
<text x="414.20" y="252.90" font-size="13.88" text-anchor="end" fill="#000" textLength="18.43" lengthAdjust="spacingAndGlyphs">&#8722;5</text>
<line x1="45.50" y1="348.33" x2="49.00" y2="348.33" stroke="#000" stroke-width="1"/>
<text x="43.20" y="353.63" font-size="13.88" text-anchor="end" fill="#000" textLength="15.90" lengthAdjust="spacingAndGlyphs">50</text>
<line x1="45.50" y1="409.40" x2="49.00" y2="409.40" stroke="#000" stroke-width="1"/>
<text x="43.20" y="414.70" font-size="13.88" text-anchor="end" fill="#000" textLength="7.95" lengthAdjust="spacingAndGlyphs">0</text>
<line x1="45.50" y1="470.47" x2="49.00" y2="470.47" stroke="#000" stroke-width="1"/>
<text x="43.20" y="475.77" font-size="13.88" text-anchor="end" fill="#000" textLength="26.38" lengthAdjust="spacingAndGlyphs">&#8722;50</text>
<line x1="416.50" y1="348.33" x2="420.00" y2="348.33" stroke="#000" stroke-width="1"/>
<text x="414.20" y="353.63" font-size="13.88" text-anchor="end" fill="#000" textLength="15.90" lengthAdjust="spacingAndGlyphs">50</text>
<line x1="416.50" y1="409.40" x2="420.00" y2="409.40" stroke="#000" stroke-width="1"/>
<text x="414.20" y="414.70" font-size="13.88" text-anchor="end" fill="#000" textLength="7.95" lengthAdjust="spacingAndGlyphs">0</text>
<line x1="416.50" y1="470.47" x2="420.00" y2="470.47" stroke="#000" stroke-width="1"/>
<text x="414.20" y="475.77" font-size="13.88" text-anchor="end" fill="#000" textLength="26.38" lengthAdjust="spacingAndGlyphs">&#8722;50</text>
<line x1="303.30" y1="247.60" x2="306.80" y2="247.60" stroke="#000" stroke-width="1"/>
<text x="309.80" y="253.00" font-size="13.88" text-anchor="start" fill="#000" textLength="7.95" lengthAdjust="spacingAndGlyphs">0</text>
<line x1="303.30" y1="173.97" x2="306.80" y2="173.97" stroke="#000" stroke-width="1"/>
<text x="309.80" y="179.37" font-size="13.88" text-anchor="start" fill="#000" textLength="7.95" lengthAdjust="spacingAndGlyphs">1</text>
<line x1="303.30" y1="100.35" x2="306.80" y2="100.35" stroke="#000" stroke-width="1"/>
<text x="309.80" y="105.75" font-size="13.88" text-anchor="start" fill="#000" textLength="7.95" lengthAdjust="spacingAndGlyphs">2</text>
<line x1="303.30" y1="26.72" x2="306.80" y2="26.72" stroke="#000" stroke-width="1"/>
<text x="309.80" y="32.12" font-size="13.88" text-anchor="start" fill="#000" textLength="7.95" lengthAdjust="spacingAndGlyphs">3</text>
<line x1="674.50" y1="247.60" x2="678.00" y2="247.60" stroke="#000" stroke-width="1"/>
<text x="681.00" y="253.00" font-size="13.88" text-anchor="start" fill="#000" textLength="7.95" lengthAdjust="spacingAndGlyphs">0</text>
<line x1="674.50" y1="190.71" x2="678.00" y2="190.71" stroke="#000" stroke-width="1"/>
<text x="681.00" y="196.11" font-size="13.88" text-anchor="start" fill="#000" textLength="7.95" lengthAdjust="spacingAndGlyphs">5</text>
<line x1="674.50" y1="133.82" x2="678.00" y2="133.82" stroke="#000" stroke-width="1"/>
<text x="681.00" y="139.22" font-size="13.88" text-anchor="start" fill="#000" textLength="15.90" lengthAdjust="spacingAndGlyphs">10</text>
<line x1="674.50" y1="76.92" x2="678.00" y2="76.92" stroke="#000" stroke-width="1"/>
<text x="681.00" y="82.32" font-size="13.88" text-anchor="start" fill="#000" textLength="15.90" lengthAdjust="spacingAndGlyphs">15</text>
<line x1="674.50" y1="20.03" x2="678.00" y2="20.03" stroke="#000" stroke-width="1"/>
<text x="681.00" y="25.43" font-size="13.88" text-anchor="start" fill="#000" textLength="15.90" lengthAdjust="spacingAndGlyphs">20</text>
<line x1="303.30" y1="524.40" x2="306.80" y2="524.40" stroke="#000" stroke-width="1"/>
<text x="309.80" y="529.80" font-size="13.88" text-anchor="start" fill="#000" textLength="19.88" lengthAdjust="spacingAndGlyphs">0.0</text>
<line x1="303.30" y1="482.98" x2="306.80" y2="482.98" stroke="#000" stroke-width="1"/>
<text x="309.80" y="488.38" font-size="13.88" text-anchor="start" fill="#000" textLength="19.88" lengthAdjust="spacingAndGlyphs">0.5</text>
<line x1="303.30" y1="441.56" x2="306.80" y2="441.56" stroke="#000" stroke-width="1"/>
<text x="309.80" y="446.96" font-size="13.88" text-anchor="start" fill="#000" textLength="19.88" lengthAdjust="spacingAndGlyphs">1.0</text>
<line x1="303.30" y1="400.14" x2="306.80" y2="400.14" stroke="#000" stroke-width="1"/>
<text x="309.80" y="405.54" font-size="13.88" text-anchor="start" fill="#000" textLength="19.88" lengthAdjust="spacingAndGlyphs">1.5</text>
<line x1="303.30" y1="358.72" x2="306.80" y2="358.72" stroke="#000" stroke-width="1"/>
<text x="309.80" y="364.12" font-size="13.88" text-anchor="start" fill="#000" textLength="19.88" lengthAdjust="spacingAndGlyphs">2.0</text>
<line x1="303.30" y1="317.30" x2="306.80" y2="317.30" stroke="#000" stroke-width="1"/>
<text x="309.80" y="322.70" font-size="13.88" text-anchor="start" fill="#000" textLength="19.88" lengthAdjust="spacingAndGlyphs">2.5</text>
<line x1="674.50" y1="524.50" x2="678.00" y2="524.50" stroke="#000" stroke-width="1"/>
<text x="681.00" y="529.90" font-size="13.88" text-anchor="start" fill="#000" textLength="19.88" lengthAdjust="spacingAndGlyphs">0.0</text>
<line x1="674.50" y1="484.70" x2="678.00" y2="484.70" stroke="#000" stroke-width="1"/>
<text x="681.00" y="490.10" font-size="13.88" text-anchor="start" fill="#000" textLength="19.88" lengthAdjust="spacingAndGlyphs">0.5</text>
<line x1="674.50" y1="444.91" x2="678.00" y2="444.91" stroke="#000" stroke-width="1"/>
<text x="681.00" y="450.31" font-size="13.88" text-anchor="start" fill="#000" textLength="19.88" lengthAdjust="spacingAndGlyphs">1.0</text>
<line x1="674.50" y1="405.11" x2="678.00" y2="405.11" stroke="#000" stroke-width="1"/>
<text x="681.00" y="410.51" font-size="13.88" text-anchor="start" fill="#000" textLength="19.88" lengthAdjust="spacingAndGlyphs">1.5</text>
<line x1="674.50" y1="365.31" x2="678.00" y2="365.31" stroke="#000" stroke-width="1"/>
<text x="681.00" y="370.71" font-size="13.88" text-anchor="start" fill="#000" textLength="19.88" lengthAdjust="spacingAndGlyphs">2.0</text>
<line x1="674.50" y1="325.52" x2="678.00" y2="325.52" stroke="#000" stroke-width="1"/>
<text x="681.00" y="330.92" font-size="13.88" text-anchor="start" fill="#000" textLength="19.88" lengthAdjust="spacingAndGlyphs">2.5</text>
<text x="49.60" y="12.3" font-size="15.3" textLength="56.6" lengthAdjust="spacingAndGlyphs">Model 2</text>
<text x="420.60" y="12.3" font-size="15.3" textLength="56.6" lengthAdjust="spacingAndGlyphs">Model 3</text>
<text x="272.00" y="11.7" font-size="15.4" font-style="italic">B</text>
<text x="281.60" y="14.5" font-size="12.4" font-style="italic">z</text>
<text x="293.50" y="11.6" font-size="14.4" textLength="29.60" lengthAdjust="spacingAndGlyphs">[kG]</text>
<text x="643.30" y="11.7" font-size="15.4" font-style="italic">B</text>
<text x="652.90" y="14.5" font-size="12.4" font-style="italic">z</text>
<text x="664.80" y="11.6" font-size="14.4" textLength="29.60" lengthAdjust="spacingAndGlyphs">[kG]</text>
<text transform="translate(18.6,132.9) rotate(-90)" font-size="13.8" text-anchor="middle"><tspan font-style="italic">z</tspan> <tspan font-size="12.2" dy="-0.9">[</tspan><tspan dy="0.9">Mm</tspan><tspan font-size="12.2" dy="-0.9">]</tspan></text>
<text transform="translate(12.0,409.3) rotate(-90)" font-size="13.8" text-anchor="middle"><tspan font-style="italic">y</tspan> <tspan font-size="12.2" dy="-0.9">[</tspan><tspan dy="0.9">Mm</tspan><tspan font-size="12.2" dy="-0.9">]</tspan></text>
<text x="164.00" y="555.2" font-size="13.4" text-anchor="middle" textLength="43.5" lengthAdjust="spacingAndGlyphs"><tspan font-style="italic">x</tspan> [Mm]</text>
<text x="535.05" y="555.2" font-size="13.4" text-anchor="middle" textLength="43.5" lengthAdjust="spacingAndGlyphs"><tspan font-style="italic">x</tspan> [Mm]</text>
</svg>
</div></body></html>
